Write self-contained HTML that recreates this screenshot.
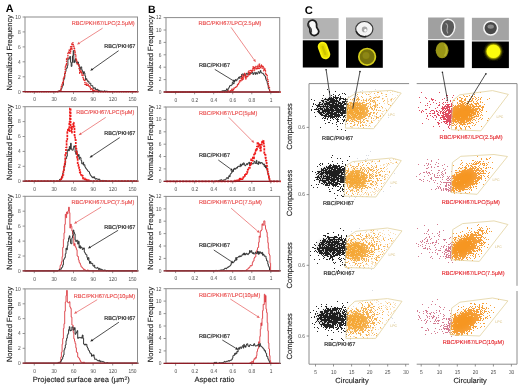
<!DOCTYPE html>
<html><head><meta charset="utf-8"><style>
html,body{margin:0;padding:0;background:#fff;width:520px;height:387px;overflow:hidden}
svg{display:block;font-family:"Liberation Sans", sans-serif;text-rendering:geometricPrecision}
</style></head><body>
<svg width="520" height="387" viewBox="0 0 520 387">
<defs><filter id="gblur" x="0" y="0" width="520" height="387" filterUnits="userSpaceOnUse"><feGaussianBlur stdDeviation="0.35"/></filter><filter id="bl2" x="-50%" y="-50%" width="200%" height="200%"><feGaussianBlur stdDeviation="2"/></filter><filter id="bl1" x="-50%" y="-50%" width="200%" height="200%"><feGaussianBlur stdDeviation="1"/></filter><filter id="bl06" x="-50%" y="-50%" width="200%" height="200%"><feGaussianBlur stdDeviation="0.5"/></filter><clipPath id="gcL0"><polygon points="345.4,128.1 347.2,98.5 357.5,92.4 391.1,90.4 401.2,93.1 373.6,128.7"/></clipPath><clipPath id="gcR0"><polygon points="451.3,129.7 452.8,100.5 459.7,94.8 492.5,90.6 508.4,94.4 480.9,130.8"/></clipPath><clipPath id="gcL1"><polygon points="344.1,196.1 345.6,166 352.6,161.6 391.7,158 401.3,160.6 375.9,197"/></clipPath><clipPath id="gcR1"><polygon points="450.9,192.5 452.4,162.5 460.8,156.3 494,154.5 507.5,156.5 477.1,194.3"/></clipPath><clipPath id="gcL2"><polygon points="345,267.5 346.5,237.5 355.8,231.3 387.5,228 402,230.9 373.9,268.4"/></clipPath><clipPath id="gcR2"><polygon points="451.2,259.8 452.7,229.6 462.6,223.6 494,220.9 507.9,224.5 479.3,261.4"/></clipPath><clipPath id="gcL3"><polygon points="345.9,338.4 347.2,308.5 354.9,301.3 387.5,298.6 402,301.3 375.7,338.4"/></clipPath><clipPath id="gcR3"><polygon points="450.2,334.8 451.7,308 459.9,302.2 492.5,298 507.9,300.9 479.8,336"/></clipPath></defs>
<rect width="520" height="387" fill="#fff"/>
<g filter="url(#gblur)">
<line x1="22.6" y1="91.7" x2="25" y2="91.7" stroke="#777" stroke-width="0.8"/>
<text transform="translate(20.6 93.5) scale(0.82 1)" font-size="5.9" fill="#4a4a4a" text-anchor="end">0</text>
<line x1="22.6" y1="76.8" x2="25" y2="76.8" stroke="#777" stroke-width="0.8"/>
<text transform="translate(20.6 78.6) scale(0.82 1)" font-size="5.9" fill="#4a4a4a" text-anchor="end">2</text>
<line x1="22.6" y1="61.8" x2="25" y2="61.8" stroke="#777" stroke-width="0.8"/>
<text transform="translate(20.6 63.6) scale(0.82 1)" font-size="5.9" fill="#4a4a4a" text-anchor="end">4</text>
<line x1="22.6" y1="46.9" x2="25" y2="46.9" stroke="#777" stroke-width="0.8"/>
<text transform="translate(20.6 48.7) scale(0.82 1)" font-size="5.9" fill="#4a4a4a" text-anchor="end">6</text>
<line x1="22.6" y1="31.9" x2="25" y2="31.9" stroke="#777" stroke-width="0.8"/>
<text transform="translate(20.6 33.7) scale(0.82 1)" font-size="5.9" fill="#4a4a4a" text-anchor="end">8</text>
<line x1="22.6" y1="17" x2="25" y2="17" stroke="#777" stroke-width="0.8"/>
<text transform="translate(20.6 18.8) scale(0.82 1)" font-size="5.9" fill="#4a4a4a" text-anchor="end">10</text>
<line x1="34.3" y1="91.7" x2="34.3" y2="94" stroke="#777" stroke-width="0.8"/>
<text transform="translate(34.5 101.3) scale(0.82 1)" font-size="5.9" fill="#4a4a4a" text-anchor="middle">0</text>
<line x1="53.9" y1="91.7" x2="53.9" y2="94" stroke="#777" stroke-width="0.8"/>
<text transform="translate(54.1 101.3) scale(0.82 1)" font-size="5.9" fill="#4a4a4a" text-anchor="middle">30</text>
<line x1="73.5" y1="91.7" x2="73.5" y2="94" stroke="#777" stroke-width="0.8"/>
<text transform="translate(73.7 101.3) scale(0.82 1)" font-size="5.9" fill="#4a4a4a" text-anchor="middle">60</text>
<line x1="93.1" y1="91.7" x2="93.1" y2="94" stroke="#777" stroke-width="0.8"/>
<text transform="translate(93.3 101.3) scale(0.82 1)" font-size="5.9" fill="#4a4a4a" text-anchor="middle">90</text>
<line x1="112.7" y1="91.7" x2="112.7" y2="94" stroke="#777" stroke-width="0.8"/>
<text transform="translate(112.9 101.3) scale(0.82 1)" font-size="5.9" fill="#4a4a4a" text-anchor="middle">120</text>
<line x1="132.3" y1="91.7" x2="132.3" y2="94" stroke="#777" stroke-width="0.8"/>
<text transform="translate(132.5 101.3) scale(0.82 1)" font-size="5.9" fill="#4a4a4a" text-anchor="middle">150</text>
<path d="M24.8 91.7H25.5V91.7H26.1V91.7H26.8V91.7H27.4V91.7H28.1V91.7H28.7V91.7H29.4V91.7H30.1V91.7H30.7V91.7H31.4V91.7H32V91.7H32.7V91.7H33.3V91.7H34V91.7H34.6V91.7H35.3V91.7H35.9V91.7H36.6V91.7H37.2V91.7H37.9V91.7H38.5V91.7H39.2V91.7H39.9V91.7H40.5V91.7H41.2V91.7H41.8V91.7H42.5V91.7H43.1V91.7H43.8V91.7H44.4V91.7H45.1V91.7H45.7V91.7H46.4V91.7H47V91.7H47.7V91.7H48.3V91.7H49V91.7H49.7V91.7H50.3V91.7H51V91.7H51.6V91.7H52.3V91.7H52.9V91.7H53.6V91.7H54.2V91.7H54.9V91.7H55.5V91.7H56.2V91.7H56.8V91.7H57.5V91.7H58.1V91.2H58.8V90.8H59.5V90.7H60.1V91.3H60.8V89.4H61.4V88.3H62.1V86.2H62.7V85.3H63.4V80.2H64V78.4H64.7V73.5H65.3V71.6H66V68.6H66.6V68.1H67.3V65.6H67.9V58.8H68.6V59.2H69.3V57H69.9V56.5H70.6V62.3H71.2V66.4H71.9V62.5H72.5V55.9H73.2V50.6H73.8V62.6H74.5V60.6H75.1V59.1H75.8V62.1H76.4V62.5H77.1V63.6H77.7V62H78.4V65.3H79.1V65.9H79.7V69.5H80.4V67.4H81V66.9H81.7V69.8H82.3V71.8H83V74H83.6V71.6H84.3V73H84.9V75.9H85.6V79.9H86.2V78.7H86.9V80.4H87.5V81.4H88.2V81.1H88.9V83.1H89.5V83.4H90.2V83.2H90.8V85.7H91.5V85.5H92.1V85.7H92.8V87.4H93.4V88.6H94.1V87.9H94.7V87.8H95.4V89.7H96V89.4H96.7V89.9H97.3V89.2H98V90.8H98.7V90.3H99.3V91.1H100V91.1H100.6V90.9H101.3V91.2H101.9V91.1H102.6V91.4H103.2V91.7H103.9V90.9H104.5V90.8H105.2V91.5H105.8V91.7H106.5V91H107.1V91.4H107.8V91.7H108.4V91.7H109.1V91.7H109.8V91.7H110.4V91.7H111.1V91.7H111.7V91.7H112.4V91.7H113V91.7H113.7V91.7H114.3V91.7H115V91.7H115.6V91.7H116.3V91.7H116.9V91.7H117.6V91.7H118.2V91.7H118.9V91.7H119.6V91.7H120.2V91.7H120.9V91.7H121.5V91.7H122.2V91.7H122.8V91.7H123.5V91.7H124.1V91.7H124.8V91.7H125.4V91.7H126.1V91.7H126.7V91.7H127.4V91.7H128V91.7H128.7V91.7H129.4V91.7H130V91.7H130.7V91.7H131.3V91.7H132V91.7H132.6V91.7H133.3V91.7H133.9V91.7H134.6V91.7H135.2V91.7H135.9V91.7H136.5V91.7H137.2V91.7H137.8V91.7H138.5" fill="none" stroke="#2b2b2b" stroke-width="0.95" stroke-linejoin="round"/>
<path d="M24.8 91.7H25.5V91.7H26.1V91.7H26.8V91.7H27.4V91.7H28.1V91.7H28.7V91.7H29.4V91.7H30.1V91.7H30.7V91.7H31.4V91.7H32V91.7H32.7V91.7H33.3V91.7H34V91.7H34.6V91.7H35.3V91.7H35.9V91.7H36.6V91.7H37.2V91.7H37.9V91.7H38.5V91.7H39.2V91.7H39.9V91.7H40.5V91.7H41.2V91.7H41.8V91.7H42.5V91.7H43.1V91.7H43.8V91.7H44.4V91.7H45.1V91.7H45.7V91.7H46.4V91.7H47V91.7H47.7V91.7H48.3V91.7H49V91.7H49.7V91.7H50.3V91.7H51V91.7H51.6V91.7H52.3V91.7H52.9V91.7H53.6V91.7H54.2V91.7H54.9V91.7H55.5V91.7H56.2V91.7H56.8V91.7H57.5V91.7H58.1V91.3H58.8V91.2H59.5V91.1H60.1V90.7H60.8V88.1H61.4V86.3H62.1V83.4H62.7V81.9H63.4V78.6H64V76.4H64.7V73.5H65.3V67H66V64.4H66.6V58.4H67.3V58.4H67.9V52.1H68.6V53.3H69.3V49.7H69.9V53H70.6V46.8H71.2V49.5H71.9V43.7H72.5V42.9H73.2V45.9H73.8V48.1H74.5V50.5H75.1V54.4H75.8V59.3H76.4V60.5H77.1V64.1H77.7V64.4H78.4V64.7H79.1V68.7H79.7V73.2H80.4V70.8H81V72.1H81.7V75H82.3V74.5H83V78.8H83.6V79.7H84.3V80.2H84.9V84.4H85.6V85.3H86.2V83.1H86.9V85.2H87.5V84.5H88.2V85.7H88.9V86.3H89.5V87H90.2V88.8H90.8V89.6H91.5V88.8H92.1V89.5H92.8V90.9H93.4V90.9H94.1V90.5H94.7V90.5H95.4V91.2H96V91.5H96.7V90.9H97.3V91.7H98V91.7H98.7V91.7H99.3V91.7H100V91.7H100.6V91.7H101.3V91.7H101.9V91.7H102.6V91.7H103.2V91.7H103.9V91.7H104.5V91.7H105.2V91.7H105.8V91.7H106.5V91.7H107.1V91.7H107.8V91.7H108.4V91.7H109.1V91.7H109.8V91.7H110.4V91.7H111.1V91.7H111.7V91.7H112.4V91.7H113V91.7H113.7V91.7H114.3V91.7H115V91.7H115.6V91.7H116.3V91.7H116.9V91.7H117.6V91.7H118.2V91.7H118.9V91.7H119.6V91.7H120.2V91.7H120.9V91.7H121.5V91.7H122.2V91.7H122.8V91.7H123.5V91.7H124.1V91.7H124.8V91.7H125.4V91.7H126.1V91.7H126.7V91.7H127.4V91.7H128V91.7H128.7V91.7H129.4V91.7H130V91.7H130.7V91.7H131.3V91.7H132V91.7H132.6V91.7H133.3V91.7H133.9V91.7H134.6V91.7H135.2V91.7H135.9V91.7H136.5V91.7H137.2V91.7H137.8V91.7H138.5" fill="none" stroke="#e02a2a" stroke-width="1.4" stroke-dasharray="1.6 0.7" stroke-linejoin="round"/>
<rect x="25" y="17" width="112.5" height="74.7" fill="none" stroke="#8c8c8c" stroke-width="1"/>
<line x1="22.6" y1="91.7" x2="137.5" y2="91.7" stroke="#8e1e26" stroke-width="1.3"/>
<text x="134.7" y="25.1" font-size="5.6" fill="#e84a4a" text-anchor="end" stroke="#e84a4a" stroke-width="0.12">RBC/PKH67/LPC(2.5µM)</text>
<line x1="102.6" y1="28.2" x2="79.5" y2="42.9" stroke="#e65a5a" stroke-width="0.7"/>
<path d="M77.0 44.5L78.8 41.8L80.2 44.0Z" fill="#e65a5a"/>
<text x="135.4" y="48" font-size="5.6" fill="#2a2a2a" text-anchor="end" stroke="#2a2a2a" stroke-width="0.18">RBC/PKH67</text>
<line x1="118.6" y1="50.7" x2="92.6" y2="69.1" stroke="#222" stroke-width="0.8"/>
<path d="M90.2 70.8L91.9 68.0L93.4 70.1Z" fill="#222"/>
<text x="12.2" y="52.8" font-size="7.5" fill="#1a1a1a" text-anchor="middle" transform="rotate(-90 12.2 52.8)" stroke="#1a1a1a" stroke-width="0.12">Normalized Frequency</text>
<line x1="22.6" y1="181.2" x2="25" y2="181.2" stroke="#777" stroke-width="0.8"/>
<text transform="translate(20.6 183) scale(0.82 1)" font-size="5.9" fill="#4a4a4a" text-anchor="end">0</text>
<line x1="22.6" y1="166.3" x2="25" y2="166.3" stroke="#777" stroke-width="0.8"/>
<text transform="translate(20.6 168.1) scale(0.82 1)" font-size="5.9" fill="#4a4a4a" text-anchor="end">2</text>
<line x1="22.6" y1="151.4" x2="25" y2="151.4" stroke="#777" stroke-width="0.8"/>
<text transform="translate(20.6 153.2) scale(0.82 1)" font-size="5.9" fill="#4a4a4a" text-anchor="end">4</text>
<line x1="22.6" y1="136.5" x2="25" y2="136.5" stroke="#777" stroke-width="0.8"/>
<text transform="translate(20.6 138.3) scale(0.82 1)" font-size="5.9" fill="#4a4a4a" text-anchor="end">6</text>
<line x1="22.6" y1="121.6" x2="25" y2="121.6" stroke="#777" stroke-width="0.8"/>
<text transform="translate(20.6 123.4) scale(0.82 1)" font-size="5.9" fill="#4a4a4a" text-anchor="end">8</text>
<line x1="22.6" y1="106.7" x2="25" y2="106.7" stroke="#777" stroke-width="0.8"/>
<text transform="translate(20.6 108.5) scale(0.82 1)" font-size="5.9" fill="#4a4a4a" text-anchor="end">10</text>
<line x1="34.3" y1="181.2" x2="34.3" y2="183.5" stroke="#777" stroke-width="0.8"/>
<text transform="translate(34.5 190.8) scale(0.82 1)" font-size="5.9" fill="#4a4a4a" text-anchor="middle">0</text>
<line x1="53.9" y1="181.2" x2="53.9" y2="183.5" stroke="#777" stroke-width="0.8"/>
<text transform="translate(54.1 190.8) scale(0.82 1)" font-size="5.9" fill="#4a4a4a" text-anchor="middle">30</text>
<line x1="73.5" y1="181.2" x2="73.5" y2="183.5" stroke="#777" stroke-width="0.8"/>
<text transform="translate(73.7 190.8) scale(0.82 1)" font-size="5.9" fill="#4a4a4a" text-anchor="middle">60</text>
<line x1="93.1" y1="181.2" x2="93.1" y2="183.5" stroke="#777" stroke-width="0.8"/>
<text transform="translate(93.3 190.8) scale(0.82 1)" font-size="5.9" fill="#4a4a4a" text-anchor="middle">90</text>
<line x1="112.7" y1="181.2" x2="112.7" y2="183.5" stroke="#777" stroke-width="0.8"/>
<text transform="translate(112.9 190.8) scale(0.82 1)" font-size="5.9" fill="#4a4a4a" text-anchor="middle">120</text>
<line x1="132.3" y1="181.2" x2="132.3" y2="183.5" stroke="#777" stroke-width="0.8"/>
<text transform="translate(132.5 190.8) scale(0.82 1)" font-size="5.9" fill="#4a4a4a" text-anchor="middle">150</text>
<path d="M24.8 181.2H25.5V181.2H26.1V181.2H26.8V181.2H27.4V181.2H28.1V181.2H28.7V181.2H29.4V181.2H30.1V181.2H30.7V181.2H31.4V181.2H32V181.2H32.7V181.2H33.3V181.2H34V181.2H34.6V181.2H35.3V181.2H35.9V181.2H36.6V181.2H37.2V181.2H37.9V181.2H38.5V181.2H39.2V181.2H39.9V181.2H40.5V181.2H41.2V181.2H41.8V181.2H42.5V181.2H43.1V181.2H43.8V181.2H44.4V181.2H45.1V181.2H45.7V181.2H46.4V181.2H47V181.2H47.7V181.2H48.3V181.2H49V181.2H49.7V181.2H50.3V181.2H51V181.2H51.6V181.2H52.3V181.2H52.9V181.2H53.6V181.2H54.2V181.2H54.9V181.2H55.5V181.2H56.2V181.2H56.8V181.2H57.5V181.2H58.1V181.2H58.8V180.8H59.5V179.4H60.1V180.3H60.8V179.6H61.4V177H62.1V175.9H62.7V173.2H63.4V171.1H64V166.8H64.7V165.1H65.3V158.3H66V158.6H66.6V156.3H67.3V150.3H67.9V149.3H68.6V150.9H69.3V146.5H69.9V149.2H70.6V143.2H71.2V149.1H71.9V150.2H72.5V150.2H73.2V148H73.8V145.9H74.5V147.1H75.1V152.1H75.8V154.3H76.4V150.7H77.1V155H77.7V156.5H78.4V154.5H79.1V159.2H79.7V157.1H80.4V157.7H81V160.6H81.7V163.7H82.3V164H83V162.3H83.6V165.2H84.3V164.7H84.9V167.1H85.6V168.2H86.2V169H86.9V169.9H87.5V170.8H88.2V171.5H88.9V171.9H89.5V173.7H90.2V175.2H90.8V175.9H91.5V176.6H92.1V177.7H92.8V176.8H93.4V177.8H94.1V176.8H94.7V178.5H95.4V179.2H96V178.6H96.7V179.1H97.3V179.1H98V179.6H98.7V178.9H99.3V180.3H100V180H100.6V180.5H101.3V180.7H101.9V181.2H102.6V180.4H103.2V181.2H103.9V180.6H104.5V180.6H105.2V180.7H105.8V181.2H106.5V180.7H107.1V181.2H107.8V181.2H108.4V181.2H109.1V181.2H109.8V181.2H110.4V181.2H111.1V181.2H111.7V181.2H112.4V181.2H113V181.2H113.7V181.2H114.3V181.2H115V181.2H115.6V181.2H116.3V181.2H116.9V181.2H117.6V181.2H118.2V181.2H118.9V181.2H119.6V181.2H120.2V181.2H120.9V181.2H121.5V181.2H122.2V181.2H122.8V181.2H123.5V181.2H124.1V181.2H124.8V181.2H125.4V181.2H126.1V181.2H126.7V181.2H127.4V181.2H128V181.2H128.7V181.2H129.4V181.2H130V181.2H130.7V181.2H131.3V181.2H132V181.2H132.6V181.2H133.3V181.2H133.9V181.2H134.6V181.2H135.2V181.2H135.9V181.2H136.5V181.2H137.2V181.2H137.8V181.2H138.5" fill="none" stroke="#2b2b2b" stroke-width="0.95" stroke-linejoin="round"/>
<path d="M24.8 181.2H25.5V181.2H26.1V181.2H26.8V181.2H27.4V181.2H28.1V181.2H28.7V181.2H29.4V181.2H30.1V181.2H30.7V181.2H31.4V181.2H32V181.2H32.7V181.2H33.3V181.2H34V181.2H34.6V181.2H35.3V181.2H35.9V181.2H36.6V181.2H37.2V181.2H37.9V181.2H38.5V181.2H39.2V181.2H39.9V181.2H40.5V181.2H41.2V181.2H41.8V181.2H42.5V181.2H43.1V181.2H43.8V181.2H44.4V181.2H45.1V181.2H45.7V181.2H46.4V181.2H47V181.2H47.7V181.2H48.3V181.2H49V181.2H49.7V181.2H50.3V181.2H51V181.2H51.6V181.2H52.3V181.2H52.9V181.2H53.6V181.2H54.2V181.2H54.9V181.2H55.5V181.2H56.2V181.2H56.8V181.2H57.5V181.2H58.1V181.2H58.8V181.2H59.5V180.5H60.1V180.3H60.8V179H61.4V177.8H62.1V176.7H62.7V174.9H63.4V171.2H64V166.4H64.7V163.7H65.3V154.5H66V147.5H66.6V139.3H67.3V131.8H67.9V128.6H68.6V131.1H69.3V122.1H69.9V108.3H70.6V127.4H71.2V132.7H71.9V126.8H72.5V126.9H73.2V122.6H73.8V126.3H74.5V135.4H75.1V139.7H75.8V148.3H76.4V153.2H77.1V157.7H77.7V164.5H78.4V166.1H79.1V168.2H79.7V172.2H80.4V173.2H81V175H81.7V174.5H82.3V175.9H83V178.6H83.6V178.5H84.3V178.4H84.9V179.4H85.6V180.3H86.2V179.7H86.9V181.1H87.5V179.8H88.2V180.1H88.9V180.7H89.5V180.4H90.2V181.2H90.8V181.2H91.5V181.2H92.1V181.2H92.8V181.2H93.4V181.2H94.1V181.2H94.7V181.2H95.4V181.2H96V181.2H96.7V181.2H97.3V181.2H98V181.2H98.7V181.2H99.3V181.2H100V181.2H100.6V181.2H101.3V181.2H101.9V181.2H102.6V181.2H103.2V181.2H103.9V181.2H104.5V181.2H105.2V181.2H105.8V181.2H106.5V181.2H107.1V181.2H107.8V181.2H108.4V181.2H109.1V181.2H109.8V181.2H110.4V181.2H111.1V181.2H111.7V181.2H112.4V181.2H113V181.2H113.7V181.2H114.3V181.2H115V181.2H115.6V181.2H116.3V181.2H116.9V181.2H117.6V181.2H118.2V181.2H118.9V181.2H119.6V181.2H120.2V181.2H120.9V181.2H121.5V181.2H122.2V181.2H122.8V181.2H123.5V181.2H124.1V181.2H124.8V181.2H125.4V181.2H126.1V181.2H126.7V181.2H127.4V181.2H128V181.2H128.7V181.2H129.4V181.2H130V181.2H130.7V181.2H131.3V181.2H132V181.2H132.6V181.2H133.3V181.2H133.9V181.2H134.6V181.2H135.2V181.2H135.9V181.2H136.5V181.2H137.2V181.2H137.8V181.2H138.5" fill="none" stroke="#ee1c1c" stroke-width="1.7" stroke-dasharray="2.2 0.9" stroke-linejoin="round"/>
<rect x="25" y="106.7" width="112.5" height="74.5" fill="none" stroke="#8c8c8c" stroke-width="1"/>
<line x1="22.6" y1="181.2" x2="137.5" y2="181.2" stroke="#8e1e26" stroke-width="1.3"/>
<text x="134.4" y="114.4" font-size="5.6" fill="#e84a4a" text-anchor="end" stroke="#e84a4a" stroke-width="0.12">RBC/PKH67/LPC(5µM)</text>
<line x1="105.7" y1="117.4" x2="81.1" y2="133.6" stroke="#e65a5a" stroke-width="0.7"/>
<path d="M78.6 135.2L80.4 132.5L81.8 134.6Z" fill="#e65a5a"/>
<text x="135.4" y="134.9" font-size="5.6" fill="#2a2a2a" text-anchor="end" stroke="#2a2a2a" stroke-width="0.18">RBC/PKH67</text>
<line x1="119.7" y1="137.6" x2="92" y2="156" stroke="#222" stroke-width="0.8"/>
<path d="M89.5 157.7L91.3 155.0L92.7 157.1Z" fill="#222"/>
<text x="12.2" y="142.3" font-size="7.5" fill="#1a1a1a" text-anchor="middle" transform="rotate(-90 12.2 142.3)" stroke="#1a1a1a" stroke-width="0.12">Normalized Frequency</text>
<line x1="22.6" y1="270.9" x2="25" y2="270.9" stroke="#777" stroke-width="0.8"/>
<text transform="translate(20.6 272.7) scale(0.82 1)" font-size="5.9" fill="#4a4a4a" text-anchor="end">0</text>
<line x1="22.6" y1="256" x2="25" y2="256" stroke="#777" stroke-width="0.8"/>
<text transform="translate(20.6 257.8) scale(0.82 1)" font-size="5.9" fill="#4a4a4a" text-anchor="end">2</text>
<line x1="22.6" y1="241.1" x2="25" y2="241.1" stroke="#777" stroke-width="0.8"/>
<text transform="translate(20.6 242.9) scale(0.82 1)" font-size="5.9" fill="#4a4a4a" text-anchor="end">4</text>
<line x1="22.6" y1="226.1" x2="25" y2="226.1" stroke="#777" stroke-width="0.8"/>
<text transform="translate(20.6 227.9) scale(0.82 1)" font-size="5.9" fill="#4a4a4a" text-anchor="end">6</text>
<line x1="22.6" y1="211.2" x2="25" y2="211.2" stroke="#777" stroke-width="0.8"/>
<text transform="translate(20.6 213) scale(0.82 1)" font-size="5.9" fill="#4a4a4a" text-anchor="end">8</text>
<line x1="22.6" y1="196.3" x2="25" y2="196.3" stroke="#777" stroke-width="0.8"/>
<text transform="translate(20.6 198.1) scale(0.82 1)" font-size="5.9" fill="#4a4a4a" text-anchor="end">10</text>
<line x1="34.3" y1="270.9" x2="34.3" y2="273.2" stroke="#777" stroke-width="0.8"/>
<text transform="translate(34.5 280.5) scale(0.82 1)" font-size="5.9" fill="#4a4a4a" text-anchor="middle">0</text>
<line x1="53.9" y1="270.9" x2="53.9" y2="273.2" stroke="#777" stroke-width="0.8"/>
<text transform="translate(54.1 280.5) scale(0.82 1)" font-size="5.9" fill="#4a4a4a" text-anchor="middle">30</text>
<line x1="73.5" y1="270.9" x2="73.5" y2="273.2" stroke="#777" stroke-width="0.8"/>
<text transform="translate(73.7 280.5) scale(0.82 1)" font-size="5.9" fill="#4a4a4a" text-anchor="middle">60</text>
<line x1="93.1" y1="270.9" x2="93.1" y2="273.2" stroke="#777" stroke-width="0.8"/>
<text transform="translate(93.3 280.5) scale(0.82 1)" font-size="5.9" fill="#4a4a4a" text-anchor="middle">90</text>
<line x1="112.7" y1="270.9" x2="112.7" y2="273.2" stroke="#777" stroke-width="0.8"/>
<text transform="translate(112.9 280.5) scale(0.82 1)" font-size="5.9" fill="#4a4a4a" text-anchor="middle">120</text>
<line x1="132.3" y1="270.9" x2="132.3" y2="273.2" stroke="#777" stroke-width="0.8"/>
<text transform="translate(132.5 280.5) scale(0.82 1)" font-size="5.9" fill="#4a4a4a" text-anchor="middle">150</text>
<path d="M24.8 270.9H25.5V270.9H26.1V270.9H26.8V270.9H27.4V270.9H28.1V270.9H28.7V270.9H29.4V270.9H30.1V270.9H30.7V270.9H31.4V270.9H32V270.9H32.7V270.9H33.3V270.9H34V270.9H34.6V270.9H35.3V270.9H35.9V270.9H36.6V270.9H37.2V270.9H37.9V270.9H38.5V270.9H39.2V270.9H39.9V270.9H40.5V270.9H41.2V270.9H41.8V270.9H42.5V270.9H43.1V270.9H43.8V270.9H44.4V270.9H45.1V270.9H45.7V270.9H46.4V270.9H47V270.9H47.7V270.9H48.3V270.9H49V270.9H49.7V270.9H50.3V270.9H51V270.9H51.6V270.9H52.3V270.9H52.9V270.9H53.6V270.9H54.2V270.9H54.9V270.9H55.5V270.9H56.2V270.9H56.8V270.9H57.5V270.9H58.1V270.5H58.8V270.7H59.5V268.6H60.1V265.5H60.8V264.5H61.4V261.8H62.1V256.6H62.7V247.5H63.4V239.4H64V232.8H64.7V224.4H65.3V214.3H66V217.7H66.6V212H67.3V213.9H67.9V211H68.6V207.2H69.3V212.7H69.9V228.1H70.6V224.1H71.2V226.3H71.9V231H72.5V234.1H73.2V237.3H73.8V245.6H74.5V243.5H75.1V246.5H75.8V247.9H76.4V249.7H77.1V255.9H77.7V256.5H78.4V259.9H79.1V262.4H79.7V263.3H80.4V264.9H81V266.9H81.7V267.1H82.3V267.9H83V268.8H83.6V269.7H84.3V269.3H84.9V270H85.6V270.5H86.2V270.7H86.9V270.8H87.5V269.9H88.2V270.9H88.9V270.9H89.5V270.9H90.2V270.9H90.8V270.9H91.5V270.9H92.1V270.9H92.8V270.9H93.4V270.9H94.1V270.9H94.7V270.9H95.4V270.9H96V270.9H96.7V270.9H97.3V270.9H98V270.9H98.7V270.9H99.3V270.9H100V270.9H100.6V270.9H101.3V270.9H101.9V270.9H102.6V270.9H103.2V270.9H103.9V270.9H104.5V270.9H105.2V270.9H105.8V270.9H106.5V270.9H107.1V270.9H107.8V270.9H108.4V270.9H109.1V270.9H109.8V270.9H110.4V270.9H111.1V270.9H111.7V270.9H112.4V270.9H113V270.9H113.7V270.9H114.3V270.9H115V270.9H115.6V270.9H116.3V270.9H116.9V270.9H117.6V270.9H118.2V270.9H118.9V270.9H119.6V270.9H120.2V270.9H120.9V270.9H121.5V270.9H122.2V270.9H122.8V270.9H123.5V270.9H124.1V270.9H124.8V270.9H125.4V270.9H126.1V270.9H126.7V270.9H127.4V270.9H128V270.9H128.7V270.9H129.4V270.9H130V270.9H130.7V270.9H131.3V270.9H132V270.9H132.6V270.9H133.3V270.9H133.9V270.9H134.6V270.9H135.2V270.9H135.9V270.9H136.5V270.9H137.2V270.9H137.8V270.9H138.5" fill="none" stroke="#dc3a42" stroke-width="0.9" stroke-linejoin="round"/>
<path d="M24.8 270.9H25.5V270.9H26.1V270.9H26.8V270.9H27.4V270.9H28.1V270.9H28.7V270.9H29.4V270.9H30.1V270.9H30.7V270.9H31.4V270.9H32V270.9H32.7V270.9H33.3V270.9H34V270.9H34.6V270.9H35.3V270.9H35.9V270.9H36.6V270.9H37.2V270.9H37.9V270.9H38.5V270.9H39.2V270.9H39.9V270.9H40.5V270.9H41.2V270.9H41.8V270.9H42.5V270.9H43.1V270.9H43.8V270.9H44.4V270.9H45.1V270.9H45.7V270.9H46.4V270.9H47V270.9H47.7V270.9H48.3V270.9H49V270.9H49.7V270.9H50.3V270.9H51V270.9H51.6V270.9H52.3V270.9H52.9V270.9H53.6V270.9H54.2V270.9H54.9V270.9H55.5V270.9H56.2V270.9H56.8V270.9H57.5V270.9H58.1V270.4H58.8V269.9H59.5V269.7H60.1V269.2H60.8V269.2H61.4V267.8H62.1V267H62.7V264.9H63.4V260H64V258.6H64.7V257.5H65.3V253.8H66V248.1H66.6V249.8H67.3V245.7H67.9V241.5H68.6V237.9H69.3V235.8H69.9V239.4H70.6V243.4H71.2V243.8H71.9V237.9H72.5V235.7H73.2V230H73.8V232.3H74.5V233.9H75.1V240.1H75.8V241.7H76.4V240.3H77.1V240.3H77.7V244.1H78.4V241.3H79.1V248H79.7V245.7H80.4V248.3H81V247H81.7V247.7H82.3V249.5H83V249H83.6V247.9H84.3V252H84.9V253.2H85.6V254.4H86.2V254.7H86.9V257.4H87.5V259.6H88.2V257.6H88.9V261H89.5V263.4H90.2V261.5H90.8V263.7H91.5V263.1H92.1V263.6H92.8V265.7H93.4V266.2H94.1V265.2H94.7V267.7H95.4V267.9H96V268.1H96.7V268.2H97.3V267.4H98V268.6H98.7V269.8H99.3V268.4H100V269H100.6V269.7H101.3V269.2H101.9V269.8H102.6V269.9H103.2V270.6H103.9V270.4H104.5V269.9H105.2V270.4H105.8V270.8H106.5V270.9H107.1V270.5H107.8V270.9H108.4V270.9H109.1V270.9H109.8V270.9H110.4V270.9H111.1V270.9H111.7V270.9H112.4V270.9H113V270.9H113.7V270.9H114.3V270.9H115V270.9H115.6V270.9H116.3V270.9H116.9V270.9H117.6V270.9H118.2V270.9H118.9V270.9H119.6V270.9H120.2V270.9H120.9V270.9H121.5V270.9H122.2V270.9H122.8V270.9H123.5V270.9H124.1V270.9H124.8V270.9H125.4V270.9H126.1V270.9H126.7V270.9H127.4V270.9H128V270.9H128.7V270.9H129.4V270.9H130V270.9H130.7V270.9H131.3V270.9H132V270.9H132.6V270.9H133.3V270.9H133.9V270.9H134.6V270.9H135.2V270.9H135.9V270.9H136.5V270.9H137.2V270.9H137.8V270.9H138.5" fill="none" stroke="#2b2b2b" stroke-width="0.95" stroke-linejoin="round"/>
<rect x="25" y="196.3" width="112.5" height="74.6" fill="none" stroke="#8c8c8c" stroke-width="1"/>
<line x1="22.6" y1="270.9" x2="137.5" y2="270.9" stroke="#8e1e26" stroke-width="1.3"/>
<text x="134.4" y="204.4" font-size="5.6" fill="#e84a4a" text-anchor="end" stroke="#e84a4a" stroke-width="0.12">RBC/PKH67/LPC(7.5µM)</text>
<line x1="101.1" y1="207.1" x2="76.6" y2="222.1" stroke="#e65a5a" stroke-width="0.7"/>
<path d="M74.0 223.7L75.9 221.0L77.2 223.2Z" fill="#e65a5a"/>
<text x="135.4" y="228.8" font-size="5.6" fill="#2a2a2a" text-anchor="end" stroke="#2a2a2a" stroke-width="0.18">RBC/PKH67</text>
<line x1="118.1" y1="230.3" x2="90.5" y2="247" stroke="#222" stroke-width="0.8"/>
<path d="M87.9 248.5L89.8 245.8L91.1 248.1Z" fill="#222"/>
<text x="12.2" y="232" font-size="7.5" fill="#1a1a1a" text-anchor="middle" transform="rotate(-90 12.2 232)" stroke="#1a1a1a" stroke-width="0.12">Normalized Frequency</text>
<line x1="22.6" y1="363.2" x2="25" y2="363.2" stroke="#777" stroke-width="0.8"/>
<text transform="translate(20.6 365) scale(0.82 1)" font-size="5.9" fill="#4a4a4a" text-anchor="end">0</text>
<line x1="22.6" y1="348.3" x2="25" y2="348.3" stroke="#777" stroke-width="0.8"/>
<text transform="translate(20.6 350.1) scale(0.82 1)" font-size="5.9" fill="#4a4a4a" text-anchor="end">2</text>
<line x1="22.6" y1="333.5" x2="25" y2="333.5" stroke="#777" stroke-width="0.8"/>
<text transform="translate(20.6 335.3) scale(0.82 1)" font-size="5.9" fill="#4a4a4a" text-anchor="end">4</text>
<line x1="22.6" y1="318.6" x2="25" y2="318.6" stroke="#777" stroke-width="0.8"/>
<text transform="translate(20.6 320.4) scale(0.82 1)" font-size="5.9" fill="#4a4a4a" text-anchor="end">6</text>
<line x1="22.6" y1="303.8" x2="25" y2="303.8" stroke="#777" stroke-width="0.8"/>
<text transform="translate(20.6 305.6) scale(0.82 1)" font-size="5.9" fill="#4a4a4a" text-anchor="end">8</text>
<line x1="22.6" y1="288.9" x2="25" y2="288.9" stroke="#777" stroke-width="0.8"/>
<text transform="translate(20.6 290.7) scale(0.82 1)" font-size="5.9" fill="#4a4a4a" text-anchor="end">10</text>
<line x1="34.3" y1="363.2" x2="34.3" y2="365.5" stroke="#777" stroke-width="0.8"/>
<text transform="translate(34.5 372.8) scale(0.82 1)" font-size="5.9" fill="#4a4a4a" text-anchor="middle">0</text>
<line x1="53.9" y1="363.2" x2="53.9" y2="365.5" stroke="#777" stroke-width="0.8"/>
<text transform="translate(54.1 372.8) scale(0.82 1)" font-size="5.9" fill="#4a4a4a" text-anchor="middle">30</text>
<line x1="73.5" y1="363.2" x2="73.5" y2="365.5" stroke="#777" stroke-width="0.8"/>
<text transform="translate(73.7 372.8) scale(0.82 1)" font-size="5.9" fill="#4a4a4a" text-anchor="middle">60</text>
<line x1="93.1" y1="363.2" x2="93.1" y2="365.5" stroke="#777" stroke-width="0.8"/>
<text transform="translate(93.3 372.8) scale(0.82 1)" font-size="5.9" fill="#4a4a4a" text-anchor="middle">90</text>
<line x1="112.7" y1="363.2" x2="112.7" y2="365.5" stroke="#777" stroke-width="0.8"/>
<text transform="translate(112.9 372.8) scale(0.82 1)" font-size="5.9" fill="#4a4a4a" text-anchor="middle">120</text>
<line x1="132.3" y1="363.2" x2="132.3" y2="365.5" stroke="#777" stroke-width="0.8"/>
<text transform="translate(132.5 372.8) scale(0.82 1)" font-size="5.9" fill="#4a4a4a" text-anchor="middle">150</text>
<path d="M24.8 363.2H25.5V363.2H26.1V363.2H26.8V363.2H27.4V363.2H28.1V363.2H28.7V363.2H29.4V363.2H30.1V363.2H30.7V363.2H31.4V363.2H32V363.2H32.7V363.2H33.3V363.2H34V363.2H34.6V363.2H35.3V363.2H35.9V363.2H36.6V363.2H37.2V363.2H37.9V363.2H38.5V363.2H39.2V363.2H39.9V363.2H40.5V363.2H41.2V363.2H41.8V363.2H42.5V363.2H43.1V363.2H43.8V363.2H44.4V363.2H45.1V363.2H45.7V363.2H46.4V363.2H47V363.2H47.7V363.2H48.3V363.2H49V363.2H49.7V363.2H50.3V363.2H51V363.2H51.6V363.2H52.3V363.2H52.9V363.2H53.6V363.2H54.2V363.2H54.9V363.2H55.5V363.2H56.2V363.2H56.8V363.2H57.5V363.2H58.1V362.4H58.8V362.4H59.5V362.8H60.1V361.4H60.8V357.1H61.4V352.2H62.1V344.2H62.7V338.5H63.4V328.5H64V323.7H64.7V311.2H65.3V302.1H66V295.6H66.6V290.4H67.3V302H67.9V302.8H68.6V302.7H69.3V301.7H69.9V307.1H70.6V308.4H71.2V317.1H71.9V325H72.5V325.2H73.2V332.4H73.8V338.8H74.5V341.3H75.1V343.6H75.8V347.8H76.4V352.1H77.1V352.7H77.7V357H78.4V357.8H79.1V358.4H79.7V360.1H80.4V361.4H81V362.2H81.7V362.6H82.3V362.4H83V363.2H83.6V362H84.3V362.9H84.9V363.2H85.6V363.2H86.2V363.2H86.9V363.2H87.5V363.2H88.2V363.2H88.9V363.2H89.5V363.2H90.2V363.2H90.8V363.2H91.5V363.2H92.1V363.2H92.8V363.2H93.4V363.2H94.1V363.2H94.7V363.2H95.4V363.2H96V363.2H96.7V363.2H97.3V363.2H98V363.2H98.7V363.2H99.3V363.2H100V363.2H100.6V363.2H101.3V363.2H101.9V363.2H102.6V363.2H103.2V363.2H103.9V363.2H104.5V363.2H105.2V363.2H105.8V363.2H106.5V363.2H107.1V363.2H107.8V363.2H108.4V363.2H109.1V363.2H109.8V363.2H110.4V363.2H111.1V363.2H111.7V363.2H112.4V363.2H113V363.2H113.7V363.2H114.3V363.2H115V363.2H115.6V363.2H116.3V363.2H116.9V363.2H117.6V363.2H118.2V363.2H118.9V363.2H119.6V363.2H120.2V363.2H120.9V363.2H121.5V363.2H122.2V363.2H122.8V363.2H123.5V363.2H124.1V363.2H124.8V363.2H125.4V363.2H126.1V363.2H126.7V363.2H127.4V363.2H128V363.2H128.7V363.2H129.4V363.2H130V363.2H130.7V363.2H131.3V363.2H132V363.2H132.6V363.2H133.3V363.2H133.9V363.2H134.6V363.2H135.2V363.2H135.9V363.2H136.5V363.2H137.2V363.2H137.8V363.2H138.5" fill="none" stroke="#dc3a42" stroke-width="0.9" stroke-linejoin="round"/>
<path d="M24.8 363.2H25.5V363.2H26.1V363.2H26.8V363.2H27.4V363.2H28.1V363.2H28.7V363.2H29.4V363.2H30.1V363.2H30.7V363.2H31.4V363.2H32V363.2H32.7V363.2H33.3V363.2H34V363.2H34.6V363.2H35.3V363.2H35.9V363.2H36.6V363.2H37.2V363.2H37.9V363.2H38.5V363.2H39.2V363.2H39.9V363.2H40.5V363.2H41.2V363.2H41.8V363.2H42.5V363.2H43.1V363.2H43.8V363.2H44.4V363.2H45.1V363.2H45.7V363.2H46.4V363.2H47V363.2H47.7V363.2H48.3V363.2H49V363.2H49.7V363.2H50.3V363.2H51V363.2H51.6V363.2H52.3V363.2H52.9V363.2H53.6V363.2H54.2V363.2H54.9V363.2H55.5V363.2H56.2V363.2H56.8V363.2H57.5V363.2H58.1V362.6H58.8V362.7H59.5V362.4H60.1V362.8H60.8V361.1H61.4V359.5H62.1V359H62.7V356.8H63.4V355H64V349.8H64.7V348.1H65.3V345H66V340.6H66.6V338.2H67.3V335.1H67.9V333.6H68.6V329.6H69.3V326.7H69.9V330.9H70.6V330H71.2V330.3H71.9V326.8H72.5V327.2H73.2V330.1H73.8V329.8H74.5V327.6H75.1V334.3H75.8V333.2H76.4V332H77.1V330.6H77.7V338.4H78.4V337.4H79.1V337.4H79.7V338H80.4V337.6H81V337.2H81.7V338.3H82.3V335H83V338.3H83.6V344H84.3V345H84.9V344.1H85.6V345.1H86.2V344.3H86.9V346.9H87.5V348.1H88.2V350H88.9V350.8H89.5V352.3H90.2V353.7H90.8V353.6H91.5V356.3H92.1V355.1H92.8V356H93.4V354.8H94.1V357.7H94.7V359.4H95.4V359.2H96V359.2H96.7V360H97.3V360.7H98V360.5H98.7V361.2H99.3V360.2H100V361.9H100.6V361.2H101.3V361.3H101.9V361.6H102.6V361.4H103.2V362H103.9V362H104.5V362.9H105.2V363.2H105.8V363H106.5V362.8H107.1V362.5H107.8V363.2H108.4V363.2H109.1V363.2H109.8V363.2H110.4V363.2H111.1V363.2H111.7V363.2H112.4V363.2H113V363.2H113.7V363.2H114.3V363.2H115V363.2H115.6V363.2H116.3V363.2H116.9V363.2H117.6V363.2H118.2V363.2H118.9V363.2H119.6V363.2H120.2V363.2H120.9V363.2H121.5V363.2H122.2V363.2H122.8V363.2H123.5V363.2H124.1V363.2H124.8V363.2H125.4V363.2H126.1V363.2H126.7V363.2H127.4V363.2H128V363.2H128.7V363.2H129.4V363.2H130V363.2H130.7V363.2H131.3V363.2H132V363.2H132.6V363.2H133.3V363.2H133.9V363.2H134.6V363.2H135.2V363.2H135.9V363.2H136.5V363.2H137.2V363.2H137.8V363.2H138.5" fill="none" stroke="#2b2b2b" stroke-width="0.95" stroke-linejoin="round"/>
<rect x="25" y="288.9" width="112.5" height="74.3" fill="none" stroke="#8c8c8c" stroke-width="1"/>
<line x1="22.6" y1="363.2" x2="137.5" y2="363.2" stroke="#8e1e26" stroke-width="1.3"/>
<text x="135.2" y="297.5" font-size="5.6" fill="#e84a4a" text-anchor="end" stroke="#e84a4a" stroke-width="0.12">RBC/PKH67/LPC(10µM)</text>
<line x1="97.2" y1="299.7" x2="76.6" y2="312.2" stroke="#e65a5a" stroke-width="0.7"/>
<path d="M74.0 313.7L75.9 311.0L77.2 313.3Z" fill="#e65a5a"/>
<text x="135.4" y="319.6" font-size="5.6" fill="#2a2a2a" text-anchor="end" stroke="#2a2a2a" stroke-width="0.18">RBC/PKH67</text>
<line x1="118.9" y1="322.2" x2="92.7" y2="339.9" stroke="#222" stroke-width="0.8"/>
<path d="M90.2 341.6L92.0 338.8L93.4 341.0Z" fill="#222"/>
<text x="12.2" y="324.4" font-size="7.5" fill="#1a1a1a" text-anchor="middle" transform="rotate(-90 12.2 324.4)" stroke="#1a1a1a" stroke-width="0.12">Normalized Frequency</text>
<line x1="163.6" y1="92" x2="166" y2="92" stroke="#777" stroke-width="0.8"/>
<text transform="translate(161.4 93.8) scale(0.82 1)" font-size="5.9" fill="#4a4a4a" text-anchor="end">0</text>
<line x1="163.6" y1="79.6" x2="166" y2="79.6" stroke="#777" stroke-width="0.8"/>
<text transform="translate(161.4 81.4) scale(0.82 1)" font-size="5.9" fill="#4a4a4a" text-anchor="end">2</text>
<line x1="163.6" y1="67.2" x2="166" y2="67.2" stroke="#777" stroke-width="0.8"/>
<text transform="translate(161.4 69) scale(0.82 1)" font-size="5.9" fill="#4a4a4a" text-anchor="end">4</text>
<line x1="163.6" y1="54.8" x2="166" y2="54.8" stroke="#777" stroke-width="0.8"/>
<text transform="translate(161.4 56.6) scale(0.82 1)" font-size="5.9" fill="#4a4a4a" text-anchor="end">6</text>
<line x1="163.6" y1="42.4" x2="166" y2="42.4" stroke="#777" stroke-width="0.8"/>
<text transform="translate(161.4 44.2) scale(0.82 1)" font-size="5.9" fill="#4a4a4a" text-anchor="end">8</text>
<line x1="163.6" y1="30" x2="166" y2="30" stroke="#777" stroke-width="0.8"/>
<text transform="translate(161.4 31.8) scale(0.82 1)" font-size="5.9" fill="#4a4a4a" text-anchor="end">10</text>
<line x1="163.6" y1="17.6" x2="166" y2="17.6" stroke="#777" stroke-width="0.8"/>
<text transform="translate(161.4 19.4) scale(0.82 1)" font-size="5.9" fill="#4a4a4a" text-anchor="end">12</text>
<line x1="175.6" y1="92" x2="175.6" y2="94.3" stroke="#777" stroke-width="0.8"/>
<text transform="translate(175.8 101.6) scale(0.82 1)" font-size="5.9" fill="#4a4a4a" text-anchor="middle">0</text>
<line x1="194.6" y1="92" x2="194.6" y2="94.3" stroke="#777" stroke-width="0.8"/>
<text transform="translate(194.8 101.6) scale(0.82 1)" font-size="5.9" fill="#4a4a4a" text-anchor="middle">0.2</text>
<line x1="213.7" y1="92" x2="213.7" y2="94.3" stroke="#777" stroke-width="0.8"/>
<text transform="translate(213.8 101.6) scale(0.82 1)" font-size="5.9" fill="#4a4a4a" text-anchor="middle">0.4</text>
<line x1="232.7" y1="92" x2="232.7" y2="94.3" stroke="#777" stroke-width="0.8"/>
<text transform="translate(232.9 101.6) scale(0.82 1)" font-size="5.9" fill="#4a4a4a" text-anchor="middle">0.6</text>
<line x1="251.8" y1="92" x2="251.8" y2="94.3" stroke="#777" stroke-width="0.8"/>
<text transform="translate(251.9 101.6) scale(0.82 1)" font-size="5.9" fill="#4a4a4a" text-anchor="middle">0.8</text>
<line x1="270.8" y1="92" x2="270.8" y2="94.3" stroke="#777" stroke-width="0.8"/>
<text transform="translate(271 101.6) scale(0.82 1)" font-size="5.9" fill="#4a4a4a" text-anchor="middle">1</text>
<path d="M166.1 92H166.7V92H167.2V92H167.8V92H168.4V92H168.9V92H169.5V92H170.1V92H170.6V92H171.2V92H171.8V92H172.4V92H172.9V92H173.5V92H174.1V92H174.6V92H175.2V92H175.8V92H176.4V92H176.9V92H177.5V92H178.1V92H178.6V92H179.2V92H179.8V92H180.4V92H180.9V92H181.5V92H182.1V92H182.6V92H183.2V92H183.8V92H184.4V92H184.9V92H185.5V92H186.1V92H186.6V92H187.2V92H187.8V92H188.4V92H188.9V92H189.5V92H190.1V92H190.6V92H191.2V92H191.8V92H192.4V92H192.9V92H193.5V92H194.1V92H194.6V92H195.2V92H195.8V92H196.4V92H196.9V92H197.5V92H198.1V92H198.6V92H199.2V92H199.8V92H200.4V92H200.9V92H201.5V92H202.1V92H202.6V92H203.2V92H203.8V92H204.4V92H204.9V92H205.5V92H206.1V92H206.6V92H207.2V92H207.8V92H208.3V92H208.9V92H209.5V92H210.1V92H210.6V92H211.2V92H211.8V92H212.3V92H212.9V92H213.5V92H214.1V92H214.6V92H215.2V92H215.8V92H216.3V92H216.9V91.5H217.5V91.8H218.1V91.6H218.6V92H219.2V91.8H219.8V91.7H220.3V91.8H220.9V91.3H221.5V91.2H222.1V91.1H222.6V90.7H223.2V90.7H223.8V91.3H224.3V90.6H224.9V90.3H225.5V90.7H226.1V90.1H226.6V88.8H227.2V90.5H227.8V89.4H228.3V88.5H228.9V87.2H229.5V85.9H230.1V85.4H230.6V85.8H231.2V85.1H231.8V84.8H232.3V82.4H232.9V83H233.5V83.8H234.1V80.6H234.6V81H235.2V79.5H235.8V80.5H236.3V80.8H236.9V79.1H237.5V79.2H238.1V78.1H238.6V77.2H239.2V78.3H239.8V76.5H240.3V76.8H240.9V77.3H241.5V74.4H242V74.2H242.6V73.9H243.2V75.5H243.8V74.5H244.3V74.6H244.9V76H245.5V75.8H246V73.3H246.6V73.9H247.2V74.3H247.8V73.4H248.3V74.2H248.9V74.8H249.5V73.8H250V72.8H250.6V73.6H251.2V73H251.8V73H252.3V72.1H252.9V74.5H253.5V73.4H254V73H254.6V72.7H255.2V74.4H255.8V72.4H256.3V73.3H256.9V74.1H257.5V73.4H258V71.7H258.6V71.9H259.2V73.4H259.8V72.3H260.3V70.5H260.9V72.6H261.5V73H262V73.3H262.6V73.2H263.2V74.1H263.8V75H264.3V75.7H264.9V76.3H265.5V78.4H266V80.2H266.6V81H267.2V83.4H267.8V85H268.3V88.3H268.9V89.2H269.5V91.5H270V92H270.6V92H271.2V92H271.8V92H272.3V92H272.9V92H273.5V92H274V92H274.6V92H275.2V92H275.8V92H276.3V92H276.9V92H277.5V92H278V92H278.6V92H279.2V92H279.7V92H280.3V92H280.9" fill="none" stroke="#2b2b2b" stroke-width="0.95" stroke-linejoin="round"/>
<path d="M166.1 92H166.7V92H167.2V92H167.8V92H168.4V92H168.9V92H169.5V92H170.1V92H170.6V92H171.2V92H171.8V92H172.4V92H172.9V92H173.5V92H174.1V92H174.6V92H175.2V92H175.8V92H176.4V92H176.9V92H177.5V92H178.1V92H178.6V92H179.2V92H179.8V92H180.4V92H180.9V92H181.5V92H182.1V92H182.6V92H183.2V92H183.8V92H184.4V92H184.9V92H185.5V92H186.1V92H186.6V92H187.2V92H187.8V92H188.4V92H188.9V92H189.5V92H190.1V92H190.6V92H191.2V92H191.8V92H192.4V92H192.9V92H193.5V92H194.1V92H194.6V92H195.2V92H195.8V92H196.4V92H196.9V92H197.5V92H198.1V92H198.6V92H199.2V92H199.8V92H200.4V92H200.9V92H201.5V92H202.1V92H202.6V92H203.2V92H203.8V92H204.4V92H204.9V92H205.5V92H206.1V92H206.6V92H207.2V92H207.8V92H208.3V92H208.9V92H209.5V92H210.1V92H210.6V92H211.2V92H211.8V92H212.3V92H212.9V92H213.5V92H214.1V92H214.6V92H215.2V92H215.8V92H216.3V92H216.9V92H217.5V92H218.1V92H218.6V92H219.2V92H219.8V92H220.3V92H220.9V92H221.5V92H222.1V92H222.6V92H223.2V92H223.8V92H224.3V92H224.9V92H225.5V91.6H226.1V91.6H226.6V92H227.2V91.6H227.8V92H228.3V90.9H228.9V91.8H229.5V92H230.1V91.2H230.6V90.7H231.2V90H231.8V89.2H232.3V90.6H232.9V89.3H233.5V89.7H234.1V87.9H234.6V87.6H235.2V87.3H235.8V87.1H236.3V86.6H236.9V85.2H237.5V84.3H238.1V84H238.6V82.3H239.2V81.9H239.8V80.7H240.3V81.5H240.9V78.6H241.5V79.9H242V75.3H242.6V80H243.2V77H243.8V76.5H244.3V73.4H244.9V73.6H245.5V78.9H246V75.9H246.6V77.2H247.2V76.6H247.8V75.6H248.3V71.4H248.9V70.9H249.5V74.6H250V72.7H250.6V70.5H251.2V71.1H251.8V72H252.3V70.1H252.9V67H253.5V66.9H254V70.7H254.6V67.3H255.2V66.2H255.8V68.4H256.3V69.5H256.9V66.9H257.5V65.5H258V69H258.6V68.5H259.2V64.1H259.8V66.1H260.3V68.1H260.9V66.1H261.5V64.9H262V68.1H262.6V66.4H263.2V67H263.8V70.9H264.3V68.6H264.9V70.3H265.5V73.8H266V74.5H266.6V74.3H267.2V78.7H267.8V81.5H268.3V86H268.9V87.3H269.5V90.5H270V92H270.6V92H271.2V92H271.8V92H272.3V92H272.9V92H273.5V92H274V92H274.6V92H275.2V92H275.8V92H276.3V92H276.9V92H277.5V92H278V92H278.6V92H279.2V92H279.7V92H280.3V92H280.9" fill="none" stroke="#e02a2a" stroke-width="1.3" stroke-dasharray="1.6 0.7" stroke-linejoin="round"/>
<rect x="166" y="17.6" width="113.7" height="74.4" fill="none" stroke="#8c8c8c" stroke-width="1"/>
<line x1="163.6" y1="92" x2="279.7" y2="92" stroke="#8e1e26" stroke-width="1.3"/>
<text x="198.5" y="25.1" font-size="5.6" fill="#e84a4a" text-anchor="start" stroke="#e84a4a" stroke-width="0.12">RBC/PKH67/LPC(2.5µM)</text>
<line x1="231.1" y1="27.4" x2="254.2" y2="59.9" stroke="#e65a5a" stroke-width="0.7"/>
<path d="M255.9 62.3L253.1 60.6L255.2 59.1Z" fill="#e65a5a"/>
<text x="199" y="66.8" font-size="5.6" fill="#2a2a2a" text-anchor="start" stroke="#2a2a2a" stroke-width="0.18">RBC/PKH67</text>
<line x1="214.8" y1="69.4" x2="233" y2="80.5" stroke="#222" stroke-width="0.8"/>
<path d="M235.6 82.1L232.4 81.6L233.7 79.4Z" fill="#222"/>
<text x="153.2" y="53.2" font-size="7.5" fill="#1a1a1a" text-anchor="middle" transform="rotate(-90 153.2 53.2)" stroke="#1a1a1a" stroke-width="0.12">Normalized Frequency</text>
<line x1="163.6" y1="181.3" x2="166" y2="181.3" stroke="#777" stroke-width="0.8"/>
<text transform="translate(161.4 183.1) scale(0.82 1)" font-size="5.9" fill="#4a4a4a" text-anchor="end">0</text>
<line x1="163.6" y1="168.9" x2="166" y2="168.9" stroke="#777" stroke-width="0.8"/>
<text transform="translate(161.4 170.7) scale(0.82 1)" font-size="5.9" fill="#4a4a4a" text-anchor="end">2</text>
<line x1="163.6" y1="156.5" x2="166" y2="156.5" stroke="#777" stroke-width="0.8"/>
<text transform="translate(161.4 158.3) scale(0.82 1)" font-size="5.9" fill="#4a4a4a" text-anchor="end">4</text>
<line x1="163.6" y1="144.2" x2="166" y2="144.2" stroke="#777" stroke-width="0.8"/>
<text transform="translate(161.4 146) scale(0.82 1)" font-size="5.9" fill="#4a4a4a" text-anchor="end">6</text>
<line x1="163.6" y1="131.8" x2="166" y2="131.8" stroke="#777" stroke-width="0.8"/>
<text transform="translate(161.4 133.6) scale(0.82 1)" font-size="5.9" fill="#4a4a4a" text-anchor="end">8</text>
<line x1="163.6" y1="119.4" x2="166" y2="119.4" stroke="#777" stroke-width="0.8"/>
<text transform="translate(161.4 121.2) scale(0.82 1)" font-size="5.9" fill="#4a4a4a" text-anchor="end">10</text>
<line x1="163.6" y1="107" x2="166" y2="107" stroke="#777" stroke-width="0.8"/>
<text transform="translate(161.4 108.8) scale(0.82 1)" font-size="5.9" fill="#4a4a4a" text-anchor="end">12</text>
<line x1="175.6" y1="181.3" x2="175.6" y2="183.6" stroke="#777" stroke-width="0.8"/>
<text transform="translate(175.8 190.9) scale(0.82 1)" font-size="5.9" fill="#4a4a4a" text-anchor="middle">0</text>
<line x1="194.6" y1="181.3" x2="194.6" y2="183.6" stroke="#777" stroke-width="0.8"/>
<text transform="translate(194.8 190.9) scale(0.82 1)" font-size="5.9" fill="#4a4a4a" text-anchor="middle">0.2</text>
<line x1="213.7" y1="181.3" x2="213.7" y2="183.6" stroke="#777" stroke-width="0.8"/>
<text transform="translate(213.8 190.9) scale(0.82 1)" font-size="5.9" fill="#4a4a4a" text-anchor="middle">0.4</text>
<line x1="232.7" y1="181.3" x2="232.7" y2="183.6" stroke="#777" stroke-width="0.8"/>
<text transform="translate(232.9 190.9) scale(0.82 1)" font-size="5.9" fill="#4a4a4a" text-anchor="middle">0.6</text>
<line x1="251.8" y1="181.3" x2="251.8" y2="183.6" stroke="#777" stroke-width="0.8"/>
<text transform="translate(251.9 190.9) scale(0.82 1)" font-size="5.9" fill="#4a4a4a" text-anchor="middle">0.8</text>
<line x1="270.8" y1="181.3" x2="270.8" y2="183.6" stroke="#777" stroke-width="0.8"/>
<text transform="translate(271 190.9) scale(0.82 1)" font-size="5.9" fill="#4a4a4a" text-anchor="middle">1</text>
<path d="M166.1 181.3H166.7V181.3H167.2V181.3H167.8V181.3H168.4V181.3H168.9V181.3H169.5V181.3H170.1V181.3H170.6V181.3H171.2V181.3H171.8V181.3H172.4V181.3H172.9V181.3H173.5V181.3H174.1V181.3H174.6V181.3H175.2V181.3H175.8V181.3H176.4V181.3H176.9V181.3H177.5V181.3H178.1V181.3H178.6V181.3H179.2V181.3H179.8V181.3H180.4V181.3H180.9V181.3H181.5V181.3H182.1V181.3H182.6V181.3H183.2V181.3H183.8V181.3H184.4V181.3H184.9V181.3H185.5V181.3H186.1V181.3H186.6V181.3H187.2V181.3H187.8V181.3H188.4V181.3H188.9V181.3H189.5V181.3H190.1V181.3H190.6V181.3H191.2V181.3H191.8V181.3H192.4V181.3H192.9V181.3H193.5V181.3H194.1V181.3H194.6V181.3H195.2V181.3H195.8V181.3H196.4V181.3H196.9V181.3H197.5V181.3H198.1V181.3H198.6V181.3H199.2V181.3H199.8V181.3H200.4V181.3H200.9V181.3H201.5V181.3H202.1V181.3H202.6V181.3H203.2V181.3H203.8V181.3H204.4V181.3H204.9V181.3H205.5V181.3H206.1V181.3H206.6V181.3H207.2V181.3H207.8V181.3H208.3V181.3H208.9V181.3H209.5V181.3H210.1V181.3H210.6V181.3H211.2V181.3H211.8V181.3H212.3V181.3H212.9V181.3H213.5V181.3H214.1V181.3H214.6V181.3H215.2V181.3H215.8V181.3H216.3V180.8H216.9V181.3H217.5V181.1H218.1V181H218.6V180.5H219.2V180.9H219.8V179.9H220.3V180.7H220.9V179.7H221.5V180.2H222.1V180.2H222.6V181.1H223.2V180.4H223.8V179.7H224.3V179.8H224.9V179.8H225.5V179.5H226.1V178.3H226.6V177.7H227.2V177.8H227.8V178.8H228.3V177H228.9V175.6H229.5V176.8H230.1V174.2H230.6V173.7H231.2V173H231.8V170.9H232.3V171.9H232.9V171.5H233.5V168.9H234.1V169.3H234.6V168.1H235.2V169.2H235.8V168.6H236.3V167.6H236.9V168.1H237.5V166.6H238.1V166.7H238.6V166H239.2V166.1H239.8V166.8H240.3V164.1H240.9V166.1H241.5V165.2H242V163.8H242.6V165H243.2V162.9H243.8V163.1H244.3V164.6H244.9V165.8H245.5V165.2H246V164.7H246.6V163.6H247.2V164.7H247.8V163.3H248.3V163H248.9V162.2H249.5V165.9H250V164.4H250.6V163.2H251.2V164.1H251.8V163.4H252.3V164H252.9V163.7H253.5V163.7H254V161.3H254.6V161.7H255.2V163.5H255.8V163.5H256.3V160.4H256.9V163.9H257.5V163.5H258V164.4H258.6V161.6H259.2V163.1H259.8V162.4H260.3V163.6H260.9V162.5H261.5V163H262V162.9H262.6V163.9H263.2V164.9H263.8V163.9H264.3V166.6H264.9V165.5H265.5V167.9H266V165.8H266.6V168.7H267.2V171.1H267.8V173.6H268.3V175.1H268.9V178.7H269.5V180.3H270V181.3H270.6V181.3H271.2V181.3H271.8V181.3H272.3V181.3H272.9V181.3H273.5V181.3H274V181.3H274.6V181.3H275.2V181.3H275.8V181.3H276.3V181.3H276.9V181.3H277.5V181.3H278V181.3H278.6V181.3H279.2V181.3H279.7V181.3H280.3V181.3H280.9" fill="none" stroke="#2b2b2b" stroke-width="0.95" stroke-linejoin="round"/>
<path d="M166.1 181.3H166.7V181.3H167.2V181.3H167.8V181.3H168.4V181.3H168.9V181.3H169.5V181.3H170.1V181.3H170.6V181.3H171.2V181.3H171.8V181.3H172.4V181.3H172.9V181.3H173.5V181.3H174.1V181.3H174.6V181.3H175.2V181.3H175.8V181.3H176.4V181.3H176.9V181.3H177.5V181.3H178.1V181.3H178.6V181.3H179.2V181.3H179.8V181.3H180.4V181.3H180.9V181.3H181.5V181.3H182.1V181.3H182.6V181.3H183.2V181.3H183.8V181.3H184.4V181.3H184.9V181.3H185.5V181.3H186.1V181.3H186.6V181.3H187.2V181.3H187.8V181.3H188.4V181.3H188.9V181.3H189.5V181.3H190.1V181.3H190.6V181.3H191.2V181.3H191.8V181.3H192.4V181.3H192.9V181.3H193.5V181.3H194.1V181.3H194.6V181.3H195.2V181.3H195.8V181.3H196.4V181.3H196.9V181.3H197.5V181.3H198.1V181.3H198.6V181.3H199.2V181.3H199.8V181.3H200.4V181.3H200.9V181.3H201.5V181.3H202.1V181.3H202.6V181.3H203.2V181.3H203.8V181.3H204.4V181.3H204.9V181.3H205.5V181.3H206.1V181.3H206.6V181.3H207.2V181.3H207.8V181.3H208.3V181.3H208.9V181.3H209.5V181.3H210.1V181.3H210.6V181.3H211.2V181.3H211.8V181.3H212.3V181.3H212.9V181.3H213.5V181.3H214.1V181.3H214.6V181.3H215.2V181.3H215.8V181.3H216.3V181.3H216.9V181.3H217.5V181.3H218.1V181.3H218.6V181.3H219.2V181.3H219.8V181.3H220.3V181.3H220.9V181.3H221.5V181.3H222.1V181.3H222.6V181.3H223.2V181.3H223.8V181.3H224.3V181.3H224.9V181.3H225.5V181.3H226.1V181.3H226.6V181.3H227.2V181.3H227.8V181.3H228.3V181.3H228.9V181.3H229.5V181.3H230.1V181.3H230.6V181.3H231.2V181.3H231.8V181.3H232.3V181.3H232.9V181.3H233.5V181.3H234.1V181.1H234.6V180.7H235.2V181.3H235.8V180.7H236.3V181.2H236.9V180.5H237.5V180.8H238.1V180.4H238.6V180.9H239.2V179.5H239.8V178.6H240.3V179.3H240.9V179.1H241.5V178.7H242V179.1H242.6V177.8H243.2V177.1H243.8V177.2H244.3V177.2H244.9V174.8H245.5V175H246V173.9H246.6V172.8H247.2V171.6H247.8V169.7H248.3V169.1H248.9V167.8H249.5V167.8H250V164.9H250.6V163.7H251.2V159.2H251.8V159.2H252.3V160.6H252.9V157.5H253.5V158.4H254V154.4H254.6V154.7H255.2V152.4H255.8V148.7H256.3V150.7H256.9V146.6H257.5V142H258V146.6H258.6V145.5H259.2V143.8H259.8V147.8H260.3V150.7H260.9V144.6H261.5V144.7H262V140.7H262.6V142.8H263.2V141.1H263.8V146.1H264.3V153.8H264.9V154.6H265.5V158H266V160.8H266.6V165.9H267.2V169.3H267.8V172.7H268.3V175.3H268.9V178H269.5V180.1H270V181.3H270.6V181.3H271.2V181.3H271.8V181.3H272.3V181.3H272.9V181.3H273.5V181.3H274V181.3H274.6V181.3H275.2V181.3H275.8V181.3H276.3V181.3H276.9V181.3H277.5V181.3H278V181.3H278.6V181.3H279.2V181.3H279.7V181.3H280.3V181.3H280.9" fill="none" stroke="#ee1c1c" stroke-width="1.8" stroke-dasharray="2.2 1.0" stroke-linejoin="round"/>
<rect x="166" y="107" width="113.7" height="74.3" fill="none" stroke="#8c8c8c" stroke-width="1"/>
<line x1="163.6" y1="181.3" x2="279.7" y2="181.3" stroke="#8e1e26" stroke-width="1.3"/>
<text x="199" y="114.8" font-size="5.6" fill="#e84a4a" text-anchor="start" stroke="#e84a4a" stroke-width="0.12">RBC/PKH67/LPC(5µM)</text>
<line x1="228.8" y1="117.4" x2="252.2" y2="140.9" stroke="#e65a5a" stroke-width="0.7"/>
<path d="M254.3 143.0L251.3 141.8L253.1 140.0Z" fill="#e65a5a"/>
<text x="199" y="157.4" font-size="5.6" fill="#2a2a2a" text-anchor="start" stroke="#2a2a2a" stroke-width="0.18">RBC/PKH67</text>
<line x1="218.3" y1="160" x2="230.9" y2="169.2" stroke="#222" stroke-width="0.8"/>
<path d="M233.3 171.0L230.1 170.3L231.6 168.2Z" fill="#222"/>
<text x="153.2" y="142.6" font-size="7.5" fill="#1a1a1a" text-anchor="middle" transform="rotate(-90 153.2 142.6)" stroke="#1a1a1a" stroke-width="0.12">Normalized Frequency</text>
<line x1="163.6" y1="270.8" x2="166" y2="270.8" stroke="#777" stroke-width="0.8"/>
<text transform="translate(161.4 272.6) scale(0.82 1)" font-size="5.9" fill="#4a4a4a" text-anchor="end">0</text>
<line x1="163.6" y1="258.4" x2="166" y2="258.4" stroke="#777" stroke-width="0.8"/>
<text transform="translate(161.4 260.2) scale(0.82 1)" font-size="5.9" fill="#4a4a4a" text-anchor="end">2</text>
<line x1="163.6" y1="246" x2="166" y2="246" stroke="#777" stroke-width="0.8"/>
<text transform="translate(161.4 247.8) scale(0.82 1)" font-size="5.9" fill="#4a4a4a" text-anchor="end">4</text>
<line x1="163.6" y1="233.6" x2="166" y2="233.6" stroke="#777" stroke-width="0.8"/>
<text transform="translate(161.4 235.4) scale(0.82 1)" font-size="5.9" fill="#4a4a4a" text-anchor="end">6</text>
<line x1="163.6" y1="221.2" x2="166" y2="221.2" stroke="#777" stroke-width="0.8"/>
<text transform="translate(161.4 223) scale(0.82 1)" font-size="5.9" fill="#4a4a4a" text-anchor="end">8</text>
<line x1="163.6" y1="208.8" x2="166" y2="208.8" stroke="#777" stroke-width="0.8"/>
<text transform="translate(161.4 210.6) scale(0.82 1)" font-size="5.9" fill="#4a4a4a" text-anchor="end">10</text>
<line x1="163.6" y1="196.4" x2="166" y2="196.4" stroke="#777" stroke-width="0.8"/>
<text transform="translate(161.4 198.2) scale(0.82 1)" font-size="5.9" fill="#4a4a4a" text-anchor="end">12</text>
<line x1="175.6" y1="270.8" x2="175.6" y2="273.1" stroke="#777" stroke-width="0.8"/>
<text transform="translate(175.8 280.4) scale(0.82 1)" font-size="5.9" fill="#4a4a4a" text-anchor="middle">0</text>
<line x1="194.6" y1="270.8" x2="194.6" y2="273.1" stroke="#777" stroke-width="0.8"/>
<text transform="translate(194.8 280.4) scale(0.82 1)" font-size="5.9" fill="#4a4a4a" text-anchor="middle">0.2</text>
<line x1="213.7" y1="270.8" x2="213.7" y2="273.1" stroke="#777" stroke-width="0.8"/>
<text transform="translate(213.8 280.4) scale(0.82 1)" font-size="5.9" fill="#4a4a4a" text-anchor="middle">0.4</text>
<line x1="232.7" y1="270.8" x2="232.7" y2="273.1" stroke="#777" stroke-width="0.8"/>
<text transform="translate(232.9 280.4) scale(0.82 1)" font-size="5.9" fill="#4a4a4a" text-anchor="middle">0.6</text>
<line x1="251.8" y1="270.8" x2="251.8" y2="273.1" stroke="#777" stroke-width="0.8"/>
<text transform="translate(251.9 280.4) scale(0.82 1)" font-size="5.9" fill="#4a4a4a" text-anchor="middle">0.8</text>
<line x1="270.8" y1="270.8" x2="270.8" y2="273.1" stroke="#777" stroke-width="0.8"/>
<text transform="translate(271 280.4) scale(0.82 1)" font-size="5.9" fill="#4a4a4a" text-anchor="middle">1</text>
<path d="M166.1 270.8H166.7V270.8H167.2V270.8H167.8V270.8H168.4V270.8H168.9V270.8H169.5V270.8H170.1V270.8H170.6V270.8H171.2V270.8H171.8V270.8H172.4V270.8H172.9V270.8H173.5V270.8H174.1V270.8H174.6V270.8H175.2V270.8H175.8V270.8H176.4V270.8H176.9V270.8H177.5V270.8H178.1V270.8H178.6V270.8H179.2V270.8H179.8V270.8H180.4V270.8H180.9V270.8H181.5V270.8H182.1V270.8H182.6V270.8H183.2V270.8H183.8V270.8H184.4V270.8H184.9V270.8H185.5V270.8H186.1V270.8H186.6V270.8H187.2V270.8H187.8V270.8H188.4V270.8H188.9V270.8H189.5V270.8H190.1V270.8H190.6V270.8H191.2V270.8H191.8V270.8H192.4V270.8H192.9V270.8H193.5V270.8H194.1V270.8H194.6V270.8H195.2V270.8H195.8V270.8H196.4V270.8H196.9V270.8H197.5V270.8H198.1V270.8H198.6V270.8H199.2V270.8H199.8V270.8H200.4V270.8H200.9V270.8H201.5V270.8H202.1V270.8H202.6V270.8H203.2V270.8H203.8V270.8H204.4V270.8H204.9V270.8H205.5V270.8H206.1V270.8H206.6V270.8H207.2V270.8H207.8V270.8H208.3V270.8H208.9V270.8H209.5V270.8H210.1V270.8H210.6V270.8H211.2V270.8H211.8V270.8H212.3V270.8H212.9V270.8H213.5V270.8H214.1V270.8H214.6V270.8H215.2V270.8H215.8V270.8H216.3V270.8H216.9V270.8H217.5V270.8H218.1V270.8H218.6V270.8H219.2V270.8H219.8V270.8H220.3V270.8H220.9V270.8H221.5V270.8H222.1V270.8H222.6V270.8H223.2V270.8H223.8V270.8H224.3V270.8H224.9V270.8H225.5V270.8H226.1V270.8H226.6V270.8H227.2V270.8H227.8V270.8H228.3V270.8H228.9V270.8H229.5V270.8H230.1V270.8H230.6V270.8H231.2V270.8H231.8V270.8H232.3V270.8H232.9V270.8H233.5V270.8H234.1V270.8H234.6V270.8H235.2V270.8H235.8V270.8H236.3V270.8H236.9V270.8H237.5V270.8H238.1V270.8H238.6V270.8H239.2V270.8H239.8V270.8H240.3V270.8H240.9V270.8H241.5V270.8H242V270.8H242.6V270.6H243.2V270.7H243.8V270.7H244.3V270.7H244.9V270.7H245.5V270.4H246V270.7H246.6V269.5H247.2V269.2H247.8V268.9H248.3V267.9H248.9V268H249.5V267.4H250V265.8H250.6V265.5H251.2V266H251.8V265.3H252.3V262.6H252.9V261.2H253.5V261H254V258.2H254.6V257H255.2V257H255.8V253.8H256.3V251.5H256.9V249.8H257.5V247.8H258V247.4H258.6V242.3H259.2V236H259.8V237.4H260.3V230.8H260.9V230.8H261.5V230H262V223.8H262.6V225.3H263.2V225.1H263.8V220.9H264.3V220.9H264.9V225.6H265.5V228.8H266V230.3H266.6V232.2H267.2V237.1H267.8V242.7H268.3V248.4H268.9V254H269.5V255.2H270V263.3H270.6V270.8H271.2V270.8H271.8V270.8H272.3V270.8H272.9V270.8H273.5V270.8H274V270.8H274.6V270.8H275.2V270.8H275.8V270.8H276.3V270.8H276.9V270.8H277.5V270.8H278V270.8H278.6V270.8H279.2V270.8H279.7V270.8H280.3V270.8H280.9" fill="none" stroke="#dc3a42" stroke-width="0.9" stroke-linejoin="round"/>
<path d="M166.1 270.8H166.7V270.8H167.2V270.8H167.8V270.8H168.4V270.8H168.9V270.8H169.5V270.8H170.1V270.8H170.6V270.8H171.2V270.8H171.8V270.8H172.4V270.8H172.9V270.8H173.5V270.8H174.1V270.8H174.6V270.8H175.2V270.8H175.8V270.8H176.4V270.8H176.9V270.8H177.5V270.8H178.1V270.8H178.6V270.8H179.2V270.8H179.8V270.8H180.4V270.8H180.9V270.8H181.5V270.8H182.1V270.8H182.6V270.8H183.2V270.8H183.8V270.8H184.4V270.8H184.9V270.8H185.5V270.8H186.1V270.8H186.6V270.8H187.2V270.8H187.8V270.8H188.4V270.8H188.9V270.8H189.5V270.8H190.1V270.8H190.6V270.8H191.2V270.8H191.8V270.8H192.4V270.8H192.9V270.8H193.5V270.8H194.1V270.8H194.6V270.8H195.2V270.8H195.8V270.8H196.4V270.8H196.9V270.8H197.5V270.8H198.1V270.8H198.6V270.8H199.2V270.8H199.8V270.8H200.4V270.8H200.9V270.8H201.5V270.8H202.1V270.8H202.6V270.8H203.2V270.8H203.8V270.8H204.4V270.8H204.9V270.8H205.5V270.8H206.1V270.8H206.6V270.8H207.2V270.8H207.8V270.8H208.3V270.8H208.9V270.8H209.5V270.8H210.1V270.8H210.6V270.8H211.2V270.8H211.8V270.8H212.3V270.8H212.9V270.8H213.5V270.8H214.1V270.8H214.6V270.8H215.2V270.8H215.8V270.3H216.3V270.7H216.9V270.8H217.5V270.7H218.1V270.6H218.6V270.4H219.2V270.7H219.8V270.1H220.3V270.1H220.9V270.4H221.5V269.8H222.1V269.9H222.6V269.9H223.2V269.7H223.8V269.3H224.3V268.9H224.9V268.1H225.5V268.5H226.1V268.9H226.6V268.1H227.2V267.3H227.8V267.5H228.3V266.6H228.9V266.6H229.5V265.9H230.1V265.9H230.6V264.8H231.2V262.9H231.8V262.9H232.3V262.7H232.9V262.1H233.5V262.2H234.1V261.4H234.6V260.1H235.2V260.4H235.8V257.5H236.3V260.1H236.9V257.5H237.5V257.4H238.1V257.1H238.6V256.4H239.2V257H239.8V255.7H240.3V256.6H240.9V256H241.5V256.1H242V254.6H242.6V254.7H243.2V253.3H243.8V255H244.3V253H244.9V255H245.5V254.2H246V253.3H246.6V254.2H247.2V253.9H247.8V254.7H248.3V253.3H248.9V253.4H249.5V250.6H250V251.1H250.6V252.4H251.2V250.6H251.8V252.4H252.3V253.5H252.9V252.6H253.5V254H254V254H254.6V253.7H255.2V252.1H255.8V253.1H256.3V253.4H256.9V253.2H257.5V251H258V254.3H258.6V251.8H259.2V253.9H259.8V251.7H260.3V253H260.9V252.7H261.5V253.7H262V252.4H262.6V255.3H263.2V254H263.8V255.2H264.3V256.3H264.9V256.2H265.5V256.1H266V258.7H266.6V260.9H267.2V260.9H267.8V264.1H268.3V266H268.9V267.3H269.5V270.2H270V270.8H270.6V270.8H271.2V270.8H271.8V270.8H272.3V270.8H272.9V270.8H273.5V270.8H274V270.8H274.6V270.8H275.2V270.8H275.8V270.8H276.3V270.8H276.9V270.8H277.5V270.8H278V270.8H278.6V270.8H279.2V270.8H279.7V270.8H280.3V270.8H280.9" fill="none" stroke="#2b2b2b" stroke-width="0.95" stroke-linejoin="round"/>
<rect x="166" y="196.4" width="113.7" height="74.4" fill="none" stroke="#8c8c8c" stroke-width="1"/>
<line x1="163.6" y1="270.8" x2="279.7" y2="270.8" stroke="#8e1e26" stroke-width="1.3"/>
<text x="199" y="204" font-size="5.6" fill="#e84a4a" text-anchor="start" stroke="#e84a4a" stroke-width="0.12">RBC/PKH67/LPC(7.5µM)</text>
<line x1="231.1" y1="208.2" x2="257.5" y2="231" stroke="#e65a5a" stroke-width="0.7"/>
<path d="M259.8 233.0L256.7 232.0L258.4 230.1Z" fill="#e65a5a"/>
<text x="199" y="247.4" font-size="5.6" fill="#2a2a2a" text-anchor="start" stroke="#2a2a2a" stroke-width="0.18">RBC/PKH67</text>
<line x1="213.8" y1="250" x2="231.3" y2="261.5" stroke="#222" stroke-width="0.8"/>
<path d="M233.8 263.2L230.6 262.6L232.0 260.5Z" fill="#222"/>
<text x="153.2" y="232" font-size="7.5" fill="#1a1a1a" text-anchor="middle" transform="rotate(-90 153.2 232)" stroke="#1a1a1a" stroke-width="0.12">Normalized Frequency</text>
<line x1="163.6" y1="363.4" x2="166" y2="363.4" stroke="#777" stroke-width="0.8"/>
<text transform="translate(161.4 365.2) scale(0.82 1)" font-size="5.9" fill="#4a4a4a" text-anchor="end">0</text>
<line x1="163.6" y1="350.9" x2="166" y2="350.9" stroke="#777" stroke-width="0.8"/>
<text transform="translate(161.4 352.8) scale(0.82 1)" font-size="5.9" fill="#4a4a4a" text-anchor="end">2</text>
<line x1="163.6" y1="338.5" x2="166" y2="338.5" stroke="#777" stroke-width="0.8"/>
<text transform="translate(161.4 340.3) scale(0.82 1)" font-size="5.9" fill="#4a4a4a" text-anchor="end">4</text>
<line x1="163.6" y1="326" x2="166" y2="326" stroke="#777" stroke-width="0.8"/>
<text transform="translate(161.4 327.8) scale(0.82 1)" font-size="5.9" fill="#4a4a4a" text-anchor="end">6</text>
<line x1="163.6" y1="313.6" x2="166" y2="313.6" stroke="#777" stroke-width="0.8"/>
<text transform="translate(161.4 315.4) scale(0.82 1)" font-size="5.9" fill="#4a4a4a" text-anchor="end">8</text>
<line x1="163.6" y1="301.1" x2="166" y2="301.1" stroke="#777" stroke-width="0.8"/>
<text transform="translate(161.4 302.9) scale(0.82 1)" font-size="5.9" fill="#4a4a4a" text-anchor="end">10</text>
<line x1="163.6" y1="288.7" x2="166" y2="288.7" stroke="#777" stroke-width="0.8"/>
<text transform="translate(161.4 290.5) scale(0.82 1)" font-size="5.9" fill="#4a4a4a" text-anchor="end">12</text>
<line x1="175.6" y1="363.4" x2="175.6" y2="365.7" stroke="#777" stroke-width="0.8"/>
<text transform="translate(175.8 373) scale(0.82 1)" font-size="5.9" fill="#4a4a4a" text-anchor="middle">0</text>
<line x1="194.6" y1="363.4" x2="194.6" y2="365.7" stroke="#777" stroke-width="0.8"/>
<text transform="translate(194.8 373) scale(0.82 1)" font-size="5.9" fill="#4a4a4a" text-anchor="middle">0.2</text>
<line x1="213.7" y1="363.4" x2="213.7" y2="365.7" stroke="#777" stroke-width="0.8"/>
<text transform="translate(213.8 373) scale(0.82 1)" font-size="5.9" fill="#4a4a4a" text-anchor="middle">0.4</text>
<line x1="232.7" y1="363.4" x2="232.7" y2="365.7" stroke="#777" stroke-width="0.8"/>
<text transform="translate(232.9 373) scale(0.82 1)" font-size="5.9" fill="#4a4a4a" text-anchor="middle">0.6</text>
<line x1="251.8" y1="363.4" x2="251.8" y2="365.7" stroke="#777" stroke-width="0.8"/>
<text transform="translate(251.9 373) scale(0.82 1)" font-size="5.9" fill="#4a4a4a" text-anchor="middle">0.8</text>
<line x1="270.8" y1="363.4" x2="270.8" y2="365.7" stroke="#777" stroke-width="0.8"/>
<text transform="translate(271 373) scale(0.82 1)" font-size="5.9" fill="#4a4a4a" text-anchor="middle">1</text>
<path d="M166.1 363.4H166.7V363.4H167.2V363.4H167.8V363.4H168.4V363.4H168.9V363.4H169.5V363.4H170.1V363.4H170.6V363.4H171.2V363.4H171.8V363.4H172.4V363.4H172.9V363.4H173.5V363.4H174.1V363.4H174.6V363.4H175.2V363.4H175.8V363.4H176.4V363.4H176.9V363.4H177.5V363.4H178.1V363.4H178.6V363.4H179.2V363.4H179.8V363.4H180.4V363.4H180.9V363.4H181.5V363.4H182.1V363.4H182.6V363.4H183.2V363.4H183.8V363.4H184.4V363.4H184.9V363.4H185.5V363.4H186.1V363.4H186.6V363.4H187.2V363.4H187.8V363.4H188.4V363.4H188.9V363.4H189.5V363.4H190.1V363.4H190.6V363.4H191.2V363.4H191.8V363.4H192.4V363.4H192.9V363.4H193.5V363.4H194.1V363.4H194.6V363.4H195.2V363.4H195.8V363.4H196.4V363.4H196.9V363.4H197.5V363.4H198.1V363.4H198.6V363.4H199.2V363.4H199.8V363.4H200.4V363.4H200.9V363.4H201.5V363.4H202.1V363.4H202.6V363.4H203.2V363.4H203.8V363.4H204.4V363.4H204.9V363.4H205.5V363.4H206.1V363.4H206.6V363.4H207.2V363.4H207.8V363.4H208.3V363.4H208.9V363.4H209.5V363.4H210.1V363.4H210.6V363.4H211.2V363.4H211.8V363.4H212.3V363.4H212.9V363.4H213.5V363.4H214.1V363.4H214.6V363.4H215.2V363.4H215.8V363.4H216.3V363.4H216.9V363.4H217.5V363.4H218.1V363.4H218.6V363.4H219.2V363.4H219.8V363.4H220.3V363.4H220.9V363.4H221.5V363.4H222.1V363.4H222.6V363.4H223.2V363.4H223.8V363.4H224.3V363.4H224.9V363.4H225.5V363.4H226.1V363.4H226.6V363.4H227.2V363.4H227.8V363.4H228.3V363.4H228.9V363.4H229.5V363.4H230.1V363.4H230.6V363.4H231.2V363.4H231.8V363.4H232.3V363.4H232.9V363.4H233.5V363.4H234.1V363.4H234.6V363.4H235.2V363.4H235.8V363.4H236.3V363.4H236.9V363.4H237.5V363.4H238.1V363.4H238.6V363.4H239.2V363.4H239.8V363.4H240.3V363.4H240.9V363.4H241.5V363.4H242V363.4H242.6V363.4H243.2V363.4H243.8V363.4H244.3V363.4H244.9V363.4H245.5V363.4H246V363.4H246.6V363.4H247.2V363.4H247.8V363.4H248.3V363.4H248.9V363.4H249.5V363.2H250V362.6H250.6V362.4H251.2V363.1H251.8V361.2H252.3V361.7H252.9V362.8H253.5V360.4H254V358.7H254.6V359.2H255.2V357.6H255.8V358.2H256.3V355.7H256.9V351.5H257.5V349.4H258V348.3H258.6V341.8H259.2V343.1H259.8V336.4H260.3V329.2H260.9V322.9H261.5V325.7H262V318.4H262.6V310.6H263.2V304.3H263.8V304.6H264.3V294.2H264.9V302H265.5V295.5H266V309.1H266.6V312.6H267.2V322.7H267.8V330.8H268.3V343H268.9V349H269.5V355.5H270V360.7H270.6V362.7H271.2V363.4H271.8V363.4H272.3V363.4H272.9V363.4H273.5V363.4H274V363.4H274.6V363.4H275.2V363.4H275.8V363.4H276.3V363.4H276.9V363.4H277.5V363.4H278V363.4H278.6V363.4H279.2V363.4H279.7V363.4H280.3V363.4H280.9" fill="none" stroke="#dc3a42" stroke-width="0.9" stroke-linejoin="round"/>
<path d="M166.1 363.4H166.7V363.4H167.2V363.4H167.8V363.4H168.4V363.4H168.9V363.4H169.5V363.4H170.1V363.4H170.6V363.4H171.2V363.4H171.8V363.4H172.4V363.4H172.9V363.4H173.5V363.4H174.1V363.4H174.6V363.4H175.2V363.4H175.8V363.4H176.4V363.4H176.9V363.4H177.5V363.4H178.1V363.4H178.6V363.4H179.2V363.4H179.8V363.4H180.4V363.4H180.9V363.4H181.5V363.4H182.1V363.4H182.6V363.4H183.2V363.4H183.8V363.4H184.4V363.4H184.9V363.4H185.5V363.4H186.1V363.4H186.6V363.4H187.2V363.4H187.8V363.4H188.4V363.4H188.9V363.4H189.5V363.4H190.1V363.4H190.6V363.4H191.2V363.4H191.8V363.4H192.4V363.4H192.9V363.4H193.5V363.4H194.1V363.4H194.6V363.4H195.2V363.4H195.8V363.4H196.4V363.4H196.9V363.4H197.5V363.4H198.1V363.4H198.6V363.4H199.2V363.4H199.8V363.4H200.4V363.4H200.9V363.4H201.5V363.4H202.1V363.4H202.6V363.4H203.2V363.4H203.8V363.4H204.4V363.4H204.9V363.4H205.5V363.4H206.1V363.4H206.6V363.4H207.2V363.4H207.8V363.4H208.3V363.4H208.9V363.4H209.5V363.4H210.1V363.4H210.6V363.4H211.2V363.4H211.8V363.4H212.3V363.4H212.9V363.4H213.5V363.4H214.1V362.4H214.6V363.1H215.2V362.8H215.8V362.2H216.3V362.9H216.9V363.2H217.5V363.4H218.1V363.1H218.6V363.4H219.2V362.6H219.8V362.7H220.3V363H220.9V363.1H221.5V362.7H222.1V362.6H222.6V362.5H223.2V362.7H223.8V361.9H224.3V361.4H224.9V362.1H225.5V361.8H226.1V361.7H226.6V361.1H227.2V361.3H227.8V361.2H228.3V360.6H228.9V361.2H229.5V360.6H230.1V360.2H230.6V360.6H231.2V359.7H231.8V359.6H232.3V358.1H232.9V355.7H233.5V355.2H234.1V355.4H234.6V353.4H235.2V354.3H235.8V352.8H236.3V353.6H236.9V351.3H237.5V351.9H238.1V348.7H238.6V347.8H239.2V349.2H239.8V347H240.3V347.1H240.9V348.4H241.5V347.7H242V346.1H242.6V345.7H243.2V348.1H243.8V344.4H244.3V346.5H244.9V345.9H245.5V347.3H246V345.2H246.6V344H247.2V343.8H247.8V345.5H248.3V346.5H248.9V346.6H249.5V345.2H250V344.6H250.6V345H251.2V345.5H251.8V345.5H252.3V345.5H252.9V345.8H253.5V344.3H254V343.7H254.6V345.3H255.2V346.1H255.8V346.1H256.3V345.6H256.9V345.8H257.5V345.4H258V344.1H258.6V344.5H259.2V346.9H259.8V343.5H260.3V345.7H260.9V346.3H261.5V346.5H262V347.5H262.6V347.8H263.2V349H263.8V349.1H264.3V351H264.9V350.7H265.5V352.6H266V353.5H266.6V356.4H267.2V356.4H267.8V358.7H268.3V359.7H268.9V361.2H269.5V362.6H270V363.4H270.6V363.4H271.2V363.4H271.8V363.4H272.3V363.4H272.9V363.4H273.5V363.4H274V363.4H274.6V363.4H275.2V363.4H275.8V363.4H276.3V363.4H276.9V363.4H277.5V363.4H278V363.4H278.6V363.4H279.2V363.4H279.7V363.4H280.3V363.4H280.9" fill="none" stroke="#2b2b2b" stroke-width="0.95" stroke-linejoin="round"/>
<rect x="166" y="288.7" width="113.7" height="74.7" fill="none" stroke="#8c8c8c" stroke-width="1"/>
<line x1="163.6" y1="363.4" x2="279.7" y2="363.4" stroke="#8e1e26" stroke-width="1.3"/>
<text x="199" y="296.6" font-size="5.6" fill="#e84a4a" text-anchor="start" stroke="#e84a4a" stroke-width="0.12">RBC/PKH67/LPC(10µM)</text>
<line x1="230.3" y1="299" x2="257.3" y2="316.3" stroke="#e65a5a" stroke-width="0.7"/>
<path d="M259.8 317.9L256.6 317.4L258.0 315.2Z" fill="#e65a5a"/>
<text x="199" y="338" font-size="5.6" fill="#2a2a2a" text-anchor="start" stroke="#2a2a2a" stroke-width="0.18">RBC/PKH67</text>
<line x1="222.3" y1="340" x2="235.8" y2="348.2" stroke="#222" stroke-width="0.8"/>
<path d="M238.4 349.8L235.2 349.4L236.5 347.1Z" fill="#222"/>
<text x="153.2" y="324.4" font-size="7.5" fill="#1a1a1a" text-anchor="middle" transform="rotate(-90 153.2 324.4)" stroke="#1a1a1a" stroke-width="0.12">Normalized Frequency</text>
<path d="M309.0 364.2V83.6H409.1M416.7 83.6H517.0V285.8M517.0 291V364.2H416.7M409.1 364.2H309.0" fill="none" stroke="#8c8c8c" stroke-width="1"/>
<line x1="315.5" y1="364.2" x2="315.5" y2="366.5" stroke="#777" stroke-width="0.8"/>
<text transform="translate(315.7 373.5) scale(0.82 1)" font-size="5.9" fill="#4a4a4a" text-anchor="middle">5</text>
<line x1="333.5" y1="364.2" x2="333.5" y2="366.5" stroke="#777" stroke-width="0.8"/>
<text transform="translate(333.7 373.5) scale(0.82 1)" font-size="5.9" fill="#4a4a4a" text-anchor="middle">10</text>
<line x1="351.6" y1="364.2" x2="351.6" y2="366.5" stroke="#777" stroke-width="0.8"/>
<text transform="translate(351.8 373.5) scale(0.82 1)" font-size="5.9" fill="#4a4a4a" text-anchor="middle">15</text>
<line x1="369.6" y1="364.2" x2="369.6" y2="366.5" stroke="#777" stroke-width="0.8"/>
<text transform="translate(369.8 373.5) scale(0.82 1)" font-size="5.9" fill="#4a4a4a" text-anchor="middle">20</text>
<line x1="387.7" y1="364.2" x2="387.7" y2="366.5" stroke="#777" stroke-width="0.8"/>
<text transform="translate(387.8 373.5) scale(0.82 1)" font-size="5.9" fill="#4a4a4a" text-anchor="middle">25</text>
<line x1="405.7" y1="364.2" x2="405.7" y2="366.5" stroke="#777" stroke-width="0.8"/>
<text transform="translate(405.9 373.5) scale(0.82 1)" font-size="5.9" fill="#4a4a4a" text-anchor="middle">30</text>
<text x="352" y="382.5" font-size="7.5" fill="#1a1a1a" text-anchor="middle" stroke="#1a1a1a" stroke-width="0.12">Circularity</text>
<line x1="421.2" y1="364.2" x2="421.2" y2="366.5" stroke="#777" stroke-width="0.8"/>
<text transform="translate(421.4 373.5) scale(0.82 1)" font-size="5.9" fill="#4a4a4a" text-anchor="middle">5</text>
<line x1="439.2" y1="364.2" x2="439.2" y2="366.5" stroke="#777" stroke-width="0.8"/>
<text transform="translate(439.4 373.5) scale(0.82 1)" font-size="5.9" fill="#4a4a4a" text-anchor="middle">10</text>
<line x1="457.3" y1="364.2" x2="457.3" y2="366.5" stroke="#777" stroke-width="0.8"/>
<text transform="translate(457.4 373.5) scale(0.82 1)" font-size="5.9" fill="#4a4a4a" text-anchor="middle">15</text>
<line x1="475.3" y1="364.2" x2="475.3" y2="366.5" stroke="#777" stroke-width="0.8"/>
<text transform="translate(475.5 373.5) scale(0.82 1)" font-size="5.9" fill="#4a4a4a" text-anchor="middle">20</text>
<line x1="493.4" y1="364.2" x2="493.4" y2="366.5" stroke="#777" stroke-width="0.8"/>
<text transform="translate(493.5 373.5) scale(0.82 1)" font-size="5.9" fill="#4a4a4a" text-anchor="middle">25</text>
<line x1="511.4" y1="364.2" x2="511.4" y2="366.5" stroke="#777" stroke-width="0.8"/>
<text transform="translate(511.6 373.5) scale(0.82 1)" font-size="5.9" fill="#4a4a4a" text-anchor="middle">30</text>
<text x="470.1" y="382.5" font-size="7.5" fill="#1a1a1a" text-anchor="middle" stroke="#1a1a1a" stroke-width="0.12">Circularity</text>
<line x1="306.6" y1="127.4" x2="309" y2="127.4" stroke="#777" stroke-width="0.8"/>
<text transform="translate(305 129.2) scale(0.82 1)" font-size="5.9" fill="#4a4a4a" text-anchor="end">0.6</text>
<text x="292.2" y="126.4" font-size="7.6" fill="#1a1a1a" text-anchor="middle" transform="rotate(-90 292.2 126.4)" stroke="#1a1a1a" stroke-width="0.12">Compactness</text>
<line x1="306.6" y1="194.6" x2="309" y2="194.6" stroke="#777" stroke-width="0.8"/>
<text transform="translate(305 196.4) scale(0.82 1)" font-size="5.9" fill="#4a4a4a" text-anchor="end">0.6</text>
<text x="292.2" y="192.9" font-size="7.6" fill="#1a1a1a" text-anchor="middle" transform="rotate(-90 292.2 192.9)" stroke="#1a1a1a" stroke-width="0.12">Compactness</text>
<line x1="306.6" y1="265.3" x2="309" y2="265.3" stroke="#777" stroke-width="0.8"/>
<text transform="translate(305 267.1) scale(0.82 1)" font-size="5.9" fill="#4a4a4a" text-anchor="end">0.6</text>
<text x="292.2" y="265.3" font-size="7.6" fill="#1a1a1a" text-anchor="middle" transform="rotate(-90 292.2 265.3)" stroke="#1a1a1a" stroke-width="0.12">Compactness</text>
<line x1="306.6" y1="336" x2="309" y2="336" stroke="#777" stroke-width="0.8"/>
<text transform="translate(305 337.8) scale(0.82 1)" font-size="5.9" fill="#4a4a4a" text-anchor="end">0.6</text>
<text x="292.2" y="336.3" font-size="7.6" fill="#1a1a1a" text-anchor="middle" transform="rotate(-90 292.2 336.3)" stroke="#1a1a1a" stroke-width="0.12">Compactness</text>
<ellipse cx="330" cy="107.1" rx="12" ry="7.5" fill="#333" opacity="0.35" filter="url(#bl2)" transform="rotate(-8 330 107.1)"/>
<g clip-path="url(#gcL0)"><ellipse cx="355" cy="111.1" rx="10" ry="8" fill="#f59c18" opacity="0.5" filter="url(#bl2)"/></g>
<path d="M327 89h1m1 2h1m5 0h1m-7 1h1m12 1h1m1 0h1m-12 1h1m5 0h1m5 0h1m-23 1h1m7 0h1m3 0h1m2 0h1m-6 1h1m1 0h1m4 0h1m-12 1h1m1 0h1m1 0h1m0 0h1m0 0h1m0 0h1m0 0h1m0 0h1m1 0h1m-19 1h1m2 0h1m2 0h1m0 0h1m0 0h1m0 0h1m0 0h1m0 0h1m1 0h1m0 0h1m0 0h1m1 0h1m0 0h1m0 0h1m0 0h1m0 0h1m1 0h1m-35 1h1m12 0h1m0 0h1m0 0h1m0 0h1m0 0h1m0 0h1m0 0h1m0 0h1m0 0h1m0 0h1m0 0h1m1 0h1m2 0h1m0 0h1m2 0h1m0 0h1m0 0h1m0 0h1m0 0h1m-34 1h1m6 0h1m0 0h1m0 0h1m3 0h1m0 0h1m1 0h1m0 0h1m0 0h1m0 0h1m0 0h1m0 0h1m0 0h1m0 0h1m1 0h1m5 0h1m-24 1h1m0 0h1m1 0h1m0 0h1m2 0h1m0 0h1m0 0h1m0 0h1m0 0h1m0 0h1m0 0h1m0 0h1m0 0h1m0 0h1m3 0h1m0 0h1m0 0h1m0 0h1m0 0h1m0 0h1m-29 1h1m0 0h1m2 0h1m2 0h1m0 0h1m0 0h1m0 0h1m0 0h1m0 0h1m0 0h1m0 0h1m0 0h1m1 0h1m1 0h1m0 0h1m0 0h1m1 0h1m0 0h1m0 0h1m1 0h1m-34 1h1m5 0h1m2 0h1m1 0h1m0 0h1m0 0h1m0 0h1m0 0h1m0 0h1m2 0h1m0 0h1m0 0h1m0 0h1m0 0h1m1 0h1m0 0h1m0 0h1m0 0h1m0 0h1m1 0h1m0 0h1m0 0h1m-34 1h1m1 0h1m2 0h1m0 0h1m0 0h1m0 0h1m0 0h1m1 0h1m0 0h1m0 0h1m0 0h1m0 0h1m0 0h1m0 0h1m0 0h1m0 0h1m0 0h1m1 0h1m0 0h1m0 0h1m0 0h1m1 0h1m0 0h1m1 0h1m0 0h1m0 0h1m0 0h1m0 0h1m-32 1h1m0 0h1m0 0h1m0 0h1m3 0h1m1 0h1m1 0h1m1 0h1m0 0h1m0 0h1m0 0h1m0 0h1m0 0h1m0 0h1m0 0h1m0 0h1m0 0h1m0 0h1m0 0h1m0 0h1m0 0h1m0 0h1m2 0h1m-35 1h1m4 0h1m0 0h1m0 0h1m0 0h1m0 0h1m0 0h1m0 0h1m0 0h1m0 0h1m0 0h1m0 0h1m0 0h1m1 0h1m0 0h1m0 0h1m0 0h1m0 0h1m0 0h1m0 0h1m0 0h1m0 0h1m0 0h1m0 0h1m0 0h1m0 0h1m0 0h1m2 0h1m-30 1h1m2 0h1m2 0h1m2 0h1m0 0h1m1 0h1m0 0h1m0 0h1m0 0h1m0 0h1m0 0h1m0 0h1m0 0h1m0 0h1m1 0h1m0 0h1m0 0h1m0 0h1m0 0h1m0 0h1m0 0h1m0 0h1m-31 1h1m1 0h1m0 0h1m0 0h1m0 0h1m0 0h1m1 0h1m1 0h1m0 0h1m0 0h1m1 0h1m0 0h1m0 0h1m1 0h1m0 0h1m0 0h1m0 0h1m0 0h1m1 0h1m0 0h1m0 0h1m0 0h1m0 0h1m0 0h1m0 0h1m-36 1h1m2 0h1m0 0h1m0 0h1m0 0h1m0 0h1m1 0h1m0 0h1m0 0h1m1 0h1m0 0h1m0 0h1m0 0h1m0 0h1m0 0h1m0 0h1m0 0h1m0 0h1m0 0h1m1 0h1m0 0h1m0 0h1m0 0h1m0 0h1m0 0h1m0 0h1m0 0h1m0 0h1m1 0h1m0 0h1m0 0h1m-37 1h1m6 0h1m0 0h1m2 0h1m0 0h1m0 0h1m0 0h1m0 0h1m0 0h1m0 0h1m0 0h1m0 0h1m0 0h1m0 0h1m0 0h1m0 0h1m0 0h1m0 0h1m0 0h1m0 0h1m0 0h1m0 0h1m0 0h1m0 0h1m0 0h1m0 0h1m0 0h1m0 0h1m-30 1h1m0 0h1m0 0h1m2 0h1m0 0h1m0 0h1m0 0h1m0 0h1m0 0h1m0 0h1m0 0h1m1 0h1m0 0h1m0 0h1m2 0h1m0 0h1m0 0h1m0 0h1m0 0h1m1 0h1m0 0h1m0 0h1m0 0h1m0 0h1m-33 1h1m3 0h1m0 0h1m0 0h1m0 0h1m0 0h1m0 0h1m1 0h1m1 0h1m0 0h1m0 0h1m0 0h1m0 0h1m0 0h1m1 0h1m0 0h1m0 0h1m0 0h1m0 0h1m0 0h1m0 0h1m0 0h1m0 0h1m0 0h1m0 0h1m0 0h1m0 0h1m-28 1h1m0 0h1m0 0h1m1 0h1m0 0h1m1 0h1m0 0h1m0 0h1m0 0h1m0 0h1m0 0h1m0 0h1m0 0h1m0 0h1m0 0h1m0 0h1m1 0h1m1 0h1m0 0h1m0 0h1m0 0h1m0 0h1m0 0h1m0 0h1m-27 1h1m0 0h1m0 0h1m2 0h1m0 0h1m0 0h1m0 0h1m1 0h1m0 0h1m0 0h1m0 0h1m0 0h1m0 0h1m0 0h1m0 0h1m0 0h1m0 0h1m1 0h1m0 0h1m-22 1h1m0 0h1m0 0h1m0 0h1m0 0h1m0 0h1m1 0h1m0 0h1m0 0h1m0 0h1m0 0h1m1 0h1m0 0h1m0 0h1m0 0h1m0 0h1m0 0h1m0 0h1m0 0h1m0 0h1m1 0h1m0 0h1m-31 1h1m8 0h1m0 0h1m0 0h1m0 0h1m0 0h1m0 0h1m0 0h1m0 0h1m0 0h1m0 0h1m0 0h1m0 0h1m0 0h1m0 0h1m0 0h1m0 0h1m3 0h1m0 0h1m-22 1h1m1 0h1m2 0h1m1 0h1m0 0h1m0 0h1m0 0h1m0 0h1m1 0h1m1 0h1m1 0h1m2 0h1m1 0h1m-24 1h1m1 0h1m0 0h1m1 0h1m2 0h1m1 0h1m2 0h1m1 0h1m-11 1h1m5 0h1m2 0h1m0 0h1m0 0h1m3 0h1m1 0h1m-21 1h1m5 0h1m6 0h1m5 0h1m0 0h1m1 0h1m-10 1h1m0 0h1m4 0h1m2 0h1m-19 1h1m0 0h1m6 0h1m-12 1h1m6 0h1m7 0h1m1 0h1m-7 1h1m8 0h1m-9 2h1m-18 1h1m16 2h1m3 0h1m3 1h1" stroke="#0a0a12" stroke-width="1" opacity="0.9" transform="translate(0 0.5)"/>
<path d="M377 92h1m0 0h1m-17 1h1m11 0h1m6 0h1m-25 1h1m8 0h1m1 0h1m17 0h1m-30 2h1m3 0h1m8 0h1m8 0h1m6 0h1m-29 1h1m3 0h1m11 0h1m0 0h1m1 0h1m0 0h1m-26 1h1m0 0h1m2 0h1m0 0h1m11 0h1m2 0h1m8 0h1m-33 1h1m1 0h1m3 0h1m0 0h1m0 0h1m0 0h1m3 0h1m2 0h1m2 0h1m1 0h1m19 0h1m-38 1h1m1 0h1m1 0h1m2 0h1m1 0h1m1 0h1m0 0h1m1 0h1m1 0h1m1 0h1m0 0h1m0 0h1m2 0h1m6 0h1m-28 1h1m8 0h1m3 0h1m1 0h1m1 0h1m8 0h1m-35 1h1m0 0h1m0 0h1m1 0h1m1 0h1m0 0h1m0 0h1m1 0h1m2 0h1m0 0h1m0 0h1m4 0h1m3 0h1m1 0h1m-29 1h1m0 0h1m1 0h1m0 0h1m0 0h1m0 0h1m0 0h1m0 0h1m0 0h1m0 0h1m0 0h1m0 0h1m0 0h1m0 0h1m0 0h1m3 0h1m0 0h1m0 0h1m1 0h1m4 0h1m3 0h1m-32 1h1m1 0h1m1 0h1m0 0h1m0 0h1m0 0h1m0 0h1m0 0h1m0 0h1m0 0h1m0 0h1m1 0h1m0 0h1m0 0h1m0 0h1m0 0h1m3 0h1m4 0h1m1 0h1m10 0h1m-42 1h1m0 0h1m0 0h1m0 0h1m1 0h1m0 0h1m0 0h1m0 0h1m0 0h1m0 0h1m0 0h1m0 0h1m0 0h1m0 0h1m0 0h1m0 0h1m0 0h1m0 0h1m0 0h1m6 0h1m0 0h1m0 0h1m1 0h1m12 0h1m-44 1h1m0 0h1m1 0h1m0 0h1m0 0h1m0 0h1m0 0h1m0 0h1m1 0h1m1 0h1m0 0h1m0 0h1m0 0h1m0 0h1m0 0h1m0 0h1m2 0h1m1 0h1m1 0h1m1 0h1m0 0h1m5 0h1m-35 1h1m0 0h1m0 0h1m0 0h1m0 0h1m1 0h1m0 0h1m0 0h1m0 0h1m0 0h1m0 0h1m0 0h1m0 0h1m0 0h1m0 0h1m0 0h1m0 0h1m0 0h1m0 0h1m0 0h1m2 0h1m0 0h1m3 0h1m1 0h1m1 0h1m2 0h1m-36 1h1m0 0h1m0 0h1m0 0h1m0 0h1m1 0h1m0 0h1m0 0h1m0 0h1m0 0h1m0 0h1m0 0h1m0 0h1m0 0h1m0 0h1m0 0h1m0 0h1m0 0h1m0 0h1m0 0h1m1 0h1m1 0h1m0 0h1m1 0h1m-28 1h1m1 0h1m0 0h1m0 0h1m0 0h1m0 0h1m0 0h1m0 0h1m0 0h1m0 0h1m1 0h1m0 0h1m0 0h1m0 0h1m0 0h1m0 0h1m0 0h1m0 0h1m0 0h1m4 0h1m1 0h1m1 0h1m-30 1h1m1 0h1m0 0h1m0 0h1m0 0h1m0 0h1m0 0h1m0 0h1m0 0h1m0 0h1m0 0h1m1 0h1m0 0h1m0 0h1m0 0h1m0 0h1m1 0h1m0 0h1m0 0h1m4 0h1m2 0h1m1 0h1m1 0h1m5 0h1m-41 1h1m0 0h1m0 0h1m0 0h1m0 0h1m0 0h1m0 0h1m1 0h1m0 0h1m0 0h1m0 0h1m0 0h1m1 0h1m1 0h1m0 0h1m0 0h1m1 0h1m0 0h1m0 0h1m-22 1h1m0 0h1m0 0h1m0 0h1m0 0h1m0 0h1m0 0h1m0 0h1m0 0h1m0 0h1m0 0h1m0 0h1m0 0h1m0 0h1m0 0h1m0 0h1m0 0h1m0 0h1m0 0h1m0 0h1m0 0h1m2 0h1m0 0h1m1 0h1m0 0h1m2 0h1m-32 1h1m0 0h1m0 0h1m0 0h1m0 0h1m0 0h1m0 0h1m0 0h1m1 0h1m0 0h1m0 0h1m0 0h1m0 0h1m0 0h1m0 0h1m0 0h1m0 0h1m0 0h1m0 0h1m0 0h1m1 0h1m0 0h1m0 0h1m2 0h1m2 0h1m-30 1h1m0 0h1m1 0h1m0 0h1m0 0h1m0 0h1m0 0h1m0 0h1m1 0h1m0 0h1m0 0h1m0 0h1m0 0h1m0 0h1m0 0h1m0 0h1m0 0h1m0 0h1m0 0h1m1 0h1m0 0h1m5 0h1m-30 1h1m0 0h1m0 0h1m1 0h1m0 0h1m0 0h1m0 0h1m0 0h1m0 0h1m0 0h1m1 0h1m0 0h1m0 0h1m1 0h1m0 0h1m0 0h1m0 0h1m0 0h1m1 0h1m2 0h1m7 0h1m2 0h1m-37 1h1m0 0h1m0 0h1m0 0h1m1 0h1m0 0h1m0 0h1m0 0h1m0 0h1m1 0h1m0 0h1m0 0h1m0 0h1m0 0h1m0 0h1m0 0h1m0 0h1m2 0h1m0 0h1m6 0h1m3 0h1m-34 1h1m0 0h1m0 0h1m0 0h1m0 0h1m0 0h1m0 0h1m0 0h1m0 0h1m0 0h1m0 0h1m0 0h1m0 0h1m0 0h1m0 0h1m0 0h1m0 0h1m0 0h1m6 0h1m4 0h1m0 0h1m0 0h1m-32 1h1m0 0h1m0 0h1m0 0h1m0 0h1m1 0h1m0 0h1m1 0h1m0 0h1m0 0h1m0 0h1m0 0h1m0 0h1m0 0h1m2 0h1m0 0h1m4 0h1m1 0h1m2 0h1m-31 1h1m0 0h1m0 0h1m2 0h1m0 0h1m0 0h1m0 0h1m2 0h1m0 0h1m0 0h1m0 0h1m2 0h1m0 0h1m-19 1h1m0 0h1m0 0h1m1 0h1m1 0h1m1 0h1m0 0h1m0 0h1m3 0h1m2 0h1m2 0h1m0 0h1m-19 1h1m1 0h1m0 0h1m0 0h1m2 0h1m0 0h1m0 0h1m1 0h1m1 0h1m4 0h1m3 0h1m-18 1h1m3 0h1m1 0h1m0 0h1m1 0h1m0 0h1m6 0h1m0 0h1m-26 1h1m2 0h1m0 0h1m6 0h1m1 0h1m-7 1h1m2 0h1m4 0h1m-10 1h1m0 0h1m2 0h1m2 0h1m1 0h1m0 0h1m2 0h1m2 0h1m-20 1h1m9 0h1m2 1h1" stroke="#f39a18" stroke-width="1" opacity="0.75" transform="translate(0 0.5)"/>
<path d="M374 91h1m5 0h1m6 0h1m4 0h1m1 0h1m0 0h1m-34 1h1m6 0h1m1 0h1m9 0h1m8 0h1m6 0h1m-33 1h1m4 0h1m11 0h1m-17 1h1m2 0h1m7 0h1m7 0h1m0 0h1m5 0h1m-37 1h1m18 0h1m6 0h1m14 0h1m-48 1h1m18 0h1m6 0h1m1 0h1m6 0h1m-30 1h1m14 0h1m1 0h1m2 0h1m2 0h1m15 0h1m-30 1h1m2 0h1m0 0h1m3 0h1m8 0h1m3 0h1m3 0h1m0 0h1m1 0h1m-42 1h1m14 0h1m6 0h1m6 0h1m4 0h1m2 0h1m2 0h1m-42 1h1m0 0h1m10 0h1m1 0h1m20 0h1m2 0h1m0 0h1m-38 1h1m8 0h1m2 0h1m4 0h1m1 0h1m1 0h1m11 0h1m0 0h1m2 0h1m-32 1h1m13 0h1m12 0h1m-20 1h1m15 0h1m2 0h1m4 0h1m-42 1h1m0 0h1m3 0h1m7 0h1m4 0h1m6 0h1m12 0h1m-39 1h1m1 0h1m1 0h1m6 0h1m5 0h1m1 0h1m5 0h1m-24 1h1m5 0h1m3 0h1m3 0h1m7 0h1m0 0h1m-10 1h1m6 0h1m7 0h1m-19 1h1m17 0h1m2 0h1m-15 1h1m14 0h1m-25 1h1m16 0h1m4 0h1m-20 1h1m16 0h1m0 0h1m-30 1h1m0 0h1m8 0h1m-12 1h1m12 0h1m0 0h1m6 0h1m6 0h1m0 0h1m-33 1h1m0 0h1m8 0h1m21 0h1m-31 1h1m0 0h1m10 0h1m9 0h1m8 0h1m-14 1h1m3 0h1m0 0h1m3 0h1m-17 1h1m4 0h1m7 0h1m-25 1h1m4 0h1m0 0h1m6 0h1m2 0h1m7 0h1m1 0h1m1 0h1m-26 1h1m8 0h1m10 0h1m-13 1h1m3 0h1m0 0h1m2 0h1m1 0h1m0 0h1m3 0h1m-23 1h1m2 0h1m4 0h1m3 0h1m9 1h1m-28 1h1m2 0h1m11 0h1m2 0h1m0 0h1m-16 1h1m6 0h1m2 0h1m-1 1h1m9 0h1m-26 1h1m0 0h1m0 0h1m15 0h1m1 0h1m3 0h1m-24 1h1m0 0h1m5 0h1m7 1h1m2 0h1" stroke="#f2b860" stroke-width="1" opacity="0.45" transform="translate(0 0.5)"/>
<path d="M375 89h1m-14 1h1m-8 1h1m4 0h1m-7 1h1m-7 4h1m-1 1h1m39 20h1" stroke="#8c96a8" stroke-width="1" opacity="0.35" transform="translate(0 0.5)"/>
<polygon points="345.4,128.1 347.2,98.5 357.5,92.4 391.1,90.4 401.2,93.1 373.6,128.7" fill="none" stroke="#e4d4a4" stroke-width="0.85"/>
<text x="388.1" y="116.3" font-size="3.6" fill="#d8c080" text-anchor="start">LPC</text>
<text x="322.1" y="140.2" font-size="5.6" fill="#2a2a2a" text-anchor="start" stroke="#2a2a2a" stroke-width="0.18">RBC/PKH67</text>
<g clip-path="url(#gcR0)"><ellipse cx="463" cy="113.7" rx="12" ry="7.5" fill="#f7961b" opacity="0.7" filter="url(#bl2)" transform="rotate(-15 463 113.7)"/></g>
<path d="M421 92h1m17 0h1m6 3h1m0 0h1m5 0h1m-35 2h1m5 0h1m21 0h1m4 0h1m-27 1h1m4 0h1m12 0h1m-14 1h1m0 0h1m0 0h1m8 0h1m-11 1h1m2 0h1m10 0h1m3 0h1m2 0h1m-25 1h1m20 0h1m-31 1h1m12 0h1m5 0h1m3 0h1m1 0h1m1 0h1m4 0h1m-26 1h1m8 0h1m5 0h1m8 0h1m-22 1h1m8 0h1m3 0h1m2 0h1m0 0h1m0 0h1m0 0h1m1 0h1m0 0h1m-28 1h1m1 0h1m10 0h1m0 0h1m5 0h1m1 0h1m0 0h1m2 0h1m-10 1h1m1 0h1m0 0h1m0 0h1m0 0h1m0 0h1m0 0h1m0 0h1m0 0h1m0 0h1m-35 1h1m10 0h1m7 0h1m4 0h1m0 0h1m0 0h1m1 0h1m0 0h1m0 0h1m0 0h1m-15 1h1m5 0h1m0 0h1m0 0h1m0 0h1m0 0h1m0 0h1m0 0h1m1 0h1m1 0h1m0 0h1m-28 1h1m0 0h1m15 0h1m0 0h1m1 0h1m1 0h1m0 0h1m0 0h1m1 0h1m0 0h1m-34 1h1m2 0h1m8 0h1m0 0h1m0 0h1m2 0h1m2 0h1m2 0h1m1 0h1m1 0h1m0 0h1m0 0h1m0 0h1m0 0h1m0 0h1m0 0h1m-32 1h1m1 0h1m6 0h1m3 0h1m1 0h1m0 0h1m2 0h1m0 0h1m1 0h1m1 0h1m0 0h1m1 0h1m0 0h1m0 0h1m0 0h1m0 0h1m-32 1h1m12 0h1m3 0h1m1 0h1m1 0h1m0 0h1m0 0h1m0 0h1m2 0h1m0 0h1m0 0h1m0 0h1m0 0h1m-27 1h1m2 0h1m0 0h1m1 0h1m0 0h1m0 0h1m2 0h1m2 0h1m1 0h1m0 0h1m1 0h1m0 0h1m0 0h1m0 0h1m0 0h1m1 0h1m0 0h1m-16 1h1m0 0h1m4 0h1m0 0h1m0 0h1m0 0h1m0 0h1m0 0h1m1 0h1m0 0h1m0 0h1m-26 1h1m2 0h1m3 0h1m0 0h1m2 0h1m0 0h1m1 0h1m0 0h1m0 0h1m1 0h1m0 0h1m0 0h1m0 0h1m0 0h1m0 0h1m0 0h1m0 0h1m-26 1h1m4 0h1m3 0h1m5 0h1m0 0h1m0 0h1m0 0h1m0 0h1m0 0h1m0 0h1m0 0h1m0 0h1m0 0h1m0 0h1m-20 1h1m2 0h1m3 0h1m0 0h1m0 0h1m0 0h1m0 0h1m1 0h1m0 0h1m0 0h1m0 0h1m0 0h1m0 0h1m0 0h1m-27 1h1m13 0h1m2 0h1m0 0h1m0 0h1m1 0h1m0 0h1m0 0h1m0 0h1m0 0h1m0 0h1m-25 1h1m6 0h1m5 0h1m1 0h1m0 0h1m0 0h1m0 0h1m0 0h1m0 0h1m0 0h1m0 0h1m1 0h1m-14 1h1m6 0h1m0 0h1m0 0h1m0 0h1m0 0h1m0 0h1m-9 1h1m0 0h1m0 0h1m0 0h1m0 0h1m0 0h1m0 0h1m0 0h1m0 0h1m-15 1h1m0 0h1m2 0h1m2 0h1m1 0h1m0 0h1m1 0h1m0 0h1m0 0h1m-30 1h1m15 0h1m0 0h1m5 0h1m0 0h1m2 0h1m1 0h1m-14 1h1m8 0h1m1 0h1m0 0h1m-2 1h1m1 0h1m-19 1h1m5 0h1m8 0h1m-1 1h1m0 1h1m-7 2h1" stroke="#d81c34" stroke-width="1" opacity="0.78" transform="translate(0 0.5)"/>
<path d="M480 92h1m-7 2h1m-12 1h1m5 0h1m-6 1h1m1 0h1m0 0h1m3 0h1m0 0h1m1 0h1m-16 1h1m0 0h1m10 0h1m3 0h1m2 0h1m2 0h1m-25 1h1m3 0h1m0 0h1m2 0h1m6 0h1m0 0h1m2 0h1m3 0h1m8 0h1m-33 1h1m3 0h1m2 0h1m0 0h1m3 0h1m0 0h1m1 0h1m2 0h1m2 0h1m1 0h1m6 0h1m-35 1h1m0 0h1m4 0h1m0 0h1m0 0h1m2 0h1m0 0h1m5 0h1m0 0h1m4 0h1m-19 1h1m0 0h1m0 0h1m0 0h1m0 0h1m3 0h1m0 0h1m0 0h1m0 0h1m0 0h1m1 0h1m2 0h1m3 0h1m-24 1h1m3 0h1m0 0h1m1 0h1m0 0h1m2 0h1m4 0h1m3 0h1m2 0h1m1 0h1m-26 1h1m1 0h1m0 0h1m1 0h1m0 0h1m0 0h1m1 0h1m0 0h1m0 0h1m2 0h1m2 0h1m0 0h1m0 0h1m0 0h1m0 0h1m-21 1h1m1 0h1m0 0h1m0 0h1m0 0h1m1 0h1m1 0h1m1 0h1m0 0h1m0 0h1m0 0h1m2 0h1m0 0h1m1 0h1m5 0h1m-32 1h1m1 0h1m1 0h1m0 0h1m0 0h1m0 0h1m0 0h1m0 0h1m0 0h1m0 0h1m1 0h1m0 0h1m0 0h1m1 0h1m1 0h1m0 0h1m2 0h1m2 0h1m0 0h1m-27 1h1m0 0h1m0 0h1m0 0h1m0 0h1m0 0h1m0 0h1m0 0h1m0 0h1m0 0h1m0 0h1m0 0h1m0 0h1m0 0h1m0 0h1m0 0h1m0 0h1m1 0h1m0 0h1m0 0h1m0 0h1m0 0h1m0 0h1m0 0h1m0 0h1m0 0h1m1 0h1m0 0h1m-31 1h1m0 0h1m0 0h1m0 0h1m0 0h1m0 0h1m1 0h1m0 0h1m0 0h1m0 0h1m0 0h1m0 0h1m0 0h1m0 0h1m0 0h1m0 0h1m0 0h1m0 0h1m1 0h1m0 0h1m3 0h1m2 0h1m0 0h1m0 0h1m-31 1h1m0 0h1m0 0h1m0 0h1m0 0h1m0 0h1m0 0h1m0 0h1m0 0h1m0 0h1m0 0h1m0 0h1m0 0h1m0 0h1m0 0h1m0 0h1m0 0h1m0 0h1m1 0h1m0 0h1m1 0h1m0 0h1m0 0h1m0 0h1m0 0h1m2 0h1m-30 1h1m0 0h1m0 0h1m0 0h1m0 0h1m0 0h1m0 0h1m0 0h1m0 0h1m0 0h1m0 0h1m0 0h1m0 0h1m0 0h1m0 0h1m0 0h1m0 0h1m0 0h1m0 0h1m0 0h1m0 0h1m0 0h1m0 0h1m0 0h1m0 0h1m1 0h1m0 0h1m1 0h1m-30 1h1m0 0h1m0 0h1m0 0h1m0 0h1m0 0h1m0 0h1m0 0h1m0 0h1m0 0h1m0 0h1m0 0h1m0 0h1m0 0h1m0 0h1m0 0h1m0 0h1m0 0h1m0 0h1m0 0h1m0 0h1m0 0h1m0 0h1m0 0h1m2 0h1m1 0h1m0 0h1m-30 1h1m0 0h1m0 0h1m0 0h1m0 0h1m0 0h1m0 0h1m0 0h1m0 0h1m0 0h1m0 0h1m0 0h1m0 0h1m0 0h1m0 0h1m0 0h1m0 0h1m0 0h1m0 0h1m0 0h1m0 0h1m1 0h1m0 0h1m0 0h1m0 0h1m1 0h1m5 0h1m-35 1h1m0 0h1m0 0h1m0 0h1m0 0h1m0 0h1m0 0h1m0 0h1m0 0h1m0 0h1m0 0h1m0 0h1m0 0h1m0 0h1m0 0h1m0 0h1m0 0h1m0 0h1m0 0h1m0 0h1m0 0h1m0 0h1m0 0h1m0 0h1m1 0h1m0 0h1m2 0h1m-30 1h1m0 0h1m0 0h1m0 0h1m0 0h1m0 0h1m0 0h1m0 0h1m0 0h1m0 0h1m0 0h1m0 0h1m0 0h1m0 0h1m0 0h1m0 0h1m0 0h1m0 0h1m1 0h1m0 0h1m0 0h1m0 0h1m0 0h1m1 0h1m1 0h1m-28 1h1m0 0h1m0 0h1m0 0h1m0 0h1m0 0h1m0 0h1m0 0h1m0 0h1m0 0h1m0 0h1m0 0h1m0 0h1m0 0h1m0 0h1m0 0h1m0 0h1m0 0h1m0 0h1m0 0h1m1 0h1m0 0h1m0 0h1m1 0h1m0 0h1m2 0h1m-30 1h1m0 0h1m0 0h1m0 0h1m0 0h1m0 0h1m0 0h1m0 0h1m0 0h1m0 0h1m0 0h1m0 0h1m0 0h1m0 0h1m0 0h1m0 0h1m0 0h1m0 0h1m0 0h1m0 0h1m0 0h1m0 0h1m2 0h1m1 0h1m1 0h1m1 0h1m-30 1h1m0 0h1m0 0h1m0 0h1m0 0h1m0 0h1m0 0h1m0 0h1m0 0h1m0 0h1m0 0h1m0 0h1m0 0h1m0 0h1m0 0h1m1 0h1m0 0h1m0 0h1m2 0h1m0 0h1m0 0h1m0 0h1m0 0h1m-27 1h1m0 0h1m0 0h1m0 0h1m0 0h1m0 0h1m0 0h1m0 0h1m1 0h1m0 0h1m0 0h1m0 0h1m0 0h1m0 0h1m0 0h1m1 0h1m1 0h1m0 0h1m0 0h1m0 0h1m5 0h1m-29 1h1m0 0h1m1 0h1m0 0h1m0 0h1m0 0h1m0 0h1m0 0h1m0 0h1m0 0h1m0 0h1m0 0h1m0 0h1m0 0h1m0 0h1m0 0h1m0 0h1m0 0h1m0 0h1m0 0h1m3 0h1m2 0h1m2 0h1m5 0h1m-37 1h1m0 0h1m0 0h1m0 0h1m0 0h1m0 0h1m0 0h1m0 0h1m0 0h1m0 0h1m0 0h1m0 0h1m0 0h1m0 0h1m0 0h1m0 0h1m0 0h1m0 0h1m0 0h1m0 0h1m1 0h1m0 0h1m3 0h1m2 0h1m-30 1h1m0 0h1m0 0h1m0 0h1m1 0h1m0 0h1m0 0h1m0 0h1m0 0h1m0 0h1m0 0h1m0 0h1m1 0h1m0 0h1m0 0h1m0 0h1m0 0h1m1 0h1m2 0h1m11 0h1m-36 1h1m0 0h1m0 0h1m0 0h1m0 0h1m0 0h1m0 0h1m1 0h1m0 0h1m0 0h1m0 0h1m0 0h1m1 0h1m0 0h1m0 0h1m1 0h1m7 0h1m-26 1h1m1 0h1m0 0h1m1 0h1m0 0h1m0 0h1m0 0h1m0 0h1m0 0h1m0 0h1m0 0h1m0 0h1m2 0h1m1 0h1m0 0h1m3 0h1m-25 1h1m0 0h1m3 0h1m1 0h1m0 0h1m0 0h1m1 0h1m0 0h1m2 0h1m0 0h1m0 0h1m0 0h1m2 0h1m-20 1h1m1 0h1m3 0h1m0 0h1m0 0h1m0 0h1m0 0h1m0 0h1m1 0h1m7 0h1m-24 1h1m0 0h1m1 0h1m3 0h1m2 0h1m9 0h1m1 0h1m-19 1h1m2 0h1m4 0h1m1 0h1m1 0h1m0 0h1m11 0h1m-31 1h1m3 0h1m0 0h1m3 0h1m4 0h1m3 0h1m-15 1h1m0 0h1m3 0h1m0 0h1m3 0h1m4 0h1m-16 1h1m5 0h1m3 0h1m-8 1h1" stroke="#f5901a" stroke-width="1" opacity="0.85" transform="translate(0 0.5)"/>
<polygon points="451.3,129.7 452.8,100.5 459.7,94.8 492.5,90.6 508.4,94.4 480.9,130.8" fill="none" stroke="#e4d4a4" stroke-width="0.85"/>
<text x="496.4" y="117.9" font-size="3.6" fill="#d8c080" text-anchor="start">LPC</text>
<ellipse cx="330" cy="175.1" rx="12" ry="7.5" fill="#333" opacity="0.35" filter="url(#bl2)" transform="rotate(-8 330 175.1)"/>
<g clip-path="url(#gcL1)"><ellipse cx="355" cy="179.1" rx="10" ry="8" fill="#f59c18" opacity="0.5" filter="url(#bl2)"/></g>
<path d="M332 155h1m16 1h1m-19 1h1m5 1h1m2 0h1m6 2h1m-16 1h1m9 0h1m-23 2h1m1 0h1m5 0h1m8 0h1m4 0h1m-24 1h1m2 0h1m7 0h1m2 0h1m11 0h1m-26 1h1m8 0h1m0 0h1m0 0h1m1 0h1m0 0h1m0 0h1m0 0h1m1 0h1m0 0h1m5 0h1m-29 1h1m8 0h1m1 0h1m0 0h1m0 0h1m1 0h1m0 0h1m0 0h1m0 0h1m0 0h1m0 0h1m0 0h1m0 0h1m1 0h1m0 0h1m0 0h1m-20 1h1m1 0h1m0 0h1m0 0h1m0 0h1m0 0h1m0 0h1m0 0h1m0 0h1m0 0h1m0 0h1m0 0h1m0 0h1m1 0h1m0 0h1m0 0h1m2 0h1m0 0h1m-25 1h1m1 0h1m0 0h1m0 0h1m1 0h1m0 0h1m0 0h1m0 0h1m0 0h1m0 0h1m1 0h1m0 0h1m0 0h1m0 0h1m0 0h1m0 0h1m0 0h1m1 0h1m0 0h1m0 0h1m0 0h1m-25 1h1m0 0h1m0 0h1m1 0h1m0 0h1m0 0h1m1 0h1m1 0h1m0 0h1m0 0h1m0 0h1m0 0h1m1 0h1m0 0h1m0 0h1m0 0h1m0 0h1m0 0h1m0 0h1m0 0h1m0 0h1m-25 1h1m0 0h1m0 0h1m0 0h1m0 0h1m0 0h1m1 0h1m0 0h1m0 0h1m0 0h1m1 0h1m0 0h1m0 0h1m0 0h1m0 0h1m0 0h1m0 0h1m0 0h1m0 0h1m0 0h1m0 0h1m0 0h1m0 0h1m-34 1h1m4 0h1m0 0h1m0 0h1m0 0h1m0 0h1m1 0h1m1 0h1m0 0h1m0 0h1m0 0h1m0 0h1m0 0h1m0 0h1m0 0h1m0 0h1m0 0h1m0 0h1m0 0h1m0 0h1m0 0h1m0 0h1m0 0h1m0 0h1m1 0h1m0 0h1m0 0h1m-31 1h1m2 0h1m0 0h1m1 0h1m0 0h1m0 0h1m0 0h1m0 0h1m0 0h1m0 0h1m0 0h1m0 0h1m0 0h1m0 0h1m0 0h1m0 0h1m0 0h1m0 0h1m0 0h1m0 0h1m0 0h1m0 0h1m0 0h1m0 0h1m0 0h1m0 0h1m0 0h1m-28 1h1m0 0h1m1 0h1m0 0h1m0 0h1m0 0h1m1 0h1m0 0h1m0 0h1m0 0h1m0 0h1m0 0h1m0 0h1m0 0h1m0 0h1m0 0h1m0 0h1m0 0h1m0 0h1m0 0h1m0 0h1m1 0h1m0 0h1m1 0h1m-29 1h1m2 0h1m0 0h1m0 0h1m0 0h1m3 0h1m0 0h1m1 0h1m0 0h1m0 0h1m0 0h1m0 0h1m0 0h1m0 0h1m0 0h1m0 0h1m0 0h1m2 0h1m0 0h1m0 0h1m0 0h1m0 0h1m-28 1h1m2 0h1m1 0h1m1 0h1m1 0h1m1 0h1m0 0h1m0 0h1m0 0h1m0 0h1m0 0h1m0 0h1m0 0h1m0 0h1m0 0h1m0 0h1m0 0h1m0 0h1m2 0h1m-28 1h1m0 0h1m1 0h1m0 0h1m1 0h1m0 0h1m0 0h1m0 0h1m0 0h1m0 0h1m0 0h1m1 0h1m0 0h1m0 0h1m0 0h1m0 0h1m0 0h1m1 0h1m0 0h1m0 0h1m0 0h1m0 0h1m0 0h1m0 0h1m0 0h1m-31 1h1m0 0h1m0 0h1m0 0h1m0 0h1m1 0h1m1 0h1m2 0h1m0 0h1m0 0h1m0 0h1m0 0h1m0 0h1m1 0h1m0 0h1m0 0h1m0 0h1m0 0h1m0 0h1m1 0h1m0 0h1m0 0h1m0 0h1m0 0h1m0 0h1m-29 1h1m1 0h1m0 0h1m1 0h1m0 0h1m0 0h1m0 0h1m0 0h1m0 0h1m0 0h1m0 0h1m1 0h1m0 0h1m0 0h1m0 0h1m1 0h1m0 0h1m0 0h1m0 0h1m0 0h1m0 0h1m0 0h1m0 0h1m0 0h1m0 0h1m-30 1h1m0 0h1m0 0h1m1 0h1m1 0h1m3 0h1m0 0h1m0 0h1m0 0h1m0 0h1m0 0h1m0 0h1m0 0h1m0 0h1m0 0h1m0 0h1m0 0h1m0 0h1m1 0h1m0 0h1m0 0h1m0 0h1m0 0h1m0 0h1m-32 1h1m4 0h1m0 0h1m0 0h1m0 0h1m0 0h1m0 0h1m0 0h1m0 0h1m0 0h1m0 0h1m1 0h1m0 0h1m0 0h1m0 0h1m0 0h1m0 0h1m1 0h1m0 0h1m1 0h1m0 0h1m0 0h1m0 0h1m0 0h1m0 0h1m-27 1h1m2 0h1m0 0h1m0 0h1m0 0h1m2 0h1m0 0h1m1 0h1m0 0h1m0 0h1m0 0h1m2 0h1m0 0h1m0 0h1m0 0h1m0 0h1m0 0h1m0 0h1m0 0h1m-26 1h1m3 0h1m0 0h1m0 0h1m0 0h1m1 0h1m0 0h1m0 0h1m0 0h1m1 0h1m0 0h1m0 0h1m0 0h1m0 0h1m2 0h1m0 0h1m0 0h1m0 0h1m0 0h1m0 0h1m-25 1h1m0 0h1m1 0h1m1 0h1m0 0h1m0 0h1m0 0h1m0 0h1m0 0h1m0 0h1m0 0h1m1 0h1m0 0h1m0 0h1m0 0h1m0 0h1m-24 1h1m1 0h1m4 0h1m1 0h1m0 0h1m0 0h1m1 0h1m1 0h1m0 0h1m0 0h1m0 0h1m0 0h1m0 0h1m0 0h1m1 0h1m0 0h1m2 0h1m0 0h1m-34 1h1m13 0h1m0 0h1m0 0h1m0 0h1m0 0h1m2 0h1m0 0h1m0 0h1m0 0h1m0 0h1m6 0h1m-11 1h1m1 0h1m1 0h1m0 0h1m2 0h1m1 0h1m0 0h1m-32 1h1m3 0h1m10 0h1m11 0h1m-9 1h1m7 0h1m1 0h1m-14 1h1m9 0h1m2 0h1m0 0h1m-7 1h1m0 0h1m3 0h1m-14 1h1m0 0h1m9 0h1m2 0h1m-10 2h1m9 1h1m-8 1h1m3 0h1m0 1h1m0 0h1m-9 2h1" stroke="#0a0a12" stroke-width="1" opacity="0.9" transform="translate(0 0.5)"/>
<path d="M379 160h1m-15 1h1m6 0h1m6 0h1m-18 1h1m33 0h1m-39 1h1m8 0h1m1 0h1m5 0h1m12 0h1m-31 1h1m4 0h1m-14 1h1m7 0h1m3 0h1m3 0h1m4 0h1m4 0h1m-30 1h1m4 0h1m0 0h1m2 0h1m0 0h1m2 0h1m11 0h1m3 0h1m-26 1h1m3 0h1m5 0h1m1 0h1m3 0h1m0 0h1m2 0h1m3 0h1m0 0h1m7 0h1m-37 1h1m4 0h1m0 0h1m2 0h1m2 0h1m0 0h1m2 0h1m3 0h1m0 0h1m3 0h1m6 0h1m0 0h1m1 0h1m-36 1h1m5 0h1m5 0h1m1 0h1m0 0h1m1 0h1m3 0h1m0 0h1m0 0h1m0 0h1m3 0h1m1 0h1m-34 1h1m0 0h1m0 0h1m0 0h1m3 0h1m0 0h1m1 0h1m0 0h1m0 0h1m0 0h1m0 0h1m0 0h1m1 0h1m1 0h1m1 0h1m1 0h1m1 0h1m0 0h1m1 0h1m0 0h1m2 0h1m3 0h1m-35 1h1m0 0h1m1 0h1m0 0h1m0 0h1m0 0h1m0 0h1m0 0h1m0 0h1m0 0h1m0 0h1m0 0h1m1 0h1m2 0h1m1 0h1m1 0h1m3 0h1m3 0h1m3 0h1m1 0h1m1 0h1m4 0h1m-44 1h1m0 0h1m2 0h1m0 0h1m0 0h1m0 0h1m1 0h1m0 0h1m0 0h1m0 0h1m0 0h1m0 0h1m0 0h1m0 0h1m0 0h1m3 0h1m0 0h1m6 0h1m2 0h1m0 0h1m9 0h1m-45 1h1m0 0h1m1 0h1m0 0h1m0 0h1m0 0h1m0 0h1m0 0h1m0 0h1m0 0h1m0 0h1m0 0h1m0 0h1m2 0h1m0 0h1m0 0h1m0 0h1m2 0h1m1 0h1m2 0h1m3 0h1m-29 1h1m0 0h1m0 0h1m0 0h1m0 0h1m1 0h1m1 0h1m0 0h1m0 0h1m0 0h1m1 0h1m1 0h1m0 0h1m0 0h1m0 0h1m2 0h1m0 0h1m0 0h1m1 0h1m5 0h1m0 0h1m4 0h1m-41 1h1m1 0h1m0 0h1m0 0h1m0 0h1m0 0h1m0 0h1m0 0h1m0 0h1m0 0h1m0 0h1m0 0h1m0 0h1m0 0h1m1 0h1m0 0h1m0 0h1m0 0h1m0 0h1m0 0h1m0 0h1m1 0h1m0 0h1m1 0h1m2 0h1m0 0h1m0 0h1m1 0h1m0 0h1m-35 1h1m0 0h1m0 0h1m0 0h1m0 0h1m0 0h1m0 0h1m0 0h1m0 0h1m0 0h1m0 0h1m0 0h1m0 0h1m1 0h1m0 0h1m0 0h1m0 0h1m0 0h1m1 0h1m2 0h1m1 0h1m1 0h1m1 0h1m0 0h1m5 0h1m-38 1h1m0 0h1m0 0h1m0 0h1m0 0h1m0 0h1m0 0h1m0 0h1m1 0h1m0 0h1m0 0h1m0 0h1m0 0h1m0 0h1m0 0h1m0 0h1m0 0h1m0 0h1m0 0h1m0 0h1m0 0h1m0 0h1m1 0h1m0 0h1m1 0h1m11 0h1m-39 1h1m0 0h1m0 0h1m0 0h1m0 0h1m0 0h1m0 0h1m0 0h1m0 0h1m0 0h1m0 0h1m0 0h1m0 0h1m0 0h1m0 0h1m1 0h1m0 0h1m0 0h1m0 0h1m0 0h1m2 0h1m0 0h1m0 0h1m1 0h1m2 0h1m0 0h1m1 0h1m-35 1h1m0 0h1m0 0h1m0 0h1m0 0h1m0 0h1m0 0h1m0 0h1m0 0h1m0 0h1m0 0h1m0 0h1m0 0h1m0 0h1m0 0h1m0 0h1m0 0h1m0 0h1m0 0h1m0 0h1m0 0h1m2 0h1m8 0h1m6 0h1m-40 1h1m0 0h1m0 0h1m2 0h1m0 0h1m0 0h1m0 0h1m0 0h1m0 0h1m0 0h1m0 0h1m0 0h1m0 0h1m0 0h1m0 0h1m1 0h1m0 0h1m0 0h1m0 0h1m1 0h1m0 0h1m0 0h1m0 0h1m5 0h1m0 0h1m1 0h1m0 0h1m-36 1h1m0 0h1m0 0h1m0 0h1m0 0h1m0 0h1m0 0h1m0 0h1m0 0h1m0 0h1m0 0h1m0 0h1m0 0h1m0 0h1m0 0h1m1 0h1m0 0h1m0 0h1m0 0h1m0 0h1m0 0h1m0 0h1m0 0h1m2 0h1m0 0h1m1 0h1m-31 1h1m0 0h1m0 0h1m0 0h1m0 0h1m0 0h1m0 0h1m0 0h1m0 0h1m0 0h1m0 0h1m0 0h1m0 0h1m0 0h1m0 0h1m0 0h1m0 0h1m0 0h1m0 0h1m0 0h1m7 0h1m3 0h1m-31 1h1m0 0h1m1 0h1m0 0h1m0 0h1m0 0h1m0 0h1m0 0h1m0 0h1m0 0h1m0 0h1m0 0h1m0 0h1m0 0h1m0 0h1m0 0h1m0 0h1m0 0h1m0 0h1m1 0h1m2 0h1m0 0h1m4 0h1m4 0h1m-35 1h1m2 0h1m0 0h1m0 0h1m0 0h1m2 0h1m0 0h1m0 0h1m0 0h1m1 0h1m0 0h1m0 0h1m6 0h1m0 0h1m0 0h1m2 0h1m-29 1h1m1 0h1m0 0h1m0 0h1m0 0h1m1 0h1m0 0h1m0 0h1m0 0h1m0 0h1m0 0h1m0 0h1m0 0h1m0 0h1m0 0h1m0 0h1m0 0h1m0 0h1m6 0h1m3 0h1m-31 1h1m1 0h1m0 0h1m0 0h1m0 0h1m0 0h1m1 0h1m0 0h1m0 0h1m1 0h1m0 0h1m0 0h1m0 0h1m0 0h1m0 0h1m0 0h1m2 0h1m12 0h1m-34 1h1m0 0h1m0 0h1m2 0h1m0 0h1m0 0h1m0 0h1m0 0h1m0 0h1m0 0h1m0 0h1m1 0h1m2 0h1m0 0h1m0 0h1m1 0h1m0 0h1m5 0h1m-29 1h1m4 0h1m1 0h1m0 0h1m2 0h1m1 0h1m0 0h1m1 0h1m2 0h1m6 0h1m-29 1h1m2 0h1m2 0h1m4 0h1m0 0h1m2 0h1m19 0h1m-32 1h1m0 0h1m0 0h1m3 0h1m1 0h1m-12 1h1m2 0h1m3 0h1m1 0h1m4 0h1m-16 1h1m11 0h1m6 0h1m-20 1h1m5 0h1m-5 1h1m4 0h1m3 0h1m10 0h1m-18 1h1m2 1h1m1 0h1m5 0h1" stroke="#f39a18" stroke-width="1" opacity="0.75" transform="translate(0 0.5)"/>
<path d="M389 159h1m3 0h1m1 0h1m-26 1h1m1 0h1m6 0h1m10 0h1m-25 1h1m4 0h1m2 0h1m2 0h1m0 0h1m17 0h1m-43 1h1m5 0h1m7 0h1m2 0h1m18 0h1m0 0h1m3 0h1m-37 1h1m26 0h1m5 0h1m0 0h1m3 0h1m-48 1h1m32 0h1m0 0h1m2 0h1m1 0h1m-39 1h1m14 0h1m4 0h1m8 0h1m2 0h1m3 0h1m-34 1h1m17 0h1m1 0h1m11 0h1m10 0h1m-45 1h1m10 0h1m8 0h1m-18 1h1m9 0h1m20 0h1m-36 1h1m7 0h1m6 0h1m4 0h1m13 0h1m-35 1h1m15 0h1m-14 1h1m5 0h1m0 0h1m1 0h1m8 0h1m13 0h1m-38 1h1m6 0h1m10 0h1m4 0h1m2 0h1m12 0h1m-40 1h1m3 0h1m0 0h1m3 0h1m9 0h1m8 0h1m-29 1h1m2 0h1m4 0h1m16 0h1m10 0h1m0 0h1m-36 1h1m0 0h1m17 0h1m10 0h1m1 0h1m3 0h1m-29 1h1m0 0h1m5 0h1m3 0h1m0 0h1m8 0h1m0 0h1m1 0h1m0 0h1m-35 1h1m7 0h1m27 0h1m-33 1h1m26 0h1m2 0h1m-29 1h1m1 0h1m1 0h1m23 0h1m-31 1h1m7 0h1m6 0h1m-20 1h1m1 0h1m3 0h1m11 0h1m7 0h1m-13 1h1m7 0h1m1 0h1m8 0h1m-27 1h1m9 0h1m5 0h1m2 0h1m5 0h1m-30 1h1m0 0h1m2 0h1m2 0h1m2 0h1m6 0h1m4 0h1m-27 1h1m5 0h1m2 0h1m1 0h1m9 0h1m3 0h1m-24 1h1m7 0h1m0 0h1m0 0h1m9 0h1m-19 1h1m10 0h1m-5 1h1m1 0h1m0 0h1m6 0h1m6 0h1m-28 1h1m0 0h1m3 0h1m17 0h1m0 0h1m3 0h1m-27 1h1m3 0h1m3 0h1m0 0h1m3 0h1m9 0h1m1 0h1m-27 1h1m3 0h1m2 0h1m12 0h1m2 0h1m1 0h1m-26 1h1m4 0h1m4 0h1m4 0h1m2 0h1m2 0h1m0 0h1m-20 1h1m1 0h1m6 0h1m1 0h1m1 0h1m6 0h1m-19 1h1m1 0h1m1 0h1m1 0h1m2 0h1m4 0h1m2 0h1m2 0h1m-18 1h1m7 0h1m2 0h1m-21 1h1m14 0h1m0 0h1" stroke="#f2b860" stroke-width="1" opacity="0.45" transform="translate(0 0.5)"/>
<path d="M370 151h1m-5 4h1m1 0h1m-12 3h1m9 0h1m-3 1h1m28 14h1m-5 13h1m-8 5h1m-35 6h1m5 0h1m-2 2h1" stroke="#8c96a8" stroke-width="1" opacity="0.35" transform="translate(0 0.5)"/>
<polygon points="344.1,196.1 345.6,166 352.6,161.6 391.7,158 401.3,160.6 375.9,197" fill="none" stroke="#e4d4a4" stroke-width="0.85"/>
<text x="390.4" y="184.3" font-size="3.6" fill="#d8c080" text-anchor="start">LPC</text>
<text x="322.9" y="204.6" font-size="5.6" fill="#2a2a2a" text-anchor="start" stroke="#2a2a2a" stroke-width="0.18">RBC/PKH67</text>
<g clip-path="url(#gcR1)"><ellipse cx="463" cy="179.5" rx="12" ry="7.5" fill="#f7961b" opacity="0.7" filter="url(#bl2)" transform="rotate(-30 463 179.5)"/></g>
<path d="M427 159h1m10 0h1m-8 1h1m-1 1h1m4 1h1m-11 1h1m1 0h1m9 0h1m-21 1h1m9 0h1m1 0h1m4 0h1m8 0h1m-21 1h1m2 0h1m14 0h1m-12 1h1m5 0h1m0 0h1m8 0h1m-20 1h1m2 0h1m2 0h1m-9 1h1m0 0h1m15 0h1m1 1h1m-15 1h1m6 0h1m0 0h1m4 0h1m-19 1h1m15 0h1m8 0h1m-29 1h1m0 0h1m1 0h1m1 0h1m0 0h1m8 0h1m2 0h1m3 0h1m-26 1h1m6 0h1m1 0h1m2 0h1m4 0h1m4 0h1m2 0h1m-27 1h1m10 0h1m3 0h1m6 0h1m1 0h1m-16 1h1m5 0h1m2 0h1m1 0h1m2 0h1m-27 1h1m7 0h1m9 0h1m8 0h1m3 0h1m1 0h1m1 0h1m0 0h1m-22 1h1m3 0h1m0 0h1m0 0h1m0 0h1m1 0h1m1 0h1m5 0h1m2 0h1m-22 1h1m0 0h1m15 0h1m0 0h1m1 0h1m-32 1h1m0 0h1m2 0h1m7 0h1m10 0h1m3 0h1m2 0h1m1 0h1m-31 1h1m5 0h1m5 0h1m1 0h1m11 0h1m0 0h1m1 0h1m-28 1h1m5 0h1m10 0h1m10 0h1m-18 1h1m6 0h1m1 0h1m0 0h1m0 0h1m0 0h1m0 0h1m0 0h1m0 0h1m0 0h1m0 0h1m-15 1h1m8 0h1m3 0h1m0 0h1m-12 1h1m5 0h1m1 0h1m1 0h1m0 0h1m-7 1h1m0 0h1m1 0h1m0 0h1m-13 1h1m1 0h1m5 0h1m0 0h1m3 0h1m0 0h1m-14 1h1m1 0h1m7 0h1m1 0h1m0 0h1m-16 1h1m1 0h1m1 0h1m2 0h1m1 0h1m0 0h1m2 0h1m0 0h1m-20 1h1m3 0h1m5 0h1m1 0h1m1 0h1m0 0h1m0 0h1m0 0h1m1 0h1m0 0h1m-11 1h1m1 0h1m2 0h1m1 0h1m0 0h1m0 0h1m0 0h1m-4 1h1m1 0h1" stroke="#b8284c" stroke-width="1" opacity="0.6" transform="translate(0 0.5)"/>
<path d="M477 156h1m12 1h1m-10 1h1m4 0h1m2 0h1m-9 1h1m4 0h1m0 0h1m-27 1h1m10 0h1m0 0h1m1 1h1m1 0h1m1 0h1m0 0h1m2 0h1m-22 1h1m11 0h1m1 0h1m1 0h1m0 0h1m8 0h1m3 0h1m-32 1h1m4 0h1m2 0h1m1 0h1m1 0h1m1 0h1m0 0h1m0 0h1m0 0h1m1 0h1m1 0h1m0 0h1m0 0h1m1 0h1m-27 1h1m6 0h1m4 0h1m0 0h1m0 0h1m0 0h1m0 0h1m3 0h1m1 0h1m1 0h1m2 0h1m-35 1h1m8 0h1m3 0h1m1 0h1m1 0h1m0 0h1m7 0h1m3 0h1m0 0h1m1 0h1m-22 1h1m2 0h1m2 0h1m0 0h1m1 0h1m0 0h1m2 0h1m-20 1h1m2 0h1m1 0h1m0 0h1m0 0h1m3 0h1m1 0h1m0 0h1m1 0h1m0 0h1m2 0h1m3 0h1m2 0h1m1 0h1m1 0h1m-33 1h1m1 0h1m0 0h1m3 0h1m0 0h1m2 0h1m0 0h1m0 0h1m0 0h1m0 0h1m0 0h1m0 0h1m1 0h1m0 0h1m1 0h1m0 0h1m3 0h1m0 0h1m5 0h1m-29 1h1m0 0h1m1 0h1m0 0h1m0 0h1m0 0h1m0 0h1m0 0h1m1 0h1m1 0h1m0 0h1m0 0h1m2 0h1m-27 1h1m0 0h1m2 0h1m2 0h1m0 0h1m0 0h1m0 0h1m0 0h1m0 0h1m0 0h1m0 0h1m0 0h1m0 0h1m0 0h1m0 0h1m0 0h1m0 0h1m0 0h1m0 0h1m0 0h1m0 0h1m0 0h1m1 0h1m0 0h1m1 0h1m-27 1h1m0 0h1m0 0h1m0 0h1m0 0h1m0 0h1m0 0h1m0 0h1m0 0h1m0 0h1m0 0h1m0 0h1m0 0h1m0 0h1m0 0h1m1 0h1m0 0h1m2 0h1m1 0h1m0 0h1m0 0h1m2 0h1m-32 1h1m0 0h1m0 0h1m0 0h1m2 0h1m0 0h1m0 0h1m0 0h1m0 0h1m0 0h1m0 0h1m0 0h1m0 0h1m0 0h1m0 0h1m0 0h1m0 0h1m0 0h1m0 0h1m1 0h1m0 0h1m1 0h1m2 0h1m5 0h1m-34 1h1m2 0h1m0 0h1m0 0h1m0 0h1m0 0h1m0 0h1m0 0h1m0 0h1m0 0h1m0 0h1m0 0h1m0 0h1m0 0h1m0 0h1m0 0h1m0 0h1m0 0h1m0 0h1m0 0h1m0 0h1m0 0h1m0 0h1m0 0h1m0 0h1m0 0h1m0 0h1m0 0h1m2 0h1m-35 1h1m1 0h1m0 0h1m0 0h1m0 0h1m0 0h1m0 0h1m0 0h1m0 0h1m0 0h1m0 0h1m0 0h1m0 0h1m0 0h1m0 0h1m0 0h1m0 0h1m0 0h1m0 0h1m0 0h1m0 0h1m0 0h1m1 0h1m0 0h1m-28 1h1m0 0h1m0 0h1m1 0h1m0 0h1m0 0h1m0 0h1m0 0h1m0 0h1m0 0h1m0 0h1m0 0h1m0 0h1m0 0h1m0 0h1m0 0h1m0 0h1m0 0h1m0 0h1m0 0h1m0 0h1m0 0h1m0 0h1m0 0h1m0 0h1m2 0h1m0 0h1m1 0h1m4 0h1m-36 1h1m0 0h1m0 0h1m0 0h1m0 0h1m0 0h1m0 0h1m0 0h1m0 0h1m0 0h1m0 0h1m0 0h1m0 0h1m0 0h1m0 0h1m0 0h1m0 0h1m0 0h1m0 0h1m0 0h1m0 0h1m0 0h1m0 0h1m0 0h1m1 0h1m0 0h1m1 0h1m2 0h1m2 0h1m-35 1h1m0 0h1m0 0h1m0 0h1m0 0h1m0 0h1m0 0h1m0 0h1m0 0h1m0 0h1m0 0h1m0 0h1m0 0h1m0 0h1m0 0h1m0 0h1m0 0h1m0 0h1m0 0h1m0 0h1m0 0h1m0 0h1m0 0h1m0 0h1m0 0h1m0 0h1m0 0h1m0 0h1m0 0h1m6 0h1m-37 1h1m0 0h1m0 0h1m0 0h1m0 0h1m0 0h1m0 0h1m0 0h1m0 0h1m0 0h1m0 0h1m0 0h1m0 0h1m0 0h1m0 0h1m0 0h1m0 0h1m0 0h1m0 0h1m0 0h1m0 0h1m0 0h1m0 0h1m0 0h1m0 0h1m0 0h1m0 0h1m0 0h1m0 0h1m0 0h1m3 0h1m-32 1h1m0 0h1m0 0h1m0 0h1m0 0h1m0 0h1m0 0h1m0 0h1m0 0h1m0 0h1m0 0h1m0 0h1m0 0h1m0 0h1m0 0h1m0 0h1m0 0h1m0 0h1m0 0h1m0 0h1m0 0h1m0 0h1m1 0h1m0 0h1m0 0h1m1 0h1m-29 1h1m0 0h1m0 0h1m0 0h1m0 0h1m0 0h1m1 0h1m0 0h1m0 0h1m0 0h1m0 0h1m0 0h1m0 0h1m0 0h1m0 0h1m0 0h1m0 0h1m0 0h1m0 0h1m0 0h1m1 0h1m0 0h1m0 0h1m0 0h1m6 0h1m-34 1h1m0 0h1m0 0h1m0 0h1m1 0h1m0 0h1m0 0h1m0 0h1m0 0h1m0 0h1m0 0h1m0 0h1m0 0h1m0 0h1m0 0h1m0 0h1m0 0h1m0 0h1m0 0h1m0 0h1m0 0h1m0 0h1m0 0h1m0 0h1m0 0h1m-26 1h1m0 0h1m0 0h1m0 0h1m0 0h1m0 0h1m0 0h1m0 0h1m0 0h1m0 0h1m0 0h1m0 0h1m0 0h1m0 0h1m0 0h1m0 0h1m0 0h1m0 0h1m0 0h1m0 0h1m0 0h1m0 0h1m1 0h1m0 0h1m2 0h1m-28 1h1m0 0h1m0 0h1m0 0h1m0 0h1m0 0h1m0 0h1m0 0h1m0 0h1m0 0h1m0 0h1m0 0h1m0 0h1m0 0h1m0 0h1m0 0h1m0 0h1m0 0h1m0 0h1m0 0h1m0 0h1m0 0h1m0 0h1m0 0h1m0 0h1m0 0h1m-26 1h1m0 0h1m0 0h1m0 0h1m0 0h1m0 0h1m0 0h1m0 0h1m0 0h1m0 0h1m0 0h1m0 0h1m1 0h1m0 0h1m0 0h1m0 0h1m0 0h1m0 0h1m0 0h1m0 0h1m0 0h1m0 0h1m1 0h1m6 0h1m-32 1h1m0 0h1m0 0h1m0 0h1m0 0h1m0 0h1m0 0h1m0 0h1m0 0h1m0 0h1m0 0h1m0 0h1m0 0h1m0 0h1m0 0h1m0 0h1m0 0h1m0 0h1m0 0h1m1 0h1m-20 1h1m0 0h1m0 0h1m0 0h1m0 0h1m0 0h1m0 0h1m0 0h1m0 0h1m0 0h1m0 0h1m0 0h1m0 0h1m0 0h1m0 0h1m0 0h1m1 0h1m2 0h1m1 0h1m0 0h1m-25 1h1m0 0h1m1 0h1m0 0h1m0 0h1m0 0h1m0 0h1m0 0h1m0 0h1m0 0h1m0 0h1m0 0h1m0 0h1m0 0h1m0 0h1m1 0h1m0 0h1m0 0h1m1 0h1m-22 1h1m0 0h1m0 0h1m0 0h1m0 0h1m0 0h1m0 0h1m0 0h1m0 0h1m0 0h1m0 0h1m0 0h1m0 0h1m3 0h1m1 0h1m5 0h1m-25 1h1m0 0h1m1 0h1m0 0h1m1 0h1m0 0h1m0 0h1m0 0h1m0 0h1m0 0h1m0 0h1m0 0h1m0 0h1m0 0h1m1 0h1m1 0h1m-21 1h1m0 0h1m0 0h1m0 0h1m1 0h1m0 0h1m1 0h1m0 0h1m1 0h1m0 0h1m7 0h1m-21 1h1m1 0h1m0 0h1m3 0h1m0 0h1m0 0h1m-10 1h1m1 0h1m0 0h1m1 0h1m8 0h1m3 0h1m-16 1h1m5 0h1m0 0h1m4 0h1m0 0h1" stroke="#f5901a" stroke-width="1" opacity="0.85" transform="translate(0 0.5)"/>
<polygon points="450.9,192.5 452.4,162.5 460.8,156.3 494,154.5 507.5,156.5 477.1,194.3" fill="none" stroke="#e4d4a4" stroke-width="0.85"/>
<text x="492.6" y="180.7" font-size="3.6" fill="#d8c080" text-anchor="start">LPC</text>
<ellipse cx="330" cy="246.5" rx="12" ry="7.5" fill="#333" opacity="0.35" filter="url(#bl2)" transform="rotate(-8 330 246.5)"/>
<g clip-path="url(#gcL2)"><ellipse cx="355" cy="250.5" rx="10" ry="8" fill="#f59c18" opacity="0.5" filter="url(#bl2)"/></g>
<path d="M340 228h1m2 2h1m-11 2h1m-7 1h1m0 0h1m9 1h1m-16 1h1m0 0h1m0 0h1m12 0h1m2 0h1m4 0h1m-22 1h1m1 0h1m0 0h1m5 0h1m0 0h1m0 0h1m4 0h1m4 0h1m-20 1h1m0 0h1m0 0h1m0 0h1m0 0h1m0 0h1m0 0h1m0 0h1m0 0h1m0 0h1m0 0h1m1 0h1m0 0h1m0 0h1m-19 1h1m2 0h1m1 0h1m0 0h1m3 0h1m0 0h1m3 0h1m0 0h1m1 0h1m1 0h1m1 0h1m-23 1h1m0 0h1m0 0h1m2 0h1m0 0h1m0 0h1m0 0h1m0 0h1m0 0h1m0 0h1m0 0h1m0 0h1m0 0h1m0 0h1m0 0h1m0 0h1m0 0h1m0 0h1m1 0h1m0 0h1m-26 1h1m1 0h1m0 0h1m0 0h1m0 0h1m1 0h1m1 0h1m0 0h1m0 0h1m0 0h1m1 0h1m1 0h1m1 0h1m1 0h1m0 0h1m0 0h1m1 0h1m0 0h1m0 0h1m-25 1h1m0 0h1m0 0h1m0 0h1m0 0h1m0 0h1m0 0h1m0 0h1m0 0h1m1 0h1m0 0h1m0 0h1m0 0h1m0 0h1m0 0h1m0 0h1m0 0h1m2 0h1m0 0h1m0 0h1m1 0h1m-31 1h1m3 0h1m0 0h1m0 0h1m0 0h1m0 0h1m1 0h1m0 0h1m0 0h1m0 0h1m0 0h1m0 0h1m0 0h1m0 0h1m0 0h1m0 0h1m0 0h1m0 0h1m0 0h1m3 0h1m0 0h1m0 0h1m0 0h1m0 0h1m-28 1h1m1 0h1m0 0h1m0 0h1m1 0h1m0 0h1m1 0h1m0 0h1m1 0h1m0 0h1m1 0h1m0 0h1m0 0h1m0 0h1m0 0h1m0 0h1m0 0h1m0 0h1m0 0h1m0 0h1m1 0h1m0 0h1m-33 1h1m4 0h1m0 0h1m0 0h1m0 0h1m0 0h1m0 0h1m2 0h1m0 0h1m0 0h1m0 0h1m0 0h1m0 0h1m0 0h1m0 0h1m0 0h1m1 0h1m0 0h1m0 0h1m1 0h1m0 0h1m0 0h1m0 0h1m0 0h1m-31 1h1m2 0h1m0 0h1m0 0h1m1 0h1m0 0h1m1 0h1m0 0h1m1 0h1m0 0h1m0 0h1m0 0h1m0 0h1m0 0h1m0 0h1m1 0h1m0 0h1m1 0h1m0 0h1m0 0h1m1 0h1m0 0h1m-26 1h1m0 0h1m1 0h1m1 0h1m1 0h1m0 0h1m0 0h1m1 0h1m0 0h1m0 0h1m1 0h1m0 0h1m0 0h1m0 0h1m1 0h1m1 0h1m0 0h1m0 0h1m0 0h1m0 0h1m0 0h1m-35 1h1m0 0h1m3 0h1m1 0h1m0 0h1m0 0h1m0 0h1m0 0h1m0 0h1m0 0h1m0 0h1m0 0h1m0 0h1m0 0h1m0 0h1m0 0h1m0 0h1m0 0h1m0 0h1m2 0h1m0 0h1m0 0h1m0 0h1m0 0h1m0 0h1m0 0h1m0 0h1m0 0h1m-32 1h1m0 0h1m1 0h1m0 0h1m0 0h1m0 0h1m0 0h1m0 0h1m0 0h1m0 0h1m0 0h1m0 0h1m0 0h1m0 0h1m0 0h1m0 0h1m0 0h1m0 0h1m0 0h1m0 0h1m0 0h1m0 0h1m0 0h1m0 0h1m0 0h1m0 0h1m0 0h1m0 0h1m0 0h1m0 0h1m0 0h1m0 0h1m-30 1h1m0 0h1m0 0h1m2 0h1m0 0h1m1 0h1m0 0h1m0 0h1m0 0h1m0 0h1m0 0h1m0 0h1m0 0h1m0 0h1m0 0h1m0 0h1m0 0h1m0 0h1m1 0h1m0 0h1m1 0h1m1 0h1m0 0h1m0 0h1m-32 1h1m2 0h1m0 0h1m0 0h1m0 0h1m0 0h1m0 0h1m1 0h1m0 0h1m0 0h1m0 0h1m0 0h1m0 0h1m0 0h1m0 0h1m0 0h1m0 0h1m0 0h1m0 0h1m0 0h1m0 0h1m0 0h1m0 0h1m0 0h1m0 0h1m0 0h1m0 0h1m0 0h1m-36 1h1m3 0h1m1 0h1m1 0h1m0 0h1m0 0h1m0 0h1m1 0h1m1 0h1m0 0h1m0 0h1m1 0h1m0 0h1m0 0h1m1 0h1m0 0h1m1 0h1m0 0h1m0 0h1m0 0h1m0 0h1m1 0h1m0 0h1m1 0h1m-29 1h1m1 0h1m0 0h1m0 0h1m0 0h1m1 0h1m0 0h1m0 0h1m0 0h1m0 0h1m1 0h1m1 0h1m0 0h1m0 0h1m0 0h1m1 0h1m0 0h1m0 0h1m0 0h1m0 0h1m0 0h1m0 0h1m0 0h1m0 0h1m-27 1h1m0 0h1m0 0h1m0 0h1m0 0h1m0 0h1m0 0h1m0 0h1m0 0h1m0 0h1m0 0h1m2 0h1m0 0h1m0 0h1m1 0h1m0 0h1m0 0h1m0 0h1m0 0h1m1 0h1m0 0h1m0 0h1m-24 1h1m1 0h1m1 0h1m0 0h1m0 0h1m0 0h1m0 0h1m0 0h1m1 0h1m0 0h1m1 0h1m0 0h1m0 0h1m0 0h1m0 0h1m1 0h1m0 0h1m0 0h1m-34 1h1m7 0h1m3 0h1m1 0h1m0 0h1m0 0h1m0 0h1m2 0h1m0 0h1m1 0h1m0 0h1m0 0h1m0 0h1m0 0h1m1 0h1m0 0h1m3 0h1m0 0h1m-23 1h1m3 0h1m0 0h1m1 0h1m0 0h1m0 0h1m0 0h1m0 0h1m10 0h1m-22 1h1m5 0h1m0 0h1m0 0h1m6 0h1m5 0h1m-23 1h1m5 0h1m0 0h1m1 0h1m5 0h1m2 0h1m1 0h1m-30 1h1m4 0h1m6 0h1m0 0h1m1 0h1m2 0h1m0 0h1m5 0h1m0 0h1m3 0h1m0 0h1m-14 1h1m8 0h1m-2 1h1m-8 1h1m1 0h1m6 0h1m2 0h1m-29 1h1m16 0h1m7 1h1m1 0h1m0 0h1m-6 1h1m3 0h1m0 0h1m-12 3h1m3 2h1" stroke="#0a0a12" stroke-width="1" opacity="0.9" transform="translate(0 0.5)"/>
<path d="M371 230h1m1 0h1m-14 3h1m12 0h1m0 0h1m-15 1h1m5 0h1m11 0h1m-28 1h1m0 0h1m3 0h1m0 0h1m0 0h1m0 0h1m2 0h1m3 0h1m2 0h1m4 0h1m5 0h1m-28 1h1m6 0h1m4 0h1m0 0h1m0 0h1m3 0h1m5 0h1m-17 1h1m4 0h1m3 0h1m2 0h1m1 0h1m0 0h1m-28 1h1m4 0h1m2 0h1m0 0h1m4 0h1m0 0h1m4 0h1m2 0h1m4 0h1m5 0h1m6 0h1m-43 1h1m2 0h1m0 0h1m2 0h1m3 0h1m1 0h1m1 0h1m9 0h1m9 0h1m4 0h1m-41 1h1m1 0h1m0 0h1m10 0h1m2 0h1m5 0h1m1 0h1m10 0h1m6 0h1m-45 1h1m3 0h1m3 0h1m4 0h1m5 0h1m7 0h1m1 0h1m0 0h1m1 0h1m-34 1h1m3 0h1m1 0h1m0 0h1m1 0h1m0 0h1m0 0h1m0 0h1m0 0h1m3 0h1m2 0h1m2 0h1m1 0h1m2 0h1m-28 1h1m0 0h1m1 0h1m0 0h1m1 0h1m0 0h1m0 0h1m0 0h1m0 0h1m0 0h1m0 0h1m0 0h1m0 0h1m0 0h1m0 0h1m4 0h1m0 0h1m2 0h1m3 0h1m-31 1h1m0 0h1m0 0h1m0 0h1m1 0h1m0 0h1m0 0h1m0 0h1m0 0h1m0 0h1m0 0h1m0 0h1m2 0h1m0 0h1m0 0h1m0 0h1m0 0h1m2 0h1m0 0h1m1 0h1m0 0h1m1 0h1m1 0h1m3 0h1m6 0h1m-40 1h1m0 0h1m0 0h1m0 0h1m0 0h1m0 0h1m0 0h1m0 0h1m0 0h1m0 0h1m0 0h1m0 0h1m1 0h1m0 0h1m0 0h1m0 0h1m0 0h1m0 0h1m0 0h1m2 0h1m0 0h1m0 0h1m0 0h1m2 0h1m1 0h1m1 0h1m-35 1h1m0 0h1m0 0h1m0 0h1m0 0h1m0 0h1m2 0h1m0 0h1m0 0h1m0 0h1m0 0h1m0 0h1m0 0h1m0 0h1m0 0h1m1 0h1m1 0h1m0 0h1m2 0h1m1 0h1m0 0h1m0 0h1m3 0h1m4 0h1m0 0h1m2 0h1m-42 1h1m0 0h1m0 0h1m0 0h1m0 0h1m1 0h1m0 0h1m0 0h1m0 0h1m1 0h1m0 0h1m0 0h1m0 0h1m0 0h1m0 0h1m0 0h1m0 0h1m0 0h1m0 0h1m0 0h1m1 0h1m4 0h1m3 0h1m-32 1h1m0 0h1m1 0h1m0 0h1m0 0h1m0 0h1m0 0h1m0 0h1m0 0h1m1 0h1m0 0h1m0 0h1m0 0h1m0 0h1m0 0h1m0 0h1m1 0h1m0 0h1m1 0h1m1 0h1m2 0h1m3 0h1m0 0h1m-33 1h1m0 0h1m0 0h1m0 0h1m0 0h1m0 0h1m0 0h1m0 0h1m2 0h1m0 0h1m0 0h1m0 0h1m0 0h1m0 0h1m0 0h1m0 0h1m0 0h1m0 0h1m1 0h1m2 0h1m2 0h1m0 0h1m0 0h1m1 0h1m2 0h1m-34 1h1m0 0h1m0 0h1m1 0h1m0 0h1m0 0h1m0 0h1m0 0h1m0 0h1m0 0h1m1 0h1m0 0h1m0 0h1m0 0h1m0 0h1m0 0h1m0 0h1m0 0h1m0 0h1m1 0h1m0 0h1m2 0h1m9 0h1m-39 1h1m0 0h1m0 0h1m1 0h1m0 0h1m0 0h1m0 0h1m0 0h1m0 0h1m0 0h1m0 0h1m0 0h1m0 0h1m0 0h1m0 0h1m0 0h1m0 0h1m0 0h1m0 0h1m0 0h1m0 0h1m0 0h1m0 0h1m1 0h1m0 0h1m0 0h1m8 0h1m-37 1h1m0 0h1m0 0h1m0 0h1m0 0h1m0 0h1m0 0h1m0 0h1m0 0h1m0 0h1m0 0h1m1 0h1m0 0h1m0 0h1m0 0h1m0 0h1m0 0h1m0 0h1m0 0h1m0 0h1m0 0h1m1 0h1m0 0h1m0 0h1m0 0h1m1 0h1m-29 1h1m0 0h1m0 0h1m0 0h1m1 0h1m0 0h1m0 0h1m0 0h1m1 0h1m0 0h1m0 0h1m0 0h1m0 0h1m1 0h1m0 0h1m0 0h1m0 0h1m2 0h1m0 0h1m-24 1h1m0 0h1m0 0h1m1 0h1m0 0h1m0 0h1m0 0h1m0 0h1m0 0h1m0 0h1m0 0h1m0 0h1m0 0h1m0 0h1m0 0h1m0 0h1m1 0h1m0 0h1m0 0h1m0 0h1m2 0h1m0 0h1m0 0h1m0 0h1m6 0h1m1 0h1m-37 1h1m0 0h1m0 0h1m0 0h1m0 0h1m0 0h1m0 0h1m0 0h1m0 0h1m0 0h1m0 0h1m0 0h1m0 0h1m0 0h1m0 0h1m0 0h1m0 0h1m0 0h1m0 0h1m0 0h1m1 0h1m0 0h1m7 0h1m1 0h1m-33 1h1m1 0h1m1 0h1m0 0h1m0 0h1m0 0h1m1 0h1m0 0h1m0 0h1m2 0h1m0 0h1m0 0h1m0 0h1m0 0h1m0 0h1m0 0h1m0 0h1m1 0h1m0 0h1m1 0h1m4 0h1m-32 1h1m0 0h1m0 0h1m3 0h1m0 0h1m0 0h1m0 0h1m0 0h1m0 0h1m0 0h1m0 0h1m1 0h1m0 0h1m5 0h1m7 0h1m1 0h1m0 0h1m-33 1h1m0 0h1m0 0h1m0 0h1m0 0h1m0 0h1m0 0h1m0 0h1m0 0h1m0 0h1m0 0h1m0 0h1m0 0h1m1 0h1m0 0h1m0 0h1m0 0h1m1 0h1m4 0h1m2 0h1m1 0h1m-27 1h1m1 0h1m1 0h1m0 0h1m1 0h1m0 0h1m0 0h1m1 0h1m1 0h1m0 0h1m1 0h1m1 0h1m6 0h1m0 0h1m-26 1h1m1 0h1m0 0h1m0 0h1m1 0h1m0 0h1m0 0h1m2 0h1m1 0h1m1 0h1m1 0h1m7 0h1m0 0h1m-30 1h1m7 0h1m8 0h1m2 0h1m-23 1h1m0 0h1m5 0h1m0 0h1m7 0h1m12 0h1m-27 1h1m5 0h1m0 0h1m1 0h1m1 0h1m5 0h1m-12 1h1m1 1h1m2 0h1m2 0h1m-18 1h1m12 0h1m-12 1h1m2 0h1m7 0h1m4 0h1m-17 1h1" stroke="#f39a18" stroke-width="1" opacity="0.75" transform="translate(0 0.5)"/>
<path d="M370 230h1m6 0h1m5 0h1m4 0h1m-23 1h1m5 0h1m-8 1h1m4 0h1m0 0h1m1 0h1m5 0h1m0 0h1m9 0h1m-36 1h1m12 0h1m5 0h1m3 0h1m3 0h1m10 0h1m-36 1h1m9 0h1m0 0h1m5 0h1m8 0h1m3 0h1m6 0h1m-46 1h1m1 0h1m15 0h1m2 0h1m17 0h1m-23 1h1m1 0h1m1 0h1m7 0h1m2 0h1m-30 1h1m0 0h1m6 0h1m6 0h1m3 0h1m5 0h1m4 0h1m1 0h1m-33 1h1m3 0h1m5 0h1m1 0h1m0 0h1m0 0h1m3 0h1m1 0h1m18 0h1m-40 1h1m4 0h1m3 0h1m1 0h1m12 0h1m0 0h1m0 0h1m8 0h1m-33 1h1m10 0h1m3 0h1m9 0h1m11 0h1m-44 1h1m4 0h1m9 0h1m5 0h1m19 0h1m0 0h1m-36 1h1m0 0h1m8 0h1m12 0h1m-30 1h1m3 0h1m12 0h1m1 0h1m5 0h1m0 0h1m11 0h1m1 0h1m-41 1h1m0 0h1m4 0h1m15 0h1m0 0h1m6 0h1m3 0h1m-26 1h1m0 0h1m14 0h1m1 0h1m8 0h1m-35 1h1m9 0h1m14 0h1m6 0h1m-35 1h1m4 0h1m5 0h1m0 0h1m4 0h1m18 0h1m0 0h1m-37 1h1m0 0h1m0 0h1m4 0h1m2 0h1m0 0h1m1 0h1m2 0h1m3 0h1m11 0h1m-23 1h1m2 0h1m5 0h1m5 0h1m8 0h1m-18 1h1m0 0h1m1 0h1m11 0h1m-30 1h1m4 0h1m2 0h1m14 0h1m0 0h1m2 0h1m-28 1h1m3 0h1m4 0h1m4 0h1m11 0h1m1 0h1m-34 1h1m22 0h1m9 0h1m0 0h1m-25 1h1m4 0h1m7 0h1m-17 1h1m3 0h1m17 0h1m-28 1h1m11 0h1m0 0h1m12 0h1m2 0h1m-26 1h1m4 0h1m13 0h1m1 0h1m-27 1h1m7 0h1m12 0h1m-17 1h1m1 0h1m0 0h1m11 0h1m-16 1h1m22 0h1m-26 1h1m8 0h1m2 0h1m1 0h1m2 0h1m0 0h1m-21 1h1m19 0h1m0 0h1m-15 1h1m1 0h1m9 0h1m0 0h1m2 0h1m0 0h1m-20 1h1m7 0h1m0 0h1m0 0h1m4 0h1m2 0h1m-26 1h1m1 0h1m1 0h1m13 0h1m5 0h1m-12 1h1m7 0h1m-16 1h1m2 0h1m0 0h1m7 0h1" stroke="#f2b860" stroke-width="1" opacity="0.45" transform="translate(0 0.5)"/>
<path d="M359 228h1m-9 3h1m-3 5h1m-3 32h1m1 0h1m13 0h1m-13 1h1m19 0h1" stroke="#8c96a8" stroke-width="1" opacity="0.35" transform="translate(0 0.5)"/>
<polygon points="345,267.5 346.5,237.5 355.8,231.3 387.5,228 402,230.9 373.9,268.4" fill="none" stroke="#e4d4a4" stroke-width="0.85"/>
<text x="388.4" y="255.7" font-size="3.6" fill="#d8c080" text-anchor="start">LPC</text>
<text x="323.5" y="275.3" font-size="5.6" fill="#2a2a2a" text-anchor="start" stroke="#2a2a2a" stroke-width="0.18">RBC/PKH67</text>
<g clip-path="url(#gcR2)"><ellipse cx="463" cy="246.8" rx="12" ry="7.5" fill="#f7961b" opacity="0.7" filter="url(#bl2)" transform="rotate(-30 463 246.8)"/></g>
<path d="M437 224h1m-14 1h1m-8 3h1m10 1h1m-1 1h1m14 0h1m-17 1h1m11 0h1m-1 1h1m-16 1h1m1 0h1m5 0h1m4 0h1m-10 1h1m10 0h1m-2 1h1m-10 1h1m4 0h1m4 0h1m12 0h1m-27 1h1m2 0h1m20 0h1m-26 1h1m5 0h1m17 0h1m-26 1h1m2 0h1m2 0h1m7 0h1m4 0h1m0 0h1m0 0h1m-24 1h1m4 0h1m8 0h1m7 0h1m-25 1h1m1 0h1m3 0h1m0 0h1m8 0h1m-16 1h1m2 0h1m7 0h1m0 0h1m1 0h1m0 0h1m9 0h1m4 0h1m0 0h1m-37 1h1m9 0h1m1 0h1m1 0h1m1 0h1m5 0h1m11 0h1m-33 1h1m3 0h1m12 0h1m12 0h1m0 0h1m1 0h1m0 0h1m-33 1h1m4 0h1m8 0h1m9 0h1m6 0h1m-34 1h1m3 0h1m6 0h1m11 0h1m1 0h1m2 0h1m1 0h1m1 0h1m0 0h1m-27 1h1m9 0h1m7 0h1m4 0h1m0 0h1m0 0h1m1 0h1m-30 1h1m0 0h1m0 0h1m1 0h1m1 0h1m10 0h1m5 0h1m1 0h1m0 0h1m0 0h1m-24 1h1m2 0h1m5 0h1m8 0h1m0 0h1m1 0h1m1 0h1m-16 1h1m2 0h1m0 0h1m0 0h1m4 0h1m0 0h1m0 0h1m0 0h1m0 0h1m1 0h1m-8 1h1m2 0h1m0 0h1m0 0h1m0 0h1m0 0h1m-23 1h1m2 0h1m2 0h1m6 0h1m2 0h1m0 0h1m3 0h1m0 0h1m-31 1h1m15 0h1m6 0h1m3 0h1m1 0h1m-14 1h1m6 0h1m1 0h1m0 0h1m2 0h1m-5 1h1m1 0h1m0 0h1m0 0h1m0 0h1m-34 1h1m12 0h1m8 0h1m2 0h1m1 0h1m0 0h1m1 0h1m1 0h1m-21 1h1m15 0h1m0 0h1m0 0h1m0 0h1m0 0h1m0 0h1m-20 1h1m6 0h1m5 0h1m4 0h1m0 2h1m-4 2h1m3 0h1" stroke="#b8284c" stroke-width="1" opacity="0.6" transform="translate(0 0.5)"/>
<path d="M478 224h1m-2 1h1m8 1h1m-20 1h1m11 0h1m1 0h1m-15 1h1m3 0h1m8 0h1m1 0h1m4 0h1m1 0h1m-12 1h1m0 0h1m0 0h1m6 0h1m-19 1h1m7 0h1m1 0h1m0 0h1m0 0h1m0 0h1m0 0h1m2 0h1m-25 1h1m8 0h1m2 0h1m3 0h1m2 0h1m0 0h1m3 0h1m2 0h1m1 0h1m-32 1h1m7 0h1m1 0h1m3 0h1m0 0h1m0 0h1m0 0h1m0 0h1m3 0h1m1 0h1m1 0h1m-34 1h1m2 0h1m9 0h1m4 0h1m0 0h1m2 0h1m1 0h1m0 0h1m3 0h1m0 0h1m1 0h1m1 0h1m-24 1h1m2 0h1m0 0h1m1 0h1m0 0h1m0 0h1m0 0h1m0 0h1m0 0h1m0 0h1m1 0h1m0 0h1m0 0h1m1 0h1m-25 1h1m2 0h1m2 0h1m0 0h1m1 0h1m0 0h1m1 0h1m0 0h1m0 0h1m0 0h1m0 0h1m0 0h1m0 0h1m0 0h1m0 0h1m0 0h1m0 0h1m0 0h1m-24 1h1m0 0h1m1 0h1m1 0h1m1 0h1m0 0h1m0 0h1m1 0h1m0 0h1m0 0h1m0 0h1m0 0h1m2 0h1m4 0h1m0 0h1m-29 1h1m0 0h1m0 0h1m3 0h1m3 0h1m1 0h1m0 0h1m0 0h1m0 0h1m0 0h1m0 0h1m0 0h1m0 0h1m0 0h1m0 0h1m0 0h1m0 0h1m0 0h1m0 0h1m0 0h1m0 0h1m1 0h1m1 0h1m-33 1h1m1 0h1m2 0h1m2 0h1m0 0h1m0 0h1m0 0h1m0 0h1m0 0h1m0 0h1m0 0h1m0 0h1m0 0h1m0 0h1m0 0h1m0 0h1m0 0h1m0 0h1m1 0h1m0 0h1m1 0h1m3 0h1m-31 1h1m0 0h1m3 0h1m0 0h1m0 0h1m1 0h1m0 0h1m0 0h1m0 0h1m0 0h1m0 0h1m0 0h1m0 0h1m0 0h1m0 0h1m0 0h1m0 0h1m0 0h1m0 0h1m1 0h1m0 0h1m0 0h1m0 0h1m4 0h1m1 0h1m-35 1h1m2 0h1m1 0h1m0 0h1m0 0h1m0 0h1m0 0h1m0 0h1m0 0h1m0 0h1m1 0h1m0 0h1m0 0h1m1 0h1m0 0h1m0 0h1m0 0h1m0 0h1m0 0h1m0 0h1m0 0h1m0 0h1m0 0h1m0 0h1m-31 1h1m2 0h1m2 0h1m0 0h1m0 0h1m0 0h1m0 0h1m0 0h1m0 0h1m0 0h1m0 0h1m0 0h1m0 0h1m0 0h1m0 0h1m0 0h1m0 0h1m0 0h1m0 0h1m0 0h1m0 0h1m0 0h1m0 0h1m0 0h1m0 0h1m2 0h1m-32 1h1m0 0h1m1 0h1m0 0h1m0 0h1m0 0h1m0 0h1m0 0h1m0 0h1m0 0h1m0 0h1m0 0h1m0 0h1m0 0h1m0 0h1m0 0h1m0 0h1m0 0h1m0 0h1m1 0h1m0 0h1m0 0h1m0 0h1m0 0h1m0 0h1m0 0h1m1 0h1m1 0h1m0 0h1m0 0h1m-32 1h1m1 0h1m0 0h1m0 0h1m0 0h1m0 0h1m0 0h1m0 0h1m0 0h1m0 0h1m0 0h1m0 0h1m0 0h1m0 0h1m0 0h1m0 0h1m0 0h1m0 0h1m0 0h1m0 0h1m0 0h1m0 0h1m2 0h1m0 0h1m0 0h1m0 0h1m1 0h1m-32 1h1m0 0h1m0 0h1m0 0h1m0 0h1m0 0h1m0 0h1m0 0h1m0 0h1m0 0h1m0 0h1m0 0h1m0 0h1m0 0h1m0 0h1m0 0h1m0 0h1m0 0h1m0 0h1m0 0h1m0 0h1m0 0h1m1 0h1m4 0h1m1 0h1m4 0h1m-36 1h1m0 0h1m0 0h1m0 0h1m0 0h1m0 0h1m0 0h1m0 0h1m0 0h1m0 0h1m0 0h1m0 0h1m0 0h1m0 0h1m0 0h1m0 0h1m0 0h1m1 0h1m0 0h1m0 0h1m0 0h1m0 0h1m0 0h1m2 0h1m0 0h1m0 0h1m0 0h1m-31 1h1m1 0h1m0 0h1m0 0h1m0 0h1m0 0h1m0 0h1m0 0h1m0 0h1m0 0h1m0 0h1m0 0h1m0 0h1m0 0h1m0 0h1m0 0h1m0 0h1m0 0h1m0 0h1m0 0h1m0 0h1m0 0h1m0 0h1m1 0h1m0 0h1m5 0h1m-33 1h1m0 0h1m0 0h1m0 0h1m0 0h1m0 0h1m0 0h1m0 0h1m0 0h1m0 0h1m0 0h1m0 0h1m0 0h1m0 0h1m0 0h1m0 0h1m0 0h1m0 0h1m0 0h1m0 0h1m0 0h1m0 0h1m0 0h1m0 0h1m1 0h1m1 0h1m1 0h1m5 0h1m-36 1h1m0 0h1m0 0h1m0 0h1m0 0h1m0 0h1m0 0h1m0 0h1m0 0h1m0 0h1m0 0h1m0 0h1m0 0h1m0 0h1m0 0h1m0 0h1m0 0h1m0 0h1m0 0h1m0 0h1m0 0h1m0 0h1m0 0h1m0 0h1m0 0h1m0 0h1m1 0h1m-28 1h1m0 0h1m0 0h1m0 0h1m0 0h1m0 0h1m0 0h1m0 0h1m0 0h1m0 0h1m0 0h1m0 0h1m0 0h1m0 0h1m0 0h1m0 0h1m0 0h1m0 0h1m0 0h1m0 0h1m0 0h1m0 0h1m4 0h1m0 0h1m0 0h1m-29 1h1m0 0h1m0 0h1m0 0h1m0 0h1m0 0h1m0 0h1m0 0h1m0 0h1m0 0h1m0 0h1m0 0h1m0 0h1m0 0h1m0 0h1m0 0h1m0 0h1m0 0h1m0 0h1m1 0h1m0 0h1m0 0h1m1 0h1m0 0h1m1 0h1m1 0h1m-30 1h1m0 0h1m0 0h1m0 0h1m0 0h1m1 0h1m0 0h1m0 0h1m0 0h1m0 0h1m0 0h1m0 0h1m0 0h1m0 0h1m0 0h1m0 0h1m0 0h1m0 0h1m0 0h1m1 0h1m0 0h1m0 0h1m1 0h1m3 0h1m-30 1h1m0 0h1m0 0h1m0 0h1m0 0h1m0 0h1m0 0h1m0 0h1m0 0h1m0 0h1m0 0h1m0 0h1m0 0h1m0 0h1m0 0h1m1 0h1m0 0h1m0 0h1m0 0h1m-20 1h1m0 0h1m0 0h1m0 0h1m0 0h1m0 0h1m1 0h1m0 0h1m0 0h1m0 0h1m0 0h1m0 0h1m0 0h1m0 0h1m0 0h1m0 0h1m0 0h1m0 0h1m0 0h1m0 0h1m0 0h1m2 0h1m4 0h1m-30 1h1m1 0h1m0 0h1m0 0h1m0 0h1m1 0h1m0 0h1m0 0h1m0 0h1m0 0h1m0 0h1m0 0h1m0 0h1m1 0h1m4 0h1m1 0h1m2 0h1m-26 1h1m0 0h1m0 0h1m0 0h1m0 0h1m0 0h1m0 0h1m0 0h1m0 0h1m0 0h1m0 0h1m0 0h1m0 0h1m1 0h1m2 0h1m1 0h1m2 0h1m-24 1h1m0 0h1m0 0h1m0 0h1m0 0h1m0 0h1m1 0h1m0 0h1m0 0h1m0 0h1m0 0h1m0 0h1m0 0h1m7 0h1m1 0h1m3 0h1m-28 1h1m1 0h1m0 0h1m0 0h1m0 0h1m0 0h1m1 0h1m1 0h1m0 0h1m0 0h1m1 0h1m0 0h1m1 0h1m5 0h1m-24 1h1m2 0h1m0 0h1m1 0h1m0 0h1m0 0h1m1 0h1m0 0h1m2 0h1m3 0h1m3 0h1m-24 1h1m2 0h1m0 0h1m0 0h1m0 0h1m0 0h1m0 0h1m1 0h1m0 0h1m4 0h1m-13 1h1m3 0h1m1 0h1m1 0h1m8 0h1" stroke="#f5901a" stroke-width="1" opacity="0.85" transform="translate(0 0.5)"/>
<polygon points="451.2,259.8 452.7,229.6 462.6,223.6 494,220.9 507.9,224.5 479.3,261.4" fill="none" stroke="#e4d4a4" stroke-width="0.85"/>
<text x="494.8" y="248" font-size="3.6" fill="#d8c080" text-anchor="start">LPC</text>
<ellipse cx="330" cy="317.4" rx="12" ry="7.5" fill="#333" opacity="0.35" filter="url(#bl2)" transform="rotate(-8 330 317.4)"/>
<g clip-path="url(#gcL3)"><ellipse cx="355" cy="321.4" rx="10" ry="8" fill="#f59c18" opacity="0.5" filter="url(#bl2)"/></g>
<path d="M337 301h1m9 1h1m-6 1h1m-22 1h1m4 0h1m16 1h1m-28 1h1m4 0h1m3 0h1m0 0h1m4 0h1m10 0h1m-17 1h1m7 0h1m0 0h1m1 0h1m4 0h1m1 0h1m0 0h1m-28 1h1m7 0h1m0 0h1m0 0h1m1 0h1m1 0h1m0 0h1m0 0h1m0 0h1m0 0h1m0 0h1m0 0h1m0 0h1m0 0h1m0 0h1m-19 1h1m1 0h1m1 0h1m0 0h1m0 0h1m0 0h1m1 0h1m0 0h1m0 0h1m0 0h1m0 0h1m0 0h1m1 0h1m1 0h1m1 0h1m1 0h1m-33 1h1m10 0h1m0 0h1m0 0h1m0 0h1m0 0h1m0 0h1m0 0h1m0 0h1m0 0h1m0 0h1m0 0h1m0 0h1m0 0h1m1 0h1m1 0h1m2 0h1m0 0h1m1 0h1m-31 1h1m3 0h1m0 0h1m0 0h1m1 0h1m0 0h1m0 0h1m0 0h1m0 0h1m1 0h1m0 0h1m0 0h1m3 0h1m1 0h1m1 0h1m1 0h1m1 0h1m0 0h1m0 0h1m-37 1h1m9 0h1m0 0h1m0 0h1m1 0h1m0 0h1m0 0h1m0 0h1m2 0h1m0 0h1m0 0h1m1 0h1m1 0h1m0 0h1m0 0h1m0 0h1m2 0h1m0 0h1m0 0h1m1 0h1m-32 1h1m1 0h1m3 0h1m0 0h1m0 0h1m0 0h1m1 0h1m0 0h1m0 0h1m0 0h1m0 0h1m0 0h1m0 0h1m0 0h1m0 0h1m0 0h1m0 0h1m0 0h1m0 0h1m0 0h1m0 0h1m1 0h1m0 0h1m1 0h1m1 0h1m-33 1h1m3 0h1m0 0h1m0 0h1m0 0h1m0 0h1m1 0h1m0 0h1m0 0h1m1 0h1m0 0h1m1 0h1m0 0h1m0 0h1m0 0h1m0 0h1m0 0h1m1 0h1m0 0h1m2 0h1m0 0h1m0 0h1m0 0h1m0 0h1m-31 1h1m0 0h1m0 0h1m0 0h1m0 0h1m0 0h1m0 0h1m0 0h1m0 0h1m0 0h1m0 0h1m1 0h1m0 0h1m0 0h1m0 0h1m0 0h1m0 0h1m0 0h1m1 0h1m1 0h1m0 0h1m0 0h1m0 0h1m1 0h1m0 0h1m-32 1h1m1 0h1m1 0h1m1 0h1m0 0h1m1 0h1m0 0h1m0 0h1m0 0h1m0 0h1m0 0h1m0 0h1m0 0h1m0 0h1m0 0h1m0 0h1m0 0h1m0 0h1m0 0h1m0 0h1m1 0h1m0 0h1m0 0h1m0 0h1m0 0h1m0 0h1m0 0h1m0 0h1m0 0h1m-37 1h1m2 0h1m4 0h1m0 0h1m0 0h1m0 0h1m0 0h1m0 0h1m0 0h1m0 0h1m0 0h1m0 0h1m0 0h1m0 0h1m0 0h1m0 0h1m0 0h1m0 0h1m0 0h1m0 0h1m0 0h1m0 0h1m0 0h1m0 0h1m1 0h1m1 0h1m0 0h1m0 0h1m0 0h1m-31 1h1m0 0h1m0 0h1m0 0h1m0 0h1m2 0h1m0 0h1m1 0h1m0 0h1m0 0h1m0 0h1m0 0h1m0 0h1m0 0h1m0 0h1m0 0h1m0 0h1m0 0h1m0 0h1m0 0h1m0 0h1m0 0h1m0 0h1m0 0h1m1 0h1m0 0h1m0 0h1m-31 1h1m0 0h1m1 0h1m0 0h1m0 0h1m0 0h1m0 0h1m0 0h1m0 0h1m0 0h1m0 0h1m0 0h1m1 0h1m0 0h1m0 0h1m0 0h1m0 0h1m0 0h1m0 0h1m0 0h1m0 0h1m0 0h1m0 0h1m0 0h1m0 0h1m0 0h1m0 0h1m0 0h1m0 0h1m-31 1h1m3 0h1m0 0h1m0 0h1m0 0h1m0 0h1m0 0h1m0 0h1m0 0h1m0 0h1m0 0h1m0 0h1m1 0h1m0 0h1m0 0h1m0 0h1m0 0h1m0 0h1m0 0h1m0 0h1m0 0h1m0 0h1m0 0h1m0 0h1m1 0h1m0 0h1m-32 1h1m1 0h1m1 0h1m0 0h1m2 0h1m0 0h1m0 0h1m1 0h1m0 0h1m0 0h1m0 0h1m0 0h1m0 0h1m0 0h1m0 0h1m0 0h1m0 0h1m3 0h1m0 0h1m0 0h1m1 0h1m0 0h1m-32 1h1m3 0h1m2 0h1m1 0h1m0 0h1m1 0h1m0 0h1m0 0h1m0 0h1m0 0h1m0 0h1m0 0h1m0 0h1m0 0h1m0 0h1m0 0h1m0 0h1m0 0h1m0 0h1m0 0h1m0 0h1m0 0h1m1 0h1m0 0h1m-35 1h1m6 0h1m2 0h1m0 0h1m0 0h1m2 0h1m0 0h1m3 0h1m0 0h1m0 0h1m0 0h1m0 0h1m1 0h1m0 0h1m0 0h1m0 0h1m1 0h1m0 0h1m0 0h1m0 0h1m-33 1h1m5 0h1m0 0h1m0 0h1m0 0h1m0 0h1m0 0h1m0 0h1m0 0h1m0 0h1m0 0h1m0 0h1m1 0h1m0 0h1m0 0h1m0 0h1m1 0h1m1 0h1m0 0h1m0 0h1m0 0h1m0 0h1m1 0h1m0 0h1m-26 1h1m1 0h1m0 0h1m0 0h1m0 0h1m0 0h1m0 0h1m0 0h1m0 0h1m0 0h1m0 0h1m0 0h1m1 0h1m1 0h1m1 0h1m0 0h1m0 0h1m0 0h1m1 0h1m0 0h1m0 0h1m-26 1h1m2 0h1m0 0h1m0 0h1m0 0h1m0 0h1m0 0h1m0 0h1m0 0h1m0 0h1m0 0h1m3 0h1m1 0h1m0 0h1m-27 1h1m2 0h1m5 0h1m1 0h1m0 0h1m0 0h1m1 0h1m0 0h1m0 0h1m0 0h1m0 0h1m1 0h1m0 0h1m1 0h1m1 0h1m0 0h1m-24 1h1m7 0h1m2 0h1m3 0h1m3 0h1m0 0h1m2 0h1m0 0h1m1 0h1m-20 1h1m10 0h1m0 0h1m3 0h1m-14 1h1m2 0h1m11 0h1m2 0h1m-30 1h1m20 0h1m5 0h1m0 0h1m-13 1h1m7 0h1m4 2h1m-20 1h1m13 3h1m-11 1h1m0 0h1m9 0h1m0 1h1" stroke="#0a0a12" stroke-width="1" opacity="0.9" transform="translate(0 0.5)"/>
<path d="M365 302h1m1 0h1m2 0h1m-10 1h1m9 0h1m15 0h1m-26 1h1m5 0h1m3 0h1m17 0h1m-29 1h1m5 0h1m0 0h1m-6 1h1m3 0h1m0 0h1m3 0h1m0 0h1m6 0h1m-21 1h1m0 0h1m4 0h1m0 0h1m1 0h1m0 0h1m0 0h1m5 0h1m-31 1h1m7 0h1m4 0h1m1 0h1m0 0h1m0 0h1m0 0h1m6 0h1m5 0h1m1 0h1m-30 1h1m3 0h1m0 0h1m5 0h1m1 0h1m0 0h1m1 0h1m2 0h1m5 0h1m9 0h1m-38 1h1m0 0h1m2 0h1m2 0h1m0 0h1m1 0h1m1 0h1m0 0h1m1 0h1m3 0h1m0 0h1m0 0h1m3 0h1m-27 1h1m1 0h1m1 0h1m0 0h1m0 0h1m0 0h1m1 0h1m0 0h1m0 0h1m2 0h1m0 0h1m1 0h1m0 0h1m2 0h1m1 0h1m10 0h1m-37 1h1m0 0h1m2 0h1m0 0h1m2 0h1m0 0h1m0 0h1m4 0h1m0 0h1m1 0h1m0 0h1m0 0h1m1 0h1m0 0h1m0 0h1m1 0h1m3 0h1m4 0h1m-36 1h1m0 0h1m4 0h1m0 0h1m0 0h1m0 0h1m0 0h1m0 0h1m0 0h1m0 0h1m2 0h1m2 0h1m0 0h1m0 0h1m5 0h1m4 0h1m-30 1h1m1 0h1m1 0h1m0 0h1m0 0h1m1 0h1m0 0h1m0 0h1m0 0h1m0 0h1m0 0h1m0 0h1m1 0h1m0 0h1m0 0h1m3 0h1m0 0h1m0 0h1m1 0h1m0 0h1m4 0h1m-36 1h1m0 0h1m0 0h1m0 0h1m0 0h1m0 0h1m0 0h1m0 0h1m0 0h1m0 0h1m0 0h1m0 0h1m1 0h1m0 0h1m0 0h1m0 0h1m3 0h1m0 0h1m2 0h1m2 0h1m13 0h1m-42 1h1m1 0h1m0 0h1m0 0h1m0 0h1m0 0h1m0 0h1m0 0h1m0 0h1m0 0h1m0 0h1m0 0h1m0 0h1m0 0h1m0 0h1m0 0h1m0 0h1m0 0h1m1 0h1m0 0h1m0 0h1m0 0h1m1 0h1m0 0h1m-27 1h1m0 0h1m0 0h1m0 0h1m0 0h1m1 0h1m0 0h1m0 0h1m0 0h1m0 0h1m0 0h1m0 0h1m0 0h1m0 0h1m0 0h1m0 0h1m0 0h1m0 0h1m0 0h1m0 0h1m0 0h1m0 0h1m0 0h1m1 0h1m4 0h1m-31 1h1m0 0h1m0 0h1m0 0h1m0 0h1m0 0h1m0 0h1m0 0h1m0 0h1m1 0h1m0 0h1m0 0h1m0 0h1m0 0h1m0 0h1m0 0h1m0 0h1m0 0h1m0 0h1m0 0h1m1 0h1m0 0h1m1 0h1m1 0h1m0 0h1m0 0h1m5 0h1m-36 1h1m0 0h1m0 0h1m0 0h1m0 0h1m0 0h1m0 0h1m0 0h1m0 0h1m0 0h1m0 0h1m0 0h1m0 0h1m1 0h1m0 0h1m0 0h1m0 0h1m0 0h1m0 0h1m1 0h1m2 0h1m2 0h1m0 0h1m0 0h1m11 0h1m-42 1h1m1 0h1m0 0h1m0 0h1m0 0h1m0 0h1m0 0h1m0 0h1m1 0h1m0 0h1m0 0h1m0 0h1m0 0h1m0 0h1m0 0h1m0 0h1m0 0h1m0 0h1m2 0h1m1 0h1m1 0h1m2 0h1m2 0h1m-32 1h1m0 0h1m0 0h1m1 0h1m0 0h1m0 0h1m0 0h1m0 0h1m0 0h1m0 0h1m0 0h1m0 0h1m0 0h1m0 0h1m0 0h1m0 0h1m0 0h1m0 0h1m0 0h1m1 0h1m0 0h1m1 0h1m7 0h1m-34 1h1m0 0h1m0 0h1m0 0h1m1 0h1m0 0h1m0 0h1m1 0h1m0 0h1m0 0h1m1 0h1m0 0h1m1 0h1m1 0h1m0 0h1m0 0h1m0 0h1m0 0h1m2 0h1m0 0h1m0 0h1m3 0h1m-32 1h1m0 0h1m0 0h1m1 0h1m0 0h1m0 0h1m0 0h1m0 0h1m0 0h1m1 0h1m0 0h1m0 0h1m0 0h1m1 0h1m0 0h1m0 0h1m0 0h1m0 0h1m0 0h1m1 0h1m0 0h1m0 0h1m0 0h1m0 0h1m4 0h1m-33 1h1m0 0h1m0 0h1m0 0h1m0 0h1m0 0h1m0 0h1m1 0h1m0 0h1m0 0h1m0 0h1m0 0h1m0 0h1m1 0h1m0 0h1m0 0h1m0 0h1m1 0h1m5 0h1m2 0h1m-30 1h1m0 0h1m0 0h1m0 0h1m0 0h1m0 0h1m0 0h1m0 0h1m0 0h1m0 0h1m2 0h1m0 0h1m1 0h1m0 0h1m0 0h1m0 0h1m0 0h1m0 0h1m0 0h1m1 0h1m3 0h1m-27 1h1m0 0h1m2 0h1m0 0h1m0 0h1m0 0h1m0 0h1m0 0h1m0 0h1m0 0h1m0 0h1m0 0h1m0 0h1m0 0h1m0 0h1m0 0h1m0 0h1m1 0h1m1 0h1m-23 1h1m0 0h1m0 0h1m0 0h1m1 0h1m0 0h1m0 0h1m0 0h1m0 0h1m0 0h1m0 0h1m0 0h1m0 0h1m0 0h1m1 0h1m0 0h1m0 0h1m0 0h1m0 0h1m0 0h1m2 0h1m0 0h1m6 0h1m-33 1h1m0 0h1m0 0h1m0 0h1m0 0h1m0 0h1m0 0h1m0 0h1m0 0h1m1 0h1m0 0h1m0 0h1m0 0h1m0 0h1m0 0h1m2 0h1m-20 1h1m0 0h1m0 0h1m2 0h1m1 0h1m0 0h1m1 0h1m0 0h1m1 0h1m0 0h1m0 0h1m0 0h1m1 0h1m9 0h1m-29 1h1m1 0h1m4 0h1m0 0h1m0 0h1m0 0h1m1 0h1m0 0h1m0 0h1m0 0h1m1 0h1m0 0h1m2 0h1m0 0h1m1 0h1m-25 1h1m2 0h1m1 0h1m1 0h1m0 0h1m0 0h1m5 0h1m0 0h1m3 0h1m-22 1h1m1 0h1m1 0h1m0 0h1m1 0h1m1 0h1m2 0h1m3 0h1m0 0h1m4 0h1m-19 1h1m1 0h1m0 0h1m2 0h1m1 0h1m0 0h1m0 0h1m11 0h1m3 0h1m-28 1h1m10 0h1m5 0h1m1 0h1m5 0h1m-27 1h1m11 0h1m5 0h1m0 0h1m8 0h1m-31 1h1m3 0h1m4 1h1m0 0h1m6 0h1m-14 1h1" stroke="#f39a18" stroke-width="1" opacity="0.75" transform="translate(0 0.5)"/>
<path d="M372 300h1m1 0h1m1 0h1m0 0h1m-16 1h1m7 0h1m7 0h1m6 0h1m-33 1h1m5 0h1m0 0h1m6 0h1m8 0h1m9 0h1m1 0h1m0 0h1m3 0h1m-36 1h1m2 0h1m6 0h1m3 0h1m7 0h1m0 0h1m8 0h1m4 0h1m-27 1h1m1 0h1m6 0h1m15 0h1m-25 1h1m12 0h1m1 0h1m9 0h1m-43 1h1m8 0h1m16 0h1m1 0h1m4 0h1m2 0h1m2 0h1m-37 1h1m8 0h1m19 0h1m1 0h1m5 0h1m0 0h1m-44 1h1m3 0h1m5 0h1m9 0h1m1 0h1m7 0h1m4 0h1m3 0h1m-34 1h1m0 0h1m2 0h1m1 0h1m6 0h1m3 0h1m2 0h1m8 0h1m3 0h1m-29 1h1m4 0h1m2 0h1m0 0h1m8 0h1m1 0h1m11 0h1m-45 1h1m13 0h1m7 0h1m1 0h1m8 0h1m4 0h1m4 0h1m-41 1h1m2 0h1m2 0h1m2 0h1m4 0h1m20 0h1m2 0h1m-40 1h1m7 0h1m7 0h1m5 0h1m16 0h1m-35 1h1m3 0h1m0 0h1m15 0h1m8 0h1m2 0h1m-38 1h1m0 0h1m1 0h1m3 0h1m1 0h1m25 0h1m-21 1h1m-14 1h1m2 0h1m9 0h1m0 0h1m10 0h1m-30 1h1m7 0h1m0 0h1m6 0h1m-18 1h1m5 0h1m11 0h1m7 0h1m11 0h1m-34 1h1m3 0h1m0 0h1m6 0h1m0 0h1m17 0h1m-32 1h1m3 0h1m6 0h1m-17 1h1m3 0h1m3 0h1m3 0h1m1 0h1m12 0h1m4 0h1m-30 1h1m28 0h1m1 1h1m-34 1h1m5 0h1m10 0h1m-19 1h1m3 0h1m8 1h1m6 0h1m4 0h1m-26 1h1m3 0h1m5 0h1m1 0h1m2 0h1m4 0h1m1 0h1m0 0h1m6 0h1m0 0h1m-14 1h1m3 0h1m5 0h1m-25 1h1m0 0h1m16 0h1m-22 1h1m7 0h1m11 0h1m-12 1h1m1 0h1m8 0h1m1 0h1m-21 1h1m2 0h1m3 0h1m8 0h1m2 0h1m-22 1h1m4 0h1m3 0h1m0 0h1m3 0h1m3 0h1m7 0h1m-9 1h1m1 0h1m1 0h1m-21 1h1m0 0h1m7 0h1m13 0h1m-10 1h1m-1 1h1m4 0h1" stroke="#f2b860" stroke-width="1" opacity="0.45" transform="translate(0 0.5)"/>
<path d="M372 290h1m-7 10h1m24 17h1m0 1h1m1 4h1m-45 17h1" stroke="#8c96a8" stroke-width="1" opacity="0.35" transform="translate(0 0.5)"/>
<polygon points="345.9,338.4 347.2,308.5 354.9,301.3 387.5,298.6 402,301.3 375.7,338.4" fill="none" stroke="#e4d4a4" stroke-width="0.85"/>
<text x="390.2" y="326.6" font-size="3.6" fill="#d8c080" text-anchor="start">LPC</text>
<text x="324.2" y="346" font-size="5.6" fill="#2a2a2a" text-anchor="start" stroke="#2a2a2a" stroke-width="0.18">RBC/PKH67</text>
<g clip-path="url(#gcR3)"><ellipse cx="463" cy="321.8" rx="12" ry="7.5" fill="#f7961b" opacity="0.7" filter="url(#bl2)" transform="rotate(-30 463 321.8)"/></g>
<path d="M437 299h1m-6 2h1m-11 3h1m8 0h1m3 0h1m3 2h1m-12 1h1m11 0h1m3 0h1m-2 2h1m-27 1h1m7 0h1m0 0h1m9 0h1m2 0h1m9 0h1m1 0h1m-35 1h1m5 0h1m2 0h1m0 0h1m11 0h1m-21 1h1m6 0h1m4 0h1m1 0h1m2 0h1m-14 1h1m3 0h1m1 0h1m0 0h1m3 0h1m5 0h1m9 0h1m-21 1h1m12 0h1m-26 1h1m7 0h1m6 0h1m4 0h1m5 0h1m-26 1h1m7 0h1m1 0h1m1 0h1m1 0h1m0 0h1m8 0h1m6 0h1m-32 1h1m7 0h1m4 0h1m0 0h1m2 0h1m1 0h1m-19 1h1m8 0h1m2 0h1m3 0h1m6 0h1m0 0h1m1 0h1m1 0h1m0 0h1m0 0h1m-33 1h1m6 0h1m9 0h1m6 0h1m3 0h1m1 0h1m0 0h1m1 0h1m-31 1h1m2 0h1m2 0h1m7 0h1m1 0h1m0 0h1m0 0h1m9 0h1m0 0h1m0 0h1m-26 1h1m3 0h1m3 0h1m1 0h1m1 0h1m9 0h1m2 0h1m-26 1h1m15 0h1m0 0h1m4 0h1m1 0h1m-26 1h1m7 0h1m0 0h1m0 0h1m1 0h1m0 0h1m9 0h1m0 0h1m0 0h1m0 0h1m-8 1h1m1 0h1m2 0h1m0 0h1m-10 1h1m1 0h1m3 0h1m0 0h1m0 0h1m1 0h1m-12 1h1m3 0h1m0 0h1m0 0h1m0 0h1m1 0h1m0 0h1m-30 1h1m0 0h1m20 0h1m3 0h1m1 0h1m-23 1h1m7 0h1m7 0h1m0 0h1m0 0h1m0 0h1m0 0h1m0 0h1m1 0h1m-23 1h1m10 0h1m1 0h1m2 0h1m1 0h1m0 0h1m0 0h1m0 0h1m-25 1h1m0 0h1m1 0h1m19 0h1m0 0h1m0 0h1m-17 1h1m7 0h1m5 0h1m-12 1h1m7 0h1m0 0h1m0 0h1m1 0h1m0 0h1m-20 1h1m3 0h1m7 0h1m-19 1h1m25 2h1" stroke="#b8284c" stroke-width="1" opacity="0.6" transform="translate(0 0.5)"/>
<path d="M498 299h1m-29 4h1m0 0h1m2 0h1m7 0h1m0 0h1m2 0h1m-13 1h1m0 0h1m3 0h1m-1 1h1m2 0h1m7 0h1m-33 1h1m4 0h1m6 0h1m1 0h1m2 0h1m1 0h1m1 0h1m2 0h1m-22 1h1m7 0h1m1 0h1m3 0h1m2 0h1m0 0h1m1 0h1m0 0h1m3 0h1m7 0h1m-29 1h1m1 0h1m3 0h1m0 0h1m0 0h1m4 0h1m2 0h1m0 0h1m0 0h1m1 0h1m1 0h1m-31 1h1m4 0h1m1 0h1m2 0h1m0 0h1m0 0h1m0 0h1m1 0h1m2 0h1m0 0h1m0 0h1m0 0h1m1 0h1m3 0h1m-29 1h1m6 0h1m0 0h1m1 0h1m0 0h1m0 0h1m0 0h1m0 0h1m0 0h1m0 0h1m0 0h1m1 0h1m0 0h1m2 0h1m1 0h1m1 0h1m6 0h1m-31 1h1m2 0h1m0 0h1m0 0h1m1 0h1m0 0h1m0 0h1m0 0h1m1 0h1m0 0h1m0 0h1m0 0h1m0 0h1m0 0h1m1 0h1m0 0h1m2 0h1m0 0h1m0 0h1m1 0h1m-32 1h1m2 0h1m1 0h1m0 0h1m1 0h1m0 0h1m0 0h1m0 0h1m0 0h1m0 0h1m0 0h1m0 0h1m1 0h1m1 0h1m0 0h1m0 0h1m1 0h1m1 0h1m1 0h1m4 0h1m3 0h1m-39 1h1m4 0h1m0 0h1m0 0h1m0 0h1m0 0h1m0 0h1m0 0h1m0 0h1m0 0h1m0 0h1m0 0h1m0 0h1m0 0h1m0 0h1m0 0h1m0 0h1m0 0h1m3 0h1m0 0h1m1 0h1m3 0h1m-35 1h1m0 0h1m0 0h1m3 0h1m1 0h1m0 0h1m0 0h1m0 0h1m0 0h1m0 0h1m0 0h1m0 0h1m0 0h1m0 0h1m0 0h1m0 0h1m0 0h1m0 0h1m0 0h1m0 0h1m0 0h1m0 0h1m0 0h1m0 0h1m0 0h1m0 0h1m-31 1h1m1 0h1m0 0h1m1 0h1m0 0h1m0 0h1m0 0h1m0 0h1m0 0h1m0 0h1m0 0h1m0 0h1m0 0h1m0 0h1m0 0h1m2 0h1m0 0h1m0 0h1m0 0h1m0 0h1m0 0h1m0 0h1m0 0h1m0 0h1m3 0h1m5 0h1m-36 1h1m0 0h1m0 0h1m1 0h1m0 0h1m0 0h1m0 0h1m0 0h1m0 0h1m0 0h1m0 0h1m0 0h1m1 0h1m0 0h1m0 0h1m0 0h1m0 0h1m1 0h1m0 0h1m0 0h1m0 0h1m1 0h1m0 0h1m0 0h1m5 0h1m-36 1h1m1 0h1m0 0h1m0 0h1m0 0h1m0 0h1m0 0h1m0 0h1m0 0h1m0 0h1m0 0h1m0 0h1m0 0h1m0 0h1m0 0h1m0 0h1m0 0h1m0 0h1m0 0h1m0 0h1m0 0h1m0 0h1m0 0h1m0 0h1m0 0h1m0 0h1m0 0h1m0 0h1m4 0h1m0 0h1m3 0h1m-38 1h1m0 0h1m0 0h1m0 0h1m0 0h1m0 0h1m0 0h1m0 0h1m0 0h1m0 0h1m0 0h1m0 0h1m0 0h1m0 0h1m0 0h1m0 0h1m0 0h1m0 0h1m0 0h1m0 0h1m0 0h1m0 0h1m0 0h1m0 0h1m0 0h1m0 0h1m1 0h1m0 0h1m1 0h1m1 0h1m1 0h1m-35 1h1m0 0h1m0 0h1m0 0h1m0 0h1m0 0h1m0 0h1m0 0h1m0 0h1m0 0h1m0 0h1m0 0h1m0 0h1m0 0h1m0 0h1m0 0h1m0 0h1m0 0h1m0 0h1m0 0h1m0 0h1m0 0h1m0 0h1m0 0h1m0 0h1m0 0h1m1 0h1m2 0h1m-31 1h1m0 0h1m0 0h1m0 0h1m0 0h1m0 0h1m0 0h1m0 0h1m0 0h1m0 0h1m0 0h1m0 0h1m0 0h1m0 0h1m0 0h1m0 0h1m0 0h1m0 0h1m0 0h1m0 0h1m0 0h1m0 0h1m0 0h1m0 0h1m0 0h1m0 0h1m0 0h1m0 0h1m1 0h1m-30 1h1m0 0h1m0 0h1m0 0h1m0 0h1m0 0h1m0 0h1m0 0h1m0 0h1m0 0h1m0 0h1m0 0h1m0 0h1m0 0h1m0 0h1m0 0h1m0 0h1m0 0h1m0 0h1m0 0h1m0 0h1m0 0h1m0 0h1m-25 1h1m0 0h1m0 0h1m0 0h1m0 0h1m0 0h1m0 0h1m0 0h1m0 0h1m0 0h1m0 0h1m0 0h1m0 0h1m0 0h1m0 0h1m0 0h1m0 0h1m0 0h1m0 0h1m0 0h1m0 0h1m0 0h1m0 0h1m0 0h1m0 0h1m2 0h1m-27 1h1m1 0h1m0 0h1m0 0h1m1 0h1m0 0h1m0 0h1m0 0h1m0 0h1m0 0h1m0 0h1m0 0h1m0 0h1m0 0h1m0 0h1m0 0h1m0 0h1m0 0h1m0 0h1m0 0h1m0 0h1m1 0h1m3 0h1m2 0h1m0 0h1m-34 1h1m1 0h1m0 0h1m0 0h1m0 0h1m0 0h1m0 0h1m0 0h1m0 0h1m0 0h1m0 0h1m0 0h1m0 0h1m0 0h1m0 0h1m0 0h1m0 0h1m0 0h1m0 0h1m0 0h1m0 0h1m0 0h1m-23 1h1m0 0h1m0 0h1m0 0h1m0 0h1m0 0h1m0 0h1m0 0h1m0 0h1m0 0h1m0 0h1m0 0h1m0 0h1m0 0h1m0 0h1m0 0h1m0 0h1m0 0h1m1 0h1m0 0h1m0 0h1m0 0h1m-23 1h1m0 0h1m0 0h1m0 0h1m0 0h1m0 0h1m0 0h1m0 0h1m0 0h1m0 0h1m0 0h1m0 0h1m0 0h1m0 0h1m0 0h1m0 0h1m0 0h1m0 0h1m0 0h1m0 0h1m2 0h1m0 0h1m0 0h1m0 0h1m4 0h1m2 0h1m-34 1h1m1 0h1m0 0h1m0 0h1m0 0h1m0 0h1m0 0h1m0 0h1m0 0h1m0 0h1m0 0h1m0 0h1m0 0h1m0 0h1m0 0h1m0 0h1m0 0h1m0 0h1m0 0h1m1 0h1m0 0h1m1 0h1m4 0h1m-30 1h1m1 0h1m0 0h1m0 0h1m0 0h1m0 0h1m0 0h1m0 0h1m0 0h1m0 0h1m0 0h1m0 0h1m0 0h1m0 0h1m0 0h1m0 0h1m0 0h1m0 0h1m0 0h1m2 0h1m3 0h1m-27 1h1m0 0h1m0 0h1m0 0h1m0 0h1m0 0h1m0 0h1m0 0h1m0 0h1m0 0h1m0 0h1m0 0h1m0 0h1m0 0h1m0 0h1m0 0h1m0 0h1m0 0h1m0 0h1m0 0h1m0 0h1m-18 1h1m0 0h1m0 0h1m0 0h1m0 0h1m0 0h1m0 0h1m0 0h1m0 0h1m0 0h1m0 0h1m0 0h1m0 0h1m0 0h1m1 0h1m3 0h1m-22 1h1m0 0h1m0 0h1m0 0h1m0 0h1m0 0h1m0 0h1m0 0h1m0 0h1m0 0h1m0 0h1m0 0h1m0 0h1m1 0h1m1 0h1m0 0h1m-19 1h1m1 0h1m0 0h1m0 0h1m0 0h1m0 0h1m2 0h1m0 0h1m0 0h1m0 0h1m0 0h1m2 0h1m3 0h1m-22 1h1m1 0h1m1 0h1m1 0h1m0 0h1m0 0h1m0 0h1m1 0h1m0 0h1m1 0h1m1 0h1m0 0h1m3 0h1m-22 1h1m0 0h1m0 0h1m0 0h1m2 0h1m0 0h1m0 0h1m0 0h1m1 0h1m0 0h1m4 0h1m-13 1h1m0 0h1m0 0h1m0 0h1m2 0h1" stroke="#f5901a" stroke-width="1" opacity="0.85" transform="translate(0 0.5)"/>
<polygon points="450.2,334.8 451.7,308 459.9,302.2 492.5,298 507.9,300.9 479.8,336" fill="none" stroke="#e4d4a4" stroke-width="0.85"/>
<text x="495.3" y="323" font-size="3.6" fill="#d8c080" text-anchor="start">LPC</text>
<text x="439.6" y="138.7" font-size="5.6" fill="#e4262c" text-anchor="start" stroke="#e4262c" stroke-width="0.12">RBC/PKH67/LPC(2.5µM)</text>
<text x="441.7" y="203.8" font-size="5.6" fill="#e4262c" text-anchor="start" stroke="#e4262c" stroke-width="0.12">RBC/PKH67/LPC(5µM)</text>
<text x="441.7" y="274.6" font-size="5.6" fill="#e4262c" text-anchor="start" stroke="#e4262c" stroke-width="0.12">RBC/PKH67/LPC(7.5µM)</text>
<text x="442.7" y="344" font-size="5.6" fill="#e4262c" text-anchor="start" stroke="#e4262c" stroke-width="0.12">RBC/PKH67/LPC(10µM)</text>
<rect x="302.8" y="18.1" width="35.8" height="21.2" fill="#b3b3b3"/>
<rect x="302.8" y="40.3" width="35.8" height="27.2" fill="#050505"/>
<g transform="translate(314 28.9) rotate(-20) scale(1.17 1.12) translate(-313.4 -28.6)"><path d="M313.2 20.6c2.8 0 4.1 2.2 3.7 4.6c-0.3 1.7 -1.3 2.3 -0.7 3.8c0.8 2 0.8 5 -2.8 5.4c-3.3 0.3 -4.3 -2.4 -4.0 -4.6c0.2 -1.6 1.1 -2.2 0.5 -3.8c-0.8 -2.2 0.4 -5.4 3.3 -5.4z" fill="#fafafa" stroke="#1a1a1a" stroke-width="1.5"/><path d="M310.6 22.6c-0.8 1.6 -0.2 3.4 0.4 4.6c0.5 1.2 -0.6 2.4 -0.6 3.8" stroke="#444" stroke-width="1.1" fill="none"/></g>
<g filter="url(#bl06)"><rect x="-3.9" y="-8.1" width="7.8" height="16.2" rx="3.9" transform="translate(324.0 50.5) rotate(-20)" fill="#e6dc00" stroke="#f8f010" stroke-width="1.9"/><rect x="-1.2" y="-5" width="2.4" height="10" rx="1.2" transform="translate(324.0 50.5) rotate(-20)" fill="#cfc400"/></g>
<rect x="346" y="17.5" width="36.8" height="21.7" fill="#b6b6b6"/>
<rect x="346" y="40.2" width="36.8" height="27.6" fill="#050505"/>
<ellipse cx="364.3" cy="29.1" rx="8.6" ry="7.6" fill="#f4f4f4" stroke="#3a3a3a" stroke-width="1.2"/>
<path d="M356.2 31.2a8.6 7.6 0 0 0 10 5.4" stroke="#222" stroke-width="1.6" fill="none"/>
<circle cx="364.6" cy="29.4" r="2.8" fill="#a8a8a8"/>
<circle cx="365.4" cy="30.4" r="1.3" fill="#fff"/>
<g filter="url(#bl06)"><circle cx="367.1" cy="56.8" r="8.3" fill="#77720a" stroke="#d6cf1c" stroke-width="1.7"/><circle cx="366" cy="55.5" r="3.5" fill="#8c8612"/></g>
<rect x="428.1" y="17.5" width="36.3" height="21.7" fill="#a0a0a0"/>
<rect x="428.1" y="40.2" width="36.3" height="27.5" fill="#050505"/>
<path d="M447.8 19.2c4.6 0 7.4 3.6 7 8.2c-0.4 4.8 -3.8 9.4 -7.4 9.4c-3.6 0 -6.2 -4.2 -6.2 -8.6c0 -5 2.6 -9 6.6 -9z" fill="#5a5a5a" stroke="#f4f4f4" stroke-width="1.4"/>
<path d="M445.6 23.5c1.6 0.5 2.4 2.5 1.6 5.2c-0.6 2 -0.2 3.6 0.8 4.6" stroke="#a8a8a8" stroke-width="1.1" fill="none"/>
<g filter="url(#bl06)"><ellipse cx="442.1" cy="50.3" rx="6.4" ry="8.0" fill="#9a9618"/><path d="M444.5 44.5c2.6 2.4 2.8 8.4 0 11.5" stroke="#b6b22a" stroke-width="1.6" fill="none"/></g>
<rect x="471.9" y="17.8" width="37" height="22.7" fill="#a4a4a4"/>
<rect x="471.9" y="41.5" width="37" height="26.6" fill="#050505"/>
<circle cx="490.7" cy="28.1" r="6.9" fill="#4a4a4a" stroke="#f6f6f6" stroke-width="1.5"/>
<ellipse cx="490.7" cy="26.6" rx="3.2" ry="2.2" fill="#8a8a8a"/>
<g filter="url(#bl1)"><ellipse cx="493.5" cy="51.4" rx="7.8" ry="7.6" fill="#f0ec00"/></g>
<ellipse cx="493.5" cy="51.4" rx="6.8" ry="6.6" fill="#fcfc10"/>
<line x1="326.1" y1="69.5" x2="330.6" y2="100.5" stroke="#222" stroke-width="0.8"/>
<line x1="360" y1="71.4" x2="352.7" y2="108.8" stroke="#222" stroke-width="0.8"/>
<line x1="442.4" y1="72" x2="447.7" y2="101.2" stroke="#222" stroke-width="0.8"/>
<line x1="485.9" y1="73.7" x2="467.1" y2="104.3" stroke="#222" stroke-width="0.8"/>
<circle cx="326.1" cy="69.8" r="0.8" fill="#222"/>
<circle cx="360.0" cy="71.6" r="0.8" fill="#222"/>
<circle cx="442.4" cy="72.2" r="0.8" fill="#222"/>
<circle cx="485.9" cy="73.9" r="0.8" fill="#222"/>
<text x="5.8" y="11.6" font-size="10.8" fill="#000" text-anchor="start" font-weight="bold">A</text>
<text x="147.9" y="12.6" font-size="10.6" fill="#000" text-anchor="start" font-weight="bold">B</text>
<text x="304.7" y="13.7" font-size="11.2" fill="#000" text-anchor="start" font-weight="bold">C</text>
<text x="81.2" y="382.2" font-size="7.6" fill="#1a1a1a" text-anchor="middle" stroke="#1a1a1a" stroke-width="0.12">Projected surface area (µm<tspan font-size="5" dy="-2.6">2</tspan><tspan dy="2.6">)</tspan></text>
<text x="214.5" y="382.3" font-size="7.6" fill="#1a1a1a" text-anchor="middle" stroke="#1a1a1a" stroke-width="0.12">Aspect ratio</text>
</g>
</svg>
</body></html>
